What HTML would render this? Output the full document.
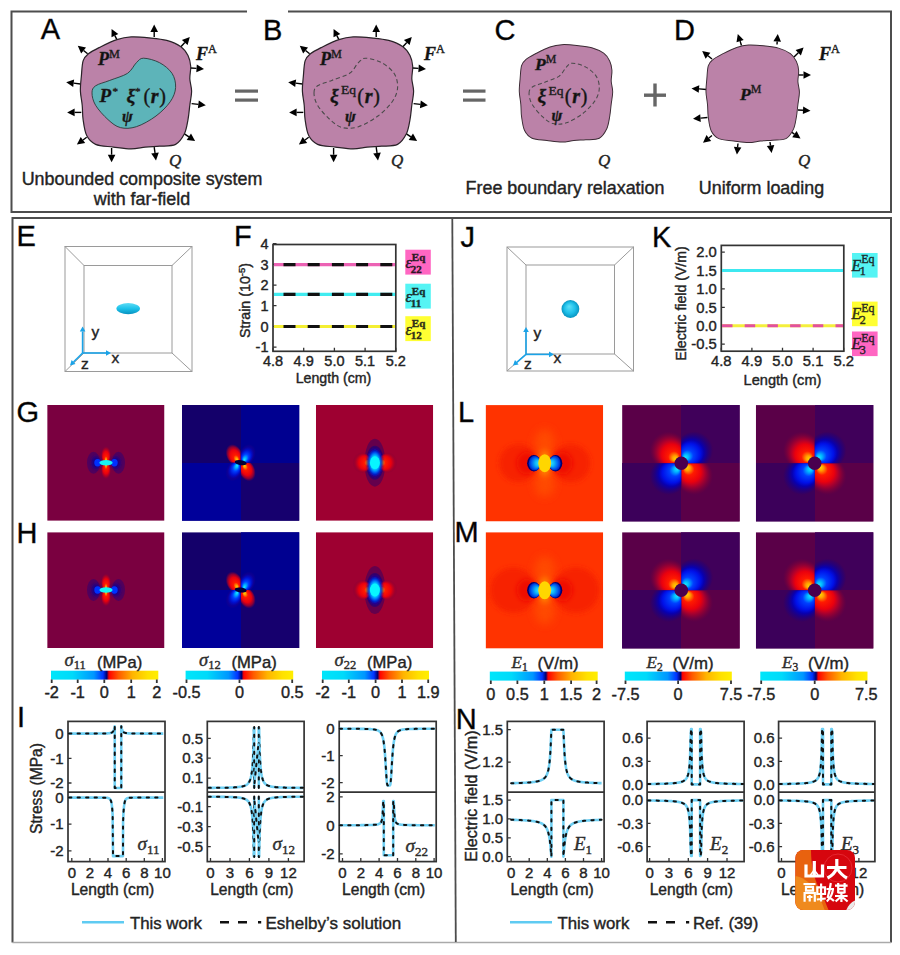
<!DOCTYPE html><html><head><meta charset="utf-8"><style>html,body{margin:0;padding:0;background:#fff;width:900px;height:955px;overflow:hidden}svg{display:block}text{stroke:#262626;stroke-width:0.4px}</style></head><body>
<svg width="900" height="955" viewBox="0 0 900 955">
<defs>
<filter id="b0_5" x="-100%" y="-100%" width="300%" height="300%"><feGaussianBlur stdDeviation="0.5"/></filter>
<filter id="b0_8" x="-100%" y="-100%" width="300%" height="300%"><feGaussianBlur stdDeviation="0.8"/></filter>
<filter id="b1" x="-100%" y="-100%" width="300%" height="300%"><feGaussianBlur stdDeviation="1"/></filter>
<filter id="b1_3" x="-100%" y="-100%" width="300%" height="300%"><feGaussianBlur stdDeviation="1.3"/></filter>
<filter id="b1_6" x="-100%" y="-100%" width="300%" height="300%"><feGaussianBlur stdDeviation="1.6"/></filter>
<filter id="b2" x="-100%" y="-100%" width="300%" height="300%"><feGaussianBlur stdDeviation="2"/></filter>
<filter id="b2_5" x="-100%" y="-100%" width="300%" height="300%"><feGaussianBlur stdDeviation="2.5"/></filter>
<filter id="b3" x="-100%" y="-100%" width="300%" height="300%"><feGaussianBlur stdDeviation="3"/></filter>
<filter id="b4" x="-100%" y="-100%" width="300%" height="300%"><feGaussianBlur stdDeviation="4"/></filter>
<filter id="b5" x="-100%" y="-100%" width="300%" height="300%"><feGaussianBlur stdDeviation="5"/></filter>
<filter id="b6" x="-100%" y="-100%" width="300%" height="300%"><feGaussianBlur stdDeviation="6"/></filter>
</defs>
<g fill="none">
<path d="M247,11.5 H11.5 V212 H891 V11.5 H288" stroke="#4d4d4d" stroke-width="2"/>
<path d="M12.5,942.5 V218 H891 V942.5" stroke="#4d4d4d" stroke-width="2"/>
<path d="M12.5,942.5 H891" stroke="#aaa" stroke-width="1.3"/>
<path d="M452.3,218 L455.8,942" stroke="#4d4d4d" stroke-width="1.8"/>
</g>
<text x="40.8" y="39.2" font-family='"Liberation Sans", sans-serif' font-size="29" fill="#000" >A</text>
<text x="263.0" y="40.0" font-family='"Liberation Sans", sans-serif' font-size="29" fill="#000" >B</text>
<text x="494.5" y="39.5" font-family='"Liberation Sans", sans-serif' font-size="29" fill="#000" >C</text>
<text x="674.0" y="39.5" font-family='"Liberation Sans", sans-serif' font-size="29" fill="#000" >D</text>
<line x1="87.6" y1="53.8" x2="83.6" y2="50.5" stroke="#000" stroke-width="1.4"/>
<path d="M77.8,45.8 L86.0,47.6 L81.2,53.5 Z" fill="#000"/>
<line x1="116.9" y1="39.6" x2="114.9" y2="35.6" stroke="#000" stroke-width="1.4"/>
<path d="M111.6,28.9 L118.3,33.9 L111.5,37.3 Z" fill="#000"/>
<line x1="154.2" y1="36.9" x2="154.2" y2="31.9" stroke="#000" stroke-width="1.4"/>
<path d="M154.2,24.4 L158.0,31.9 L150.4,31.9 Z" fill="#000"/>
<line x1="180.9" y1="46.7" x2="184.8" y2="42.5" stroke="#000" stroke-width="1.4"/>
<path d="M189.8,36.9 L187.6,45.0 L181.9,39.9 Z" fill="#000"/>
<line x1="190.7" y1="68.0" x2="196.5" y2="68.4" stroke="#000" stroke-width="1.4"/>
<path d="M204.0,68.9 L196.3,72.2 L196.8,64.6 Z" fill="#000"/>
<line x1="191.6" y1="103.6" x2="198.4" y2="104.4" stroke="#000" stroke-width="1.4"/>
<path d="M205.8,105.3 L197.9,108.2 L198.8,100.6 Z" fill="#000"/>
<line x1="184.4" y1="133.8" x2="188.9" y2="136.8" stroke="#000" stroke-width="1.4"/>
<path d="M195.1,140.9 L186.7,139.9 L191.0,133.6 Z" fill="#000"/>
<line x1="154.2" y1="147.1" x2="155.0" y2="153.0" stroke="#000" stroke-width="1.4"/>
<path d="M156.0,160.4 L151.2,153.5 L158.8,152.5 Z" fill="#000"/>
<line x1="111.6" y1="148.0" x2="111.6" y2="154.7" stroke="#000" stroke-width="1.4"/>
<path d="M111.6,162.2 L107.8,154.7 L115.4,154.7 Z" fill="#000"/>
<line x1="86.7" y1="137.3" x2="83.0" y2="140.0" stroke="#000" stroke-width="1.4"/>
<path d="M76.9,144.4 L80.7,136.9 L85.2,143.1 Z" fill="#000"/>
<line x1="81.3" y1="112.4" x2="74.6" y2="112.4" stroke="#000" stroke-width="1.4"/>
<path d="M67.1,112.4 L74.6,108.6 L74.6,116.2 Z" fill="#000"/>
<line x1="80.4" y1="84.0" x2="73.6" y2="83.1" stroke="#000" stroke-width="1.4"/>
<path d="M66.2,82.2 L74.1,79.4 L73.2,86.9 Z" fill="#000"/>
<path d="M83.1,60.9 C84.3,57.0 85.4,56.2 88.4,53.8 C91.4,51.4 96.2,49.1 100.9,46.7 C105.7,44.3 111.9,41.2 116.9,39.6 C121.9,38.0 125.8,37.2 131.1,36.9 C136.4,36.6 143.0,37.2 148.9,37.8 C154.8,38.4 161.4,38.9 166.7,40.4 C172.0,41.9 177.3,44.2 180.9,46.7 C184.5,49.2 186.4,52.4 188.0,55.6 C189.6,58.9 190.4,62.4 190.7,66.2 C191.0,70.0 189.7,74.6 189.8,78.7 C190.0,82.8 191.6,86.7 191.6,91.1 C191.6,95.5 190.4,100.5 189.8,105.3 C189.2,110.0 188.9,114.8 188.0,119.6 C187.1,124.3 186.5,129.7 184.4,133.8 C182.3,137.9 179.7,142.3 175.6,144.4 C171.5,146.5 164.6,145.8 159.6,146.2 C154.6,146.6 150.1,146.6 145.3,147.1 C140.6,147.6 136.4,148.9 131.1,148.9 C125.8,148.9 119.2,147.8 113.3,147.1 C107.4,146.3 100.0,146.3 95.6,144.4 C91.2,142.5 88.8,139.7 86.7,135.6 C84.6,131.5 83.8,124.6 83.1,119.6 C82.3,114.5 82.7,110.0 82.2,105.3 C81.8,100.5 80.6,95.8 80.4,91.1 C80.2,86.4 80.8,81.9 81.3,76.9 C81.8,71.9 81.9,64.8 83.1,60.9 Z" fill="#bb82a8" stroke="#2a2228" stroke-width="1.2"/>
<path d="M92.0,92.9 C92.0,89.7 92.6,87.9 95.6,85.8 C98.6,83.7 104.5,82.5 109.8,80.4 C115.1,78.3 123.2,76.2 127.6,73.3 C132.0,70.3 133.7,65.2 136.4,62.7 C139.1,60.2 139.7,58.2 143.6,58.2 C147.5,58.2 154.9,60.2 159.6,62.7 C164.3,65.2 169.3,69.2 172.0,73.3 C174.7,77.4 175.9,82.8 175.6,87.6 C175.3,92.3 173.5,97.1 170.2,101.8 C166.9,106.5 161.6,111.8 156.0,116.0 C150.4,120.2 142.3,124.8 136.4,126.7 C130.5,128.6 125.1,128.8 120.4,127.6 C115.7,126.4 112.1,123.3 108.0,119.6 C103.9,115.9 98.3,109.8 95.6,105.3 C92.9,100.8 92.0,96.2 92.0,92.9 Z" fill="#5db4b9" stroke="#2a3a3a" stroke-width="0.9"/>
<g transform="translate(222,0)">
<line x1="87.6" y1="53.8" x2="83.6" y2="50.5" stroke="#000" stroke-width="1.4"/>
<path d="M77.8,45.8 L86.0,47.6 L81.2,53.5 Z" fill="#000"/>
<line x1="116.9" y1="39.6" x2="114.9" y2="35.6" stroke="#000" stroke-width="1.4"/>
<path d="M111.6,28.9 L118.3,33.9 L111.5,37.3 Z" fill="#000"/>
<line x1="154.2" y1="36.9" x2="154.2" y2="31.9" stroke="#000" stroke-width="1.4"/>
<path d="M154.2,24.4 L158.0,31.9 L150.4,31.9 Z" fill="#000"/>
<line x1="180.9" y1="46.7" x2="184.8" y2="42.5" stroke="#000" stroke-width="1.4"/>
<path d="M189.8,36.9 L187.6,45.0 L181.9,39.9 Z" fill="#000"/>
<line x1="190.7" y1="68.0" x2="196.5" y2="68.4" stroke="#000" stroke-width="1.4"/>
<path d="M204.0,68.9 L196.3,72.2 L196.8,64.6 Z" fill="#000"/>
<line x1="191.6" y1="103.6" x2="198.4" y2="104.4" stroke="#000" stroke-width="1.4"/>
<path d="M205.8,105.3 L197.9,108.2 L198.8,100.6 Z" fill="#000"/>
<line x1="184.4" y1="133.8" x2="188.9" y2="136.8" stroke="#000" stroke-width="1.4"/>
<path d="M195.1,140.9 L186.7,139.9 L191.0,133.6 Z" fill="#000"/>
<line x1="154.2" y1="147.1" x2="155.0" y2="153.0" stroke="#000" stroke-width="1.4"/>
<path d="M156.0,160.4 L151.2,153.5 L158.8,152.5 Z" fill="#000"/>
<line x1="111.6" y1="148.0" x2="111.6" y2="154.7" stroke="#000" stroke-width="1.4"/>
<path d="M111.6,162.2 L107.8,154.7 L115.4,154.7 Z" fill="#000"/>
<line x1="86.7" y1="137.3" x2="83.0" y2="140.0" stroke="#000" stroke-width="1.4"/>
<path d="M76.9,144.4 L80.7,136.9 L85.2,143.1 Z" fill="#000"/>
<line x1="81.3" y1="112.4" x2="74.6" y2="112.4" stroke="#000" stroke-width="1.4"/>
<path d="M67.1,112.4 L74.6,108.6 L74.6,116.2 Z" fill="#000"/>
<line x1="80.4" y1="84.0" x2="73.6" y2="83.1" stroke="#000" stroke-width="1.4"/>
<path d="M66.2,82.2 L74.1,79.4 L73.2,86.9 Z" fill="#000"/>
<path d="M83.1,60.9 C84.3,57.0 85.4,56.2 88.4,53.8 C91.4,51.4 96.2,49.1 100.9,46.7 C105.7,44.3 111.9,41.2 116.9,39.6 C121.9,38.0 125.8,37.2 131.1,36.9 C136.4,36.6 143.0,37.2 148.9,37.8 C154.8,38.4 161.4,38.9 166.7,40.4 C172.0,41.9 177.3,44.2 180.9,46.7 C184.5,49.2 186.4,52.4 188.0,55.6 C189.6,58.9 190.4,62.4 190.7,66.2 C191.0,70.0 189.7,74.6 189.8,78.7 C190.0,82.8 191.6,86.7 191.6,91.1 C191.6,95.5 190.4,100.5 189.8,105.3 C189.2,110.0 188.9,114.8 188.0,119.6 C187.1,124.3 186.5,129.7 184.4,133.8 C182.3,137.9 179.7,142.3 175.6,144.4 C171.5,146.5 164.6,145.8 159.6,146.2 C154.6,146.6 150.1,146.6 145.3,147.1 C140.6,147.6 136.4,148.9 131.1,148.9 C125.8,148.9 119.2,147.8 113.3,147.1 C107.4,146.3 100.0,146.3 95.6,144.4 C91.2,142.5 88.8,139.7 86.7,135.6 C84.6,131.5 83.8,124.6 83.1,119.6 C82.3,114.5 82.7,110.0 82.2,105.3 C81.8,100.5 80.6,95.8 80.4,91.1 C80.2,86.4 80.8,81.9 81.3,76.9 C81.8,71.9 81.9,64.8 83.1,60.9 Z" fill="#bb82a8" stroke="#2a2228" stroke-width="1.2"/>
<path d="M92.0,92.9 C92.0,89.7 92.6,87.9 95.6,85.8 C98.6,83.7 104.5,82.5 109.8,80.4 C115.1,78.3 123.2,76.2 127.6,73.3 C132.0,70.3 133.7,65.2 136.4,62.7 C139.1,60.2 139.7,58.2 143.6,58.2 C147.5,58.2 154.9,60.2 159.6,62.7 C164.3,65.2 169.3,69.2 172.0,73.3 C174.7,77.4 175.9,82.8 175.6,87.6 C175.3,92.3 173.5,97.1 170.2,101.8 C166.9,106.5 161.6,111.8 156.0,116.0 C150.4,120.2 142.3,124.8 136.4,126.7 C130.5,128.6 125.1,128.8 120.4,127.6 C115.7,126.4 112.1,123.3 108.0,119.6 C103.9,115.9 98.3,109.8 95.6,105.3 C92.9,100.8 92.0,96.2 92.0,92.9 Z" fill="none" stroke="#4a4a4a" stroke-width="1.1" stroke-dasharray="4.2,2.8"/>
</g>
<g transform="translate(566,93.4) scale(0.84,0.87) translate(-136,-92.9)">
<path d="M83.1,60.9 C84.3,57.0 85.4,56.2 88.4,53.8 C91.4,51.4 96.2,49.1 100.9,46.7 C105.7,44.3 111.9,41.2 116.9,39.6 C121.9,38.0 125.8,37.2 131.1,36.9 C136.4,36.6 143.0,37.2 148.9,37.8 C154.8,38.4 161.4,38.9 166.7,40.4 C172.0,41.9 177.3,44.2 180.9,46.7 C184.5,49.2 186.4,52.4 188.0,55.6 C189.6,58.9 190.4,62.4 190.7,66.2 C191.0,70.0 189.7,74.6 189.8,78.7 C190.0,82.8 191.6,86.7 191.6,91.1 C191.6,95.5 190.4,100.5 189.8,105.3 C189.2,110.0 188.9,114.8 188.0,119.6 C187.1,124.3 186.5,129.7 184.4,133.8 C182.3,137.9 179.7,142.3 175.6,144.4 C171.5,146.5 164.6,145.8 159.6,146.2 C154.6,146.6 150.1,146.6 145.3,147.1 C140.6,147.6 136.4,148.9 131.1,148.9 C125.8,148.9 119.2,147.8 113.3,147.1 C107.4,146.3 100.0,146.3 95.6,144.4 C91.2,142.5 88.8,139.7 86.7,135.6 C84.6,131.5 83.8,124.6 83.1,119.6 C82.3,114.5 82.7,110.0 82.2,105.3 C81.8,100.5 80.6,95.8 80.4,91.1 C80.2,86.4 80.8,81.9 81.3,76.9 C81.8,71.9 81.9,64.8 83.1,60.9 Z" fill="#bb82a8" stroke="#3a2a33" stroke-width="1.15"/>
<path d="M92.0,92.9 C92.0,89.7 92.6,87.9 95.6,85.8 C98.6,83.7 104.5,82.5 109.8,80.4 C115.1,78.3 123.2,76.2 127.6,73.3 C132.0,70.3 133.7,65.2 136.4,62.7 C139.1,60.2 139.7,58.2 143.6,58.2 C147.5,58.2 154.9,60.2 159.6,62.7 C164.3,65.2 169.3,69.2 172.0,73.3 C174.7,77.4 175.9,82.8 175.6,87.6 C175.3,92.3 173.5,97.1 170.2,101.8 C166.9,106.5 161.6,111.8 156.0,116.0 C150.4,120.2 142.3,124.8 136.4,126.7 C130.5,128.6 125.1,128.8 120.4,127.6 C115.7,126.4 112.1,123.3 108.0,119.6 C103.9,115.9 98.3,109.8 95.6,105.3 C92.9,100.8 92.0,96.2 92.0,92.9 Z" fill="none" stroke="#4a4a4a" stroke-width="1.25" stroke-dasharray="4.8,3.2"/>
</g>
<line x1="712.0" y1="59.0" x2="708.0" y2="55.7" stroke="#000" stroke-width="1.4"/>
<path d="M702.2,51.0 L710.4,52.8 L705.6,58.7 Z" fill="#000"/>
<line x1="741.5" y1="45.5" x2="740.1" y2="41.1" stroke="#000" stroke-width="1.4"/>
<path d="M737.8,34.0 L743.7,40.0 L736.5,42.3 Z" fill="#000"/>
<line x1="777.0" y1="44.5" x2="777.2" y2="41.5" stroke="#000" stroke-width="1.4"/>
<path d="M777.8,34.0 L781.0,41.8 L773.4,41.2 Z" fill="#000"/>
<line x1="794.0" y1="57.0" x2="798.3" y2="52.8" stroke="#000" stroke-width="1.4"/>
<path d="M803.6,47.5 L800.9,55.5 L795.6,50.1 Z" fill="#000"/>
<line x1="798.5" y1="75.0" x2="803.5" y2="75.0" stroke="#000" stroke-width="1.4"/>
<path d="M811.0,75.1 L803.5,78.8 L803.5,71.2 Z" fill="#000"/>
<line x1="798.0" y1="110.0" x2="803.0" y2="110.3" stroke="#000" stroke-width="1.4"/>
<path d="M810.5,110.7 L802.8,114.1 L803.2,106.5 Z" fill="#000"/>
<line x1="790.0" y1="131.0" x2="794.4" y2="134.1" stroke="#000" stroke-width="1.4"/>
<path d="M800.5,138.5 L792.2,137.2 L796.6,131.0 Z" fill="#000"/>
<line x1="770.0" y1="142.0" x2="770.5" y2="145.6" stroke="#000" stroke-width="1.4"/>
<path d="M771.6,153.0 L766.8,146.1 L774.3,145.0 Z" fill="#000"/>
<line x1="738.0" y1="143.5" x2="737.6" y2="147.0" stroke="#000" stroke-width="1.4"/>
<path d="M736.9,154.5 L733.9,146.7 L741.4,147.4 Z" fill="#000"/>
<line x1="712.0" y1="135.5" x2="708.9" y2="138.0" stroke="#000" stroke-width="1.4"/>
<path d="M703.0,142.7 L706.5,135.0 L711.2,141.0 Z" fill="#000"/>
<line x1="707.5" y1="117.5" x2="700.5" y2="118.1" stroke="#000" stroke-width="1.4"/>
<path d="M693.0,118.7 L700.2,114.3 L700.8,121.9 Z" fill="#000"/>
<line x1="706.5" y1="89.5" x2="699.0" y2="88.9" stroke="#000" stroke-width="1.4"/>
<path d="M691.5,88.4 L699.3,85.2 L698.7,92.7 Z" fill="#000"/>
<g transform="translate(752.7,93.8) scale(0.84,0.87) translate(-136,-92.9)">
<path d="M83.1,60.9 C84.3,57.0 85.4,56.2 88.4,53.8 C91.4,51.4 96.2,49.1 100.9,46.7 C105.7,44.3 111.9,41.2 116.9,39.6 C121.9,38.0 125.8,37.2 131.1,36.9 C136.4,36.6 143.0,37.2 148.9,37.8 C154.8,38.4 161.4,38.9 166.7,40.4 C172.0,41.9 177.3,44.2 180.9,46.7 C184.5,49.2 186.4,52.4 188.0,55.6 C189.6,58.9 190.4,62.4 190.7,66.2 C191.0,70.0 189.7,74.6 189.8,78.7 C190.0,82.8 191.6,86.7 191.6,91.1 C191.6,95.5 190.4,100.5 189.8,105.3 C189.2,110.0 188.9,114.8 188.0,119.6 C187.1,124.3 186.5,129.7 184.4,133.8 C182.3,137.9 179.7,142.3 175.6,144.4 C171.5,146.5 164.6,145.8 159.6,146.2 C154.6,146.6 150.1,146.6 145.3,147.1 C140.6,147.6 136.4,148.9 131.1,148.9 C125.8,148.9 119.2,147.8 113.3,147.1 C107.4,146.3 100.0,146.3 95.6,144.4 C91.2,142.5 88.8,139.7 86.7,135.6 C84.6,131.5 83.8,124.6 83.1,119.6 C82.3,114.5 82.7,110.0 82.2,105.3 C81.8,100.5 80.6,95.8 80.4,91.1 C80.2,86.4 80.8,81.9 81.3,76.9 C81.8,71.9 81.9,64.8 83.1,60.9 Z" fill="#bb82a8" stroke="#3a2a33" stroke-width="1.15"/>
</g>
<text x="98" y="64.5" font-family='"Liberation Serif", serif' font-size="18" fill="#111"><tspan font-weight="bold" font-style="italic">P</tspan><tspan font-size="12.2" dy="-7">M</tspan></text>
<text x="196" y="60" font-family='"Liberation Serif", serif' font-size="18" fill="#111"><tspan font-weight="bold" font-style="italic">F</tspan><tspan font-size="12.2" dy="-7">A</tspan></text>
<text x="169" y="166" font-family='"Liberation Serif", serif' font-size="17" font-style="italic" fill="#222">Q</text>
<text x="99.5" y="102" font-family='"Liberation Serif", serif' font-size="19" font-weight="bold" font-style="italic" fill="#111">P</text>
<text x="112.5" y="95" font-family='"Liberation Serif", serif' font-size="11" fill="#111">*</text>
<text x="126.5" y="101.5" font-family='"Liberation Serif", serif' font-size="19.5" font-weight="bold" font-style="italic" fill="#111">ξ</text>
<text x="135.0" y="94.5" font-family='"Liberation Serif", serif' font-size="11" fill="#111">*</text>
<text x="143.5" y="102.5" font-family='"Liberation Serif", serif' font-size="20" fill="#111" textLength="22.5" lengthAdjust="spacing">(<tspan font-weight="bold" font-style="italic">r</tspan>)</text>
<text x="122" y="122" font-family='"Liberation Serif", serif' font-size="16" font-style="italic" font-weight="bold" fill="#111">ψ</text>
<text x="320" y="64.5" font-family='"Liberation Serif", serif' font-size="18" fill="#111"><tspan font-weight="bold" font-style="italic">P</tspan><tspan font-size="12.2" dy="-7">M</tspan></text>
<text x="424" y="60" font-family='"Liberation Serif", serif' font-size="18" fill="#111"><tspan font-weight="bold" font-style="italic">F</tspan><tspan font-size="12.2" dy="-7">A</tspan></text>
<text x="391" y="166" font-family='"Liberation Serif", serif' font-size="17" font-style="italic" fill="#222">Q</text>
<text x="330" y="101.5" font-family='"Liberation Serif", serif' font-size="19.5" font-weight="bold" font-style="italic" fill="#111">ξ</text>
<text x="341" y="94.0" font-family='"Liberation Serif", serif' font-size="12.5" fill="#111" textLength="15" lengthAdjust="spacingAndGlyphs">Eq</text>
<text x="357.3" y="102.5" font-family='"Liberation Serif", serif' font-size="20" fill="#111" textLength="22.5" lengthAdjust="spacing">(<tspan font-weight="bold" font-style="italic">r</tspan>)</text>
<text x="345" y="122" font-family='"Liberation Serif", serif' font-size="16" font-style="italic" font-weight="bold" fill="#111">ψ</text>
<text x="535" y="70" font-family='"Liberation Serif", serif' font-size="17.5" fill="#111"><tspan font-weight="bold" font-style="italic">P</tspan><tspan font-size="11.9" dy="-7">M</tspan></text>
<text x="598" y="166" font-family='"Liberation Serif", serif' font-size="17" font-style="italic" fill="#222">Q</text>
<text x="537.5" y="102" font-family='"Liberation Serif", serif' font-size="19.5" font-weight="bold" font-style="italic" fill="#111">ξ</text>
<text x="548.5" y="94.5" font-family='"Liberation Serif", serif' font-size="12.5" fill="#111" textLength="15" lengthAdjust="spacingAndGlyphs">Eq</text>
<text x="564.8" y="103" font-family='"Liberation Serif", serif' font-size="20" fill="#111" textLength="22.5" lengthAdjust="spacing">(<tspan font-weight="bold" font-style="italic">r</tspan>)</text>
<text x="551.5" y="121" font-family='"Liberation Serif", serif' font-size="16" font-style="italic" font-weight="bold" fill="#111">ψ</text>
<text x="740" y="99.5" font-family='"Liberation Serif", serif' font-size="17.5" fill="#111"><tspan font-weight="bold" font-style="italic">P</tspan><tspan font-size="11.9" dy="-7">M</tspan></text>
<text x="819" y="60" font-family='"Liberation Serif", serif' font-size="18" fill="#111"><tspan font-weight="bold" font-style="italic">F</tspan><tspan font-size="12.2" dy="-7">A</tspan></text>
<text x="798" y="166" font-family='"Liberation Serif", serif' font-size="17" font-style="italic" fill="#222">Q</text>
<g fill="#666">
<rect x="235" y="89.5" width="23" height="3.2"/><rect x="235" y="98.5" width="23" height="3.2"/>
<rect x="463" y="89.5" width="22.5" height="3.2"/><rect x="463" y="98.5" width="22.5" height="3.2"/>
<rect x="644" y="93.5" width="22" height="3.4"/><rect x="653.3" y="83.5" width="3.4" height="23"/>
</g>
<text x="142.0" y="185.0" font-family='"Liberation Sans", sans-serif' font-size="17.9" text-anchor="middle" fill="#222" >Unbounded composite system</text>
<text x="142.0" y="204.5" font-family='"Liberation Sans", sans-serif' font-size="17.9" text-anchor="middle" fill="#222" >with far-field</text>
<text x="565.0" y="193.5" font-family='"Liberation Sans", sans-serif' font-size="17.9" text-anchor="middle" fill="#222" >Free boundary relaxation</text>
<text x="761.5" y="193.5" font-family='"Liberation Sans", sans-serif' font-size="17.9" text-anchor="middle" fill="#222" >Uniform loading</text>
<text x="16.5" y="246.0" font-family='"Liberation Sans", sans-serif' font-size="29" fill="#000" >E</text>
<text x="234.0" y="246.0" font-family='"Liberation Sans", sans-serif' font-size="29" fill="#000" >F</text>
<text x="16.5" y="422.0" font-family='"Liberation Sans", sans-serif' font-size="29" fill="#000" >G</text>
<text x="16.5" y="542.5" font-family='"Liberation Sans", sans-serif' font-size="29" fill="#000" >H</text>
<text x="17.0" y="727.0" font-family='"Liberation Sans", sans-serif' font-size="29" fill="#000" >I</text>
<g fill="none" stroke="#9a9a9a" stroke-width="1">
<rect x="65" y="246.5" width="127" height="125.0"/>
<rect x="84" y="265.5" width="88" height="87.5"/>
<path d="M65,246.5 L84,265.5 M192,246.5 L172,265.5 M192,371.5 L172,353 M65,371.5 L84,353"/>
</g>
<line x1="82.6" y1="353" x2="82.6" y2="331.5" stroke="#1aa3e8" stroke-width="1.6"/>
<path d="M82.6,326.5 L85.4,331.5 L79.8,331.5 Z" fill="#1aa3e8"/>
<line x1="82.6" y1="353" x2="106.0" y2="353.0" stroke="#1aa3e8" stroke-width="1.6"/>
<path d="M111.0,353.0 L106.0,355.8 L106.0,350.2 Z" fill="#1aa3e8"/>
<line x1="82.6" y1="353" x2="73.5" y2="362.0" stroke="#1aa3e8" stroke-width="1.6"/>
<path d="M70.0,365.5 L71.6,360.0 L75.5,364.0 Z" fill="#1aa3e8"/>
<text x="91.5" y="337.0" font-family='"Liberation Sans", sans-serif' font-size="15.5" fill="#222" >y</text>
<text x="111.5" y="362.5" font-family='"Liberation Sans", sans-serif' font-size="15.5" fill="#222" >x</text>
<text x="81.0" y="369.0" font-family='"Liberation Sans", sans-serif' font-size="15.5" fill="#222" >z</text>
<linearGradient id="ellg" x1="0" y1="0" x2="0" y2="1"><stop offset="0" stop-color="#5fdcf5"/><stop offset="0.5" stop-color="#1cc2ea"/><stop offset="1" stop-color="#0891c0"/></linearGradient>
<ellipse cx="128.2" cy="308.6" rx="11.8" ry="5.6" fill="url(#ellg)"/>
<rect x="273" y="244.5" width="122.8" height="106.8" fill="none" stroke="#333" stroke-width="1.7"/>
<path d="M273,347.1 h3.5 M273,326.4 h3.5 M273,305.7 h3.5 M273,285.1 h3.5 M273,264.4 h3.5 M273,243.7 h3.5 " stroke="#333" stroke-width="1.3" fill="none"/>
<path d="M273.0,351.3 v-3.5 M303.7,351.3 v-3.5 M334.4,351.3 v-3.5 M365.1,351.3 v-3.5 M395.8,351.3 v-3.5 " stroke="#333" stroke-width="1.3" fill="none"/>
<text x="268.5" y="248.9" font-family='"Liberation Sans", sans-serif' font-size="14.5" text-anchor="end" fill="#222" >4</text>
<text x="268.5" y="269.6" font-family='"Liberation Sans", sans-serif' font-size="14.5" text-anchor="end" fill="#222" >3</text>
<text x="268.5" y="290.3" font-family='"Liberation Sans", sans-serif' font-size="14.5" text-anchor="end" fill="#222" >2</text>
<text x="268.5" y="310.9" font-family='"Liberation Sans", sans-serif' font-size="14.5" text-anchor="end" fill="#222" >1</text>
<text x="268.5" y="331.6" font-family='"Liberation Sans", sans-serif' font-size="14.5" text-anchor="end" fill="#222" >0</text>
<text x="268.5" y="352.3" font-family='"Liberation Sans", sans-serif' font-size="14.5" text-anchor="end" fill="#222" >-1</text>
<text x="273.0" y="366.0" font-family='"Liberation Sans", sans-serif' font-size="14.5" text-anchor="middle" fill="#222" >4.8</text>
<text x="303.7" y="366.0" font-family='"Liberation Sans", sans-serif' font-size="14.5" text-anchor="middle" fill="#222" >4.9</text>
<text x="334.4" y="366.0" font-family='"Liberation Sans", sans-serif' font-size="14.5" text-anchor="middle" fill="#222" >5.0</text>
<text x="365.1" y="366.0" font-family='"Liberation Sans", sans-serif' font-size="14.5" text-anchor="middle" fill="#222" >5.1</text>
<text x="395.8" y="366.0" font-family='"Liberation Sans", sans-serif' font-size="14.5" text-anchor="middle" fill="#222" >5.2</text>
<text x="333.5" y="382.5" font-family='"Liberation Sans", sans-serif' font-size="14.2" text-anchor="middle" fill="#222" >Length (cm)</text>
<text transform="translate(250,300.5) rotate(-90)" font-family='"Liberation Sans", sans-serif' font-size="14.3" text-anchor="middle" fill="#222">Strain (10<tspan font-size="9.5" dy="-5">-5</tspan><tspan dy="5">)</tspan></text>
<line x1="274" y1="264.6" x2="395" y2="264.6" stroke="#ec62b4" stroke-width="3.2"/>
<line x1="274" y1="264.6" x2="395" y2="264.6" stroke="#111" stroke-width="3.2" stroke-dasharray="12,12.2" stroke-dashoffset="-9.5"/>
<line x1="274" y1="294.3" x2="395" y2="294.3" stroke="#40ecf0" stroke-width="3.2"/>
<line x1="274" y1="294.3" x2="395" y2="294.3" stroke="#111" stroke-width="3.2" stroke-dasharray="12,12.2" stroke-dashoffset="-9.5"/>
<line x1="274" y1="326.5" x2="395" y2="326.5" stroke="#f4ef32" stroke-width="3.2"/>
<line x1="274" y1="326.5" x2="395" y2="326.5" stroke="#111" stroke-width="3.2" stroke-dasharray="12,12.2" stroke-dashoffset="-9.5"/>
<rect x="405.3" y="249.7" width="25.5" height="24.9" fill="#ff66c2"/>
<text x="405.5" y="268.2" font-family='"Liberation Serif", serif' font-size="16" fill="#3a0a28"><tspan font-style="italic">ε</tspan><tspan font-size="11" font-weight="bold" dy="-7.5">Eq</tspan><tspan font-size="11" font-weight="bold" dx="-14.5" dy="12">22</tspan></text>
<rect x="405.3" y="283.7" width="25.5" height="24.9" fill="#55f4f4"/>
<text x="405.5" y="302.2" font-family='"Liberation Serif", serif' font-size="16" fill="#083838"><tspan font-style="italic">ε</tspan><tspan font-size="11" font-weight="bold" dy="-7.5">Eq</tspan><tspan font-size="11" font-weight="bold" dx="-14.5" dy="12">11</tspan></text>
<rect x="405.3" y="316.2" width="25.5" height="24.9" fill="#ffff33"/>
<text x="405.5" y="334.7" font-family='"Liberation Serif", serif' font-size="16" fill="#38380a"><tspan font-style="italic">ε</tspan><tspan font-size="11" font-weight="bold" dy="-7.5">Eq</tspan><tspan font-size="11" font-weight="bold" dx="-14.5" dy="12">12</tspan></text>
<clipPath id="cg01"><rect x="47.2" y="405" width="117.3" height="115.8"/></clipPath>
<g clip-path="url(#cg01)"><rect x="47.2" y="405" width="117.3" height="115.8" fill="#7a0040"/>
<ellipse cx="93.5" cy="462.7" rx="6.5" ry="11" fill="#50005c" filter="url(#b2_2)"/>
<ellipse cx="96.0" cy="462.7" rx="4.5" ry="6.5" fill="#16008a" filter="url(#b1_6)"/>
<radialGradient id="hg1" cx="0.5" cy="0.5" r="0.5" fx="0.500" fy="0.890"><stop offset="0" stop-color="#ffe000"/><stop offset="0.15" stop-color="#ff9a00"/><stop offset="0.32" stop-color="#ff1a00"/><stop offset="0.64" stop-color="#e8000f"/><stop offset="0.83" stop-color="#a80028" stop-opacity="0.8"/><stop offset="1" stop-color="#800038" stop-opacity="0"/></radialGradient>
<ellipse cx="106.0" cy="454.5" rx="5.0" ry="8.6" fill="url(#hg1)" filter="url(#b0_9)"/>
<ellipse cx="97.6" cy="462.7" rx="3.3" ry="3.7" fill="#0030ff" filter="url(#b0_9)"/>
<ellipse cx="118.5" cy="462.7" rx="6.5" ry="11" fill="#50005c" filter="url(#b2_2)"/>
<ellipse cx="116.0" cy="462.7" rx="4.5" ry="6.5" fill="#16008a" filter="url(#b1_6)"/>
<radialGradient id="hg2" cx="0.5" cy="0.5" r="0.5" fx="0.500" fy="0.110"><stop offset="0" stop-color="#ffe000"/><stop offset="0.15" stop-color="#ff9a00"/><stop offset="0.32" stop-color="#ff1a00"/><stop offset="0.64" stop-color="#e8000f"/><stop offset="0.83" stop-color="#a80028" stop-opacity="0.8"/><stop offset="1" stop-color="#800038" stop-opacity="0"/></radialGradient>
<ellipse cx="106.0" cy="470.9" rx="5.0" ry="8.6" fill="url(#hg2)" filter="url(#b0_9)"/>
<ellipse cx="114.4" cy="462.7" rx="3.3" ry="3.7" fill="#0030ff" filter="url(#b0_9)"/>
<ellipse cx="106.0" cy="462.7" rx="6.6" ry="2.75" fill="#12f4f4" filter="url(#b0_5)"/>
</g>
<clipPath id="cg02"><rect x="182" y="405" width="117.3" height="115.8"/></clipPath>
<clipPath id="cg02q0"><rect x="182" y="405" width="58.70" height="57.70"/></clipPath>
<clipPath id="cg02q1"><rect x="240.70" y="405" width="58.60" height="57.70"/></clipPath>
<clipPath id="cg02q2"><rect x="182" y="462.70" width="58.70" height="58.10"/></clipPath>
<clipPath id="cg02q3"><rect x="240.70" y="462.70" width="58.60" height="58.10"/></clipPath>
<g clip-path="url(#cg02)">
<rect x="182" y="405" width="117.3" height="115.8" fill="#14006a"/>
<rect x="240.7" y="405" width="59.6" height="57.7" fill="#000090" shape-rendering="crispEdges"/>
<rect x="182" y="462.7" width="58.7" height="59.1" fill="#00009a" shape-rendering="crispEdges"/>
<rect x="240.7" y="462.7" width="59.6" height="59.1" fill="#16006e" shape-rendering="crispEdges"/>
<g clip-path="url(#cg02q0)">
<radialGradient id="hg3" cx="0.5" cy="0.5" r="0.5" fx="0.535" fy="0.790"><stop offset="0" stop-color="#ffe000"/><stop offset="0.15" stop-color="#ff9a00"/><stop offset="0.32" stop-color="#ff1a00"/><stop offset="0.64" stop-color="#e8000f"/><stop offset="0.83" stop-color="#a80028" stop-opacity="0.8"/><stop offset="1" stop-color="#800038" stop-opacity="0"/></radialGradient>
<ellipse cx="234.2" cy="454.7" rx="8.0" ry="11" fill="url(#hg3)" filter="url(#b0_9)" transform="rotate(-24 234.2 454.7)"/>
</g>
<g clip-path="url(#cg02q3)">
<radialGradient id="hg4" cx="0.5" cy="0.5" r="0.5" fx="0.465" fy="0.210"><stop offset="0" stop-color="#ffe000"/><stop offset="0.15" stop-color="#ff9a00"/><stop offset="0.32" stop-color="#ff1a00"/><stop offset="0.64" stop-color="#e8000f"/><stop offset="0.83" stop-color="#a80028" stop-opacity="0.8"/><stop offset="1" stop-color="#800038" stop-opacity="0"/></radialGradient>
<ellipse cx="247.2" cy="470.7" rx="8.0" ry="11" fill="url(#hg4)" filter="url(#b0_9)" transform="rotate(-24 247.2 470.7)"/>
</g>
<g clip-path="url(#cg02q1)">
<radialGradient id="hg5" cx="0.5" cy="0.5" r="0.5" fx="0.465" fy="0.790"><stop offset="0" stop-color="#20f4ff"/><stop offset="0.18" stop-color="#00b0ff"/><stop offset="0.38" stop-color="#0040ff"/><stop offset="0.62" stop-color="#0010d0"/><stop offset="0.82" stop-color="#10009a" stop-opacity="0.75"/><stop offset="1" stop-color="#200080" stop-opacity="0"/></radialGradient>
<ellipse cx="247.2" cy="454.7" rx="8.0" ry="11" fill="url(#hg5)" filter="url(#b0_9)" transform="rotate(24 247.2 454.7)"/>
</g>
<g clip-path="url(#cg02q2)">
<radialGradient id="hg6" cx="0.5" cy="0.5" r="0.5" fx="0.535" fy="0.210"><stop offset="0" stop-color="#20f4ff"/><stop offset="0.18" stop-color="#00b0ff"/><stop offset="0.38" stop-color="#0040ff"/><stop offset="0.62" stop-color="#0010d0"/><stop offset="0.82" stop-color="#10009a" stop-opacity="0.75"/><stop offset="1" stop-color="#200080" stop-opacity="0"/></radialGradient>
<ellipse cx="234.2" cy="470.7" rx="8.0" ry="11" fill="url(#hg6)" filter="url(#b0_9)" transform="rotate(24 234.2 470.7)"/>
</g>
<ellipse cx="240.7" cy="462.7" rx="6.0" ry="2.5" fill="#000038" filter="url(#b0_4)" transform="rotate(8 240.7 462.7)"/>
</g>
<clipPath id="cg03"><rect x="315.9" y="405" width="117.3" height="115.8"/></clipPath>
<g clip-path="url(#cg03)"><rect x="315.9" y="405" width="117.3" height="115.8" fill="#9e0031"/>
<ellipse cx="374.9" cy="462.7" rx="10.5" ry="24" fill="#64004c" filter="url(#b2_6)"/>
<ellipse cx="374.9" cy="462.7" rx="9" ry="17" fill="#3a0068" filter="url(#b2_2)"/>
<radialGradient id="hg7" cx="0.5" cy="0.5" r="0.5" fx="0.921" fy="0.500"><stop offset="0" stop-color="#ffe000"/><stop offset="0.15" stop-color="#ff9a00"/><stop offset="0.32" stop-color="#ff1a00"/><stop offset="0.64" stop-color="#e8000f"/><stop offset="0.83" stop-color="#a80028" stop-opacity="0.8"/><stop offset="1" stop-color="#800038" stop-opacity="0"/></radialGradient>
<ellipse cx="361.9" cy="462.7" rx="9.5" ry="10.5" fill="url(#hg7)" filter="url(#b1_1)"/>
<radialGradient id="hg8" cx="0.5" cy="0.5" r="0.5" fx="0.079" fy="0.500"><stop offset="0" stop-color="#ffe000"/><stop offset="0.15" stop-color="#ff9a00"/><stop offset="0.32" stop-color="#ff1a00"/><stop offset="0.64" stop-color="#e8000f"/><stop offset="0.83" stop-color="#a80028" stop-opacity="0.8"/><stop offset="1" stop-color="#800038" stop-opacity="0"/></radialGradient>
<ellipse cx="387.9" cy="462.7" rx="9.5" ry="10.5" fill="url(#hg8)" filter="url(#b1_1)"/>
<radialGradient id="hg9" cx="0.5" cy="0.5" r="0.5" fx="0.500" fy="0.500"><stop offset="0" stop-color="#10f8ff"/><stop offset="0.38" stop-color="#00eeff"/><stop offset="0.55" stop-color="#0098ff"/><stop offset="0.7" stop-color="#0030f0"/><stop offset="0.86" stop-color="#0808a8"/><stop offset="1" stop-color="#200080" stop-opacity="0.4"/></radialGradient>
<ellipse cx="374.9" cy="462.7" rx="8.2" ry="15" fill="url(#hg9)" filter="url(#b0_8)"/>
<ellipse cx="374.9" cy="462.7" rx="5.0" ry="6.4" fill="#08f6ff" filter="url(#b1_0)"/>
</g>
<clipPath id="cg11"><rect x="47.2" y="532.2" width="117.3" height="115.8"/></clipPath>
<g clip-path="url(#cg11)"><rect x="47.2" y="532.2" width="117.3" height="115.8" fill="#7a0040"/>
<ellipse cx="93.5" cy="590.0" rx="6.5" ry="11" fill="#50005c" filter="url(#b2_2)"/>
<ellipse cx="96.0" cy="590.0" rx="4.5" ry="6.5" fill="#16008a" filter="url(#b1_6)"/>
<radialGradient id="hg10" cx="0.5" cy="0.5" r="0.5" fx="0.500" fy="0.890"><stop offset="0" stop-color="#ffe000"/><stop offset="0.15" stop-color="#ff9a00"/><stop offset="0.32" stop-color="#ff1a00"/><stop offset="0.64" stop-color="#e8000f"/><stop offset="0.83" stop-color="#a80028" stop-opacity="0.8"/><stop offset="1" stop-color="#800038" stop-opacity="0"/></radialGradient>
<ellipse cx="106.0" cy="581.8" rx="5.0" ry="8.6" fill="url(#hg10)" filter="url(#b0_9)"/>
<ellipse cx="97.6" cy="590.0" rx="3.3" ry="3.7" fill="#0030ff" filter="url(#b0_9)"/>
<ellipse cx="118.5" cy="590.0" rx="6.5" ry="11" fill="#50005c" filter="url(#b2_2)"/>
<ellipse cx="116.0" cy="590.0" rx="4.5" ry="6.5" fill="#16008a" filter="url(#b1_6)"/>
<radialGradient id="hg11" cx="0.5" cy="0.5" r="0.5" fx="0.500" fy="0.110"><stop offset="0" stop-color="#ffe000"/><stop offset="0.15" stop-color="#ff9a00"/><stop offset="0.32" stop-color="#ff1a00"/><stop offset="0.64" stop-color="#e8000f"/><stop offset="0.83" stop-color="#a80028" stop-opacity="0.8"/><stop offset="1" stop-color="#800038" stop-opacity="0"/></radialGradient>
<ellipse cx="106.0" cy="598.2" rx="5.0" ry="8.6" fill="url(#hg11)" filter="url(#b0_9)"/>
<ellipse cx="114.4" cy="590.0" rx="3.3" ry="3.7" fill="#0030ff" filter="url(#b0_9)"/>
<ellipse cx="106.0" cy="590.0" rx="6.6" ry="2.75" fill="#12f4f4" filter="url(#b0_5)"/>
</g>
<clipPath id="cg12"><rect x="182" y="532.2" width="117.3" height="115.8"/></clipPath>
<clipPath id="cg12q0"><rect x="182" y="532.2" width="58.70" height="57.80"/></clipPath>
<clipPath id="cg12q1"><rect x="240.70" y="532.2" width="58.60" height="57.80"/></clipPath>
<clipPath id="cg12q2"><rect x="182" y="590.00" width="58.70" height="58.00"/></clipPath>
<clipPath id="cg12q3"><rect x="240.70" y="590.00" width="58.60" height="58.00"/></clipPath>
<g clip-path="url(#cg12)">
<rect x="182" y="532.2" width="117.3" height="115.8" fill="#14006a"/>
<rect x="240.7" y="532.2" width="59.6" height="57.8" fill="#000090" shape-rendering="crispEdges"/>
<rect x="182" y="590.0" width="58.7" height="59.0" fill="#00009a" shape-rendering="crispEdges"/>
<rect x="240.7" y="590.0" width="59.6" height="59.0" fill="#16006e" shape-rendering="crispEdges"/>
<g clip-path="url(#cg12q0)">
<radialGradient id="hg12" cx="0.5" cy="0.5" r="0.5" fx="0.535" fy="0.790"><stop offset="0" stop-color="#ffe000"/><stop offset="0.15" stop-color="#ff9a00"/><stop offset="0.32" stop-color="#ff1a00"/><stop offset="0.64" stop-color="#e8000f"/><stop offset="0.83" stop-color="#a80028" stop-opacity="0.8"/><stop offset="1" stop-color="#800038" stop-opacity="0"/></radialGradient>
<ellipse cx="234.2" cy="582.0" rx="8.0" ry="11" fill="url(#hg12)" filter="url(#b0_9)" transform="rotate(-24 234.2 582.0)"/>
</g>
<g clip-path="url(#cg12q3)">
<radialGradient id="hg13" cx="0.5" cy="0.5" r="0.5" fx="0.465" fy="0.210"><stop offset="0" stop-color="#ffe000"/><stop offset="0.15" stop-color="#ff9a00"/><stop offset="0.32" stop-color="#ff1a00"/><stop offset="0.64" stop-color="#e8000f"/><stop offset="0.83" stop-color="#a80028" stop-opacity="0.8"/><stop offset="1" stop-color="#800038" stop-opacity="0"/></radialGradient>
<ellipse cx="247.2" cy="598.0" rx="8.0" ry="11" fill="url(#hg13)" filter="url(#b0_9)" transform="rotate(-24 247.2 598.0)"/>
</g>
<g clip-path="url(#cg12q1)">
<radialGradient id="hg14" cx="0.5" cy="0.5" r="0.5" fx="0.465" fy="0.790"><stop offset="0" stop-color="#20f4ff"/><stop offset="0.18" stop-color="#00b0ff"/><stop offset="0.38" stop-color="#0040ff"/><stop offset="0.62" stop-color="#0010d0"/><stop offset="0.82" stop-color="#10009a" stop-opacity="0.75"/><stop offset="1" stop-color="#200080" stop-opacity="0"/></radialGradient>
<ellipse cx="247.2" cy="582.0" rx="8.0" ry="11" fill="url(#hg14)" filter="url(#b0_9)" transform="rotate(24 247.2 582.0)"/>
</g>
<g clip-path="url(#cg12q2)">
<radialGradient id="hg15" cx="0.5" cy="0.5" r="0.5" fx="0.535" fy="0.210"><stop offset="0" stop-color="#20f4ff"/><stop offset="0.18" stop-color="#00b0ff"/><stop offset="0.38" stop-color="#0040ff"/><stop offset="0.62" stop-color="#0010d0"/><stop offset="0.82" stop-color="#10009a" stop-opacity="0.75"/><stop offset="1" stop-color="#200080" stop-opacity="0"/></radialGradient>
<ellipse cx="234.2" cy="598.0" rx="8.0" ry="11" fill="url(#hg15)" filter="url(#b0_9)" transform="rotate(24 234.2 598.0)"/>
</g>
<ellipse cx="240.7" cy="590.0" rx="6.0" ry="2.5" fill="#000038" filter="url(#b0_4)" transform="rotate(8 240.7 590.0)"/>
</g>
<clipPath id="cg13"><rect x="315.9" y="532.2" width="117.3" height="115.8"/></clipPath>
<g clip-path="url(#cg13)"><rect x="315.9" y="532.2" width="117.3" height="115.8" fill="#9e0031"/>
<ellipse cx="374.9" cy="590.0" rx="10.5" ry="24" fill="#64004c" filter="url(#b2_6)"/>
<ellipse cx="374.9" cy="590.0" rx="9" ry="17" fill="#3a0068" filter="url(#b2_2)"/>
<radialGradient id="hg16" cx="0.5" cy="0.5" r="0.5" fx="0.921" fy="0.500"><stop offset="0" stop-color="#ffe000"/><stop offset="0.15" stop-color="#ff9a00"/><stop offset="0.32" stop-color="#ff1a00"/><stop offset="0.64" stop-color="#e8000f"/><stop offset="0.83" stop-color="#a80028" stop-opacity="0.8"/><stop offset="1" stop-color="#800038" stop-opacity="0"/></radialGradient>
<ellipse cx="361.9" cy="590.0" rx="9.5" ry="10.5" fill="url(#hg16)" filter="url(#b1_1)"/>
<radialGradient id="hg17" cx="0.5" cy="0.5" r="0.5" fx="0.079" fy="0.500"><stop offset="0" stop-color="#ffe000"/><stop offset="0.15" stop-color="#ff9a00"/><stop offset="0.32" stop-color="#ff1a00"/><stop offset="0.64" stop-color="#e8000f"/><stop offset="0.83" stop-color="#a80028" stop-opacity="0.8"/><stop offset="1" stop-color="#800038" stop-opacity="0"/></radialGradient>
<ellipse cx="387.9" cy="590.0" rx="9.5" ry="10.5" fill="url(#hg17)" filter="url(#b1_1)"/>
<radialGradient id="hg18" cx="0.5" cy="0.5" r="0.5" fx="0.500" fy="0.500"><stop offset="0" stop-color="#10f8ff"/><stop offset="0.38" stop-color="#00eeff"/><stop offset="0.55" stop-color="#0098ff"/><stop offset="0.7" stop-color="#0030f0"/><stop offset="0.86" stop-color="#0808a8"/><stop offset="1" stop-color="#200080" stop-opacity="0.4"/></radialGradient>
<ellipse cx="374.9" cy="590.0" rx="8.2" ry="15" fill="url(#hg18)" filter="url(#b0_8)"/>
<ellipse cx="374.9" cy="590.0" rx="5.0" ry="6.4" fill="#08f6ff" filter="url(#b1_0)"/>
</g>
<linearGradient id="cbg" x1="0" y1="0" x2="1" y2="0"><stop offset="0.0" stop-color="rgb(0, 230, 250)"/><stop offset="0.2" stop-color="rgb(0, 218, 250)"/><stop offset="0.4" stop-color="rgb(0, 150, 255)"/><stop offset="0.485" stop-color="rgb(0, 50, 255)"/><stop offset="0.52" stop-color="rgb(0, 0, 110)"/><stop offset="0.54" stop-color="rgb(255, 0, 0)"/><stop offset="0.63" stop-color="rgb(255, 90, 0)"/><stop offset="0.76" stop-color="rgb(255, 180, 0)"/><stop offset="0.9" stop-color="rgb(255, 225, 0)"/><stop offset="1.0" stop-color="rgb(255, 238, 0)"/></linearGradient>
<rect x="51" y="670.7" width="107.3" height="8.9" fill="url(#cbg)"/>
<path d="M51.7,679.6 v3.4 M77.7,679.6 v3.4 M104.3,679.6 v3.4 M131.2,679.6 v3.4 M156.8,679.6 v3.4 " stroke="#333" stroke-width="1.8"/>
<text x="51.7" y="698.0" font-family='"Liberation Sans", sans-serif' font-size="16.3" text-anchor="middle" fill="#222" >-2</text>
<text x="77.7" y="698.0" font-family='"Liberation Sans", sans-serif' font-size="16.3" text-anchor="middle" fill="#222" >-1</text>
<text x="104.3" y="698.0" font-family='"Liberation Sans", sans-serif' font-size="16.3" text-anchor="middle" fill="#222" >0</text>
<text x="131.2" y="698.0" font-family='"Liberation Sans", sans-serif' font-size="16.3" text-anchor="middle" fill="#222" >1</text>
<text x="156.8" y="698.0" font-family='"Liberation Sans", sans-serif' font-size="16.3" text-anchor="middle" fill="#222" >2</text>
<text x="64.5" y="665.5" font-family='"Liberation Serif", serif' font-size="18.5" fill="#333"><tspan font-style="italic">σ</tspan><tspan font-size="12.5" dy="3">11</tspan></text>
<text x="97.0" y="667.5" font-family='"Liberation Sans", sans-serif' font-size="16.6" fill="#222" >(MPa)</text>
<rect x="185.6" y="670.7" width="107.6" height="8.9" fill="url(#cbg)"/>
<path d="M186.5,679.6 v3.4 M239.5,679.6 v3.4 M292.2,679.6 v3.4 " stroke="#333" stroke-width="1.8"/>
<text x="186.5" y="698.0" font-family='"Liberation Sans", sans-serif' font-size="16.3" text-anchor="middle" fill="#222" >-0.5</text>
<text x="239.5" y="698.0" font-family='"Liberation Sans", sans-serif' font-size="16.3" text-anchor="middle" fill="#222" >0</text>
<text x="292.2" y="698.0" font-family='"Liberation Sans", sans-serif' font-size="16.3" text-anchor="middle" fill="#222" >0.5</text>
<text x="199" y="665.5" font-family='"Liberation Serif", serif' font-size="18.5" fill="#333"><tspan font-style="italic">σ</tspan><tspan font-size="12.5" dy="3">12</tspan></text>
<text x="231.5" y="667.5" font-family='"Liberation Sans", sans-serif' font-size="16.6" fill="#222" >(MPa)</text>
<rect x="322" y="670.7" width="107.0" height="8.9" fill="url(#cbg)"/>
<path d="M322.7,679.6 v3.4 M348.8,679.6 v3.4 M375.6,679.6 v3.4 M402,679.6 v3.4 M428.2,679.6 v3.4 " stroke="#333" stroke-width="1.8"/>
<text x="322.7" y="698.0" font-family='"Liberation Sans", sans-serif' font-size="16.3" text-anchor="middle" fill="#222" >-2</text>
<text x="348.8" y="698.0" font-family='"Liberation Sans", sans-serif' font-size="16.3" text-anchor="middle" fill="#222" >-1</text>
<text x="375.6" y="698.0" font-family='"Liberation Sans", sans-serif' font-size="16.3" text-anchor="middle" fill="#222" >0</text>
<text x="402.0" y="698.0" font-family='"Liberation Sans", sans-serif' font-size="16.3" text-anchor="middle" fill="#222" >1</text>
<text x="428.2" y="698.0" font-family='"Liberation Sans", sans-serif' font-size="16.3" text-anchor="middle" fill="#222" >1.9</text>
<text x="334.5" y="665.5" font-family='"Liberation Serif", serif' font-size="18.5" fill="#333"><tspan font-style="italic">σ</tspan><tspan font-size="12.5" dy="3">22</tspan></text>
<text x="367.0" y="667.5" font-family='"Liberation Sans", sans-serif' font-size="16.6" fill="#222" >(MPa)</text>
<text transform="translate(41.5,788.5) rotate(-90)" font-family='"Liberation Sans", sans-serif' font-size="15.6" text-anchor="middle" fill="#222">Stress (MPa)</text>
<rect x="68" y="721.4" width="97.0" height="140.2" fill="none" stroke="#333" stroke-width="1.7"/>
<line x1="68" y1="792.1" x2="165" y2="792.1" stroke="#333" stroke-width="1.7"/>
<path d="M68,733.6 h3.5 M68,758.3 h3.5 M68,783.0 h3.5 M68,797.6 h3.5 M68,824.2 h3.5 M68,850.8 h3.5 " stroke="#333" stroke-width="1.3" fill="none"/>
<path d="M71.8,861.6 v-3.5 M89.9,861.6 v-3.5 M108.0,861.6 v-3.5 M126.2,861.6 v-3.5 M144.3,861.6 v-3.5 M162.4,861.6 v-3.5 " stroke="#333" stroke-width="1.3" fill="none"/>
<text x="63.5" y="738.8" font-family='"Liberation Sans", sans-serif' font-size="15" text-anchor="end" fill="#222" >0</text>
<text x="63.5" y="763.5" font-family='"Liberation Sans", sans-serif' font-size="15" text-anchor="end" fill="#222" >-1</text>
<text x="63.5" y="788.2" font-family='"Liberation Sans", sans-serif' font-size="15" text-anchor="end" fill="#222" >-2</text>
<text x="63.5" y="802.8" font-family='"Liberation Sans", sans-serif' font-size="15" text-anchor="end" fill="#222" >0</text>
<text x="63.5" y="829.4" font-family='"Liberation Sans", sans-serif' font-size="15" text-anchor="end" fill="#222" >-1</text>
<text x="63.5" y="856.0" font-family='"Liberation Sans", sans-serif' font-size="15" text-anchor="end" fill="#222" >-2</text>
<text x="71.8" y="877.8" font-family='"Liberation Sans", sans-serif' font-size="15" text-anchor="middle" fill="#222" >0</text>
<text x="89.9" y="877.8" font-family='"Liberation Sans", sans-serif' font-size="15" text-anchor="middle" fill="#222" >2</text>
<text x="108.0" y="877.8" font-family='"Liberation Sans", sans-serif' font-size="15" text-anchor="middle" fill="#222" >4</text>
<text x="126.2" y="877.8" font-family='"Liberation Sans", sans-serif' font-size="15" text-anchor="middle" fill="#222" >6</text>
<text x="144.3" y="877.8" font-family='"Liberation Sans", sans-serif' font-size="15" text-anchor="middle" fill="#222" >8</text>
<text x="162.4" y="877.8" font-family='"Liberation Sans", sans-serif' font-size="15" text-anchor="middle" fill="#222" >10</text>
<text x="112.5" y="894.6" font-family='"Liberation Sans", sans-serif' font-size="15.6" text-anchor="middle" fill="#222" >Length (cm)</text>
<path d="M69.08,733.60 L69.56,733.60 L70.03,733.60 L70.50,733.60 L70.98,733.60 L71.45,733.60 L71.92,733.60 L72.40,733.60 L72.87,733.60 L73.34,733.60 L73.82,733.60 L74.29,733.60 L74.76,733.60 L75.24,733.60 L75.71,733.60 L76.18,733.60 L76.66,733.60 L77.13,733.60 L77.60,733.60 L78.08,733.60 L78.55,733.60 L79.03,733.60 L79.50,733.60 L79.97,733.60 L80.45,733.60 L80.92,733.59 L81.39,733.59 L81.87,733.59 L82.34,733.59 L82.81,733.59 L83.29,733.59 L83.76,733.59 L84.23,733.59 L84.71,733.59 L85.18,733.59 L85.65,733.59 L86.13,733.59 L86.60,733.59 L87.07,733.59 L87.55,733.59 L88.02,733.59 L88.49,733.59 L88.97,733.59 L89.44,733.59 L89.92,733.59 L90.39,733.59 L90.86,733.59 L91.34,733.59 L91.81,733.59 L92.28,733.58 L92.76,733.58 L93.23,733.58 L93.70,733.58 L94.18,733.58 L94.65,733.58 L95.12,733.58 L95.60,733.58 L96.07,733.58 L96.54,733.57 L97.02,733.57 L97.49,733.57 L97.96,733.57 L98.44,733.57 L98.91,733.56 L99.39,733.56 L99.86,733.56 L100.33,733.55 L100.81,733.55 L101.28,733.55 L101.75,733.54 L102.23,733.53 L102.70,733.53 L103.17,733.52 L103.65,733.51 L104.12,733.50 L104.59,733.49 L105.07,733.48 L105.54,733.47 L106.01,733.45 L106.49,733.43 L106.96,733.41 L107.43,733.38 L107.91,733.35 L108.38,733.31 L108.85,733.26 L109.33,733.21 L109.80,733.13 L110.28,733.04 L110.75,732.93 L111.22,732.78 L111.70,732.58 L112.17,732.31 L112.64,731.93 L113.12,731.40 L113.59,730.61 L114.06,729.41 L114.54,727.44 L114.74,726.19 L114.74,787.94 L121.27,787.94 L121.27,726.19 L121.64,728.24 L122.11,729.89 L122.59,730.92 L123.06,731.61 L123.53,732.08 L124.01,732.41 L124.48,732.65 L124.95,732.83 L125.43,732.97 L125.90,733.08 L126.37,733.16 L126.85,733.23 L127.32,733.28 L127.79,733.33 L128.27,733.36 L128.74,733.39 L129.21,733.42 L129.69,733.44 L130.16,733.46 L130.64,733.47 L131.11,733.49 L131.58,733.50 L132.06,733.51 L132.53,733.52 L133.00,733.52 L133.48,733.53 L133.95,733.54 L134.42,733.54 L134.90,733.55 L135.37,733.55 L135.84,733.55 L136.32,733.56 L136.79,733.56 L137.26,733.56 L137.74,733.57 L138.21,733.57 L138.68,733.57 L139.16,733.57 L139.63,733.57 L140.11,733.58 L140.58,733.58 L141.05,733.58 L141.53,733.58 L142.00,733.58 L142.47,733.58 L142.95,733.58 L143.42,733.58 L143.89,733.59 L144.37,733.59 L144.84,733.59 L145.31,733.59 L145.79,733.59 L146.26,733.59 L146.73,733.59 L147.21,733.59 L147.68,733.59 L148.15,733.59 L148.63,733.59 L149.10,733.59 L149.57,733.59 L150.05,733.59 L150.52,733.59 L151.00,733.59 L151.47,733.59 L151.94,733.59 L152.42,733.59 L152.89,733.59 L153.36,733.59 L153.84,733.59 L154.31,733.59 L154.78,733.59 L155.26,733.60 L155.73,733.60 L156.20,733.60 L156.68,733.60 L157.15,733.60 L157.62,733.60 L158.10,733.60 L158.57,733.60 L159.04,733.60 L159.52,733.60 L159.99,733.60 L160.47,733.60 L160.94,733.60 L161.41,733.60 L161.89,733.60 L162.36,733.60 L162.83,733.60 L163.31,733.60" fill="none" stroke="#6fd0f4" stroke-width="2.6" stroke-linejoin="round"/>
<path d="M69.08,733.60 L69.56,733.60 L70.03,733.60 L70.50,733.60 L70.98,733.60 L71.45,733.60 L71.92,733.60 L72.40,733.60 L72.87,733.60 L73.34,733.60 L73.82,733.60 L74.29,733.60 L74.76,733.60 L75.24,733.60 L75.71,733.60 L76.18,733.60 L76.66,733.60 L77.13,733.60 L77.60,733.60 L78.08,733.60 L78.55,733.60 L79.03,733.60 L79.50,733.60 L79.97,733.60 L80.45,733.60 L80.92,733.59 L81.39,733.59 L81.87,733.59 L82.34,733.59 L82.81,733.59 L83.29,733.59 L83.76,733.59 L84.23,733.59 L84.71,733.59 L85.18,733.59 L85.65,733.59 L86.13,733.59 L86.60,733.59 L87.07,733.59 L87.55,733.59 L88.02,733.59 L88.49,733.59 L88.97,733.59 L89.44,733.59 L89.92,733.59 L90.39,733.59 L90.86,733.59 L91.34,733.59 L91.81,733.59 L92.28,733.58 L92.76,733.58 L93.23,733.58 L93.70,733.58 L94.18,733.58 L94.65,733.58 L95.12,733.58 L95.60,733.58 L96.07,733.58 L96.54,733.57 L97.02,733.57 L97.49,733.57 L97.96,733.57 L98.44,733.57 L98.91,733.56 L99.39,733.56 L99.86,733.56 L100.33,733.55 L100.81,733.55 L101.28,733.55 L101.75,733.54 L102.23,733.53 L102.70,733.53 L103.17,733.52 L103.65,733.51 L104.12,733.50 L104.59,733.49 L105.07,733.48 L105.54,733.47 L106.01,733.45 L106.49,733.43 L106.96,733.41 L107.43,733.38 L107.91,733.35 L108.38,733.31 L108.85,733.26 L109.33,733.21 L109.80,733.13 L110.28,733.04 L110.75,732.93 L111.22,732.78 L111.70,732.58 L112.17,732.31 L112.64,731.93 L113.12,731.40 L113.59,730.61 L114.06,729.41 L114.54,727.44 L114.74,726.19 L114.74,787.94 L121.27,787.94 L121.27,726.19 L121.64,728.24 L122.11,729.89 L122.59,730.92 L123.06,731.61 L123.53,732.08 L124.01,732.41 L124.48,732.65 L124.95,732.83 L125.43,732.97 L125.90,733.08 L126.37,733.16 L126.85,733.23 L127.32,733.28 L127.79,733.33 L128.27,733.36 L128.74,733.39 L129.21,733.42 L129.69,733.44 L130.16,733.46 L130.64,733.47 L131.11,733.49 L131.58,733.50 L132.06,733.51 L132.53,733.52 L133.00,733.52 L133.48,733.53 L133.95,733.54 L134.42,733.54 L134.90,733.55 L135.37,733.55 L135.84,733.55 L136.32,733.56 L136.79,733.56 L137.26,733.56 L137.74,733.57 L138.21,733.57 L138.68,733.57 L139.16,733.57 L139.63,733.57 L140.11,733.58 L140.58,733.58 L141.05,733.58 L141.53,733.58 L142.00,733.58 L142.47,733.58 L142.95,733.58 L143.42,733.58 L143.89,733.59 L144.37,733.59 L144.84,733.59 L145.31,733.59 L145.79,733.59 L146.26,733.59 L146.73,733.59 L147.21,733.59 L147.68,733.59 L148.15,733.59 L148.63,733.59 L149.10,733.59 L149.57,733.59 L150.05,733.59 L150.52,733.59 L151.00,733.59 L151.47,733.59 L151.94,733.59 L152.42,733.59 L152.89,733.59 L153.36,733.59 L153.84,733.59 L154.31,733.59 L154.78,733.59 L155.26,733.60 L155.73,733.60 L156.20,733.60 L156.68,733.60 L157.15,733.60 L157.62,733.60 L158.10,733.60 L158.57,733.60 L159.04,733.60 L159.52,733.60 L159.99,733.60 L160.47,733.60 L160.94,733.60 L161.41,733.60 L161.89,733.60 L162.36,733.60 L162.83,733.60 L163.31,733.60" fill="none" stroke="#111" stroke-width="2" stroke-dasharray="2.3,6.2" stroke-linecap="round" stroke-linejoin="round"/>
<path d="M69.08,797.60 L69.56,797.60 L70.03,797.60 L70.50,797.60 L70.98,797.60 L71.45,797.60 L71.92,797.60 L72.40,797.60 L72.87,797.60 L73.34,797.60 L73.82,797.60 L74.29,797.60 L74.76,797.60 L75.24,797.60 L75.71,797.60 L76.18,797.60 L76.66,797.60 L77.13,797.60 L77.60,797.60 L78.08,797.60 L78.55,797.60 L79.03,797.60 L79.50,797.60 L79.97,797.60 L80.45,797.60 L80.92,797.60 L81.39,797.60 L81.87,797.60 L82.34,797.60 L82.81,797.60 L83.29,797.60 L83.76,797.60 L84.23,797.60 L84.71,797.60 L85.18,797.60 L85.65,797.60 L86.13,797.60 L86.60,797.60 L87.07,797.60 L87.55,797.60 L88.02,797.60 L88.49,797.60 L88.97,797.60 L89.44,797.60 L89.92,797.60 L90.39,797.60 L90.86,797.60 L91.34,797.60 L91.81,797.60 L92.28,797.60 L92.76,797.60 L93.23,797.60 L93.70,797.60 L94.18,797.60 L94.65,797.60 L95.12,797.60 L95.60,797.60 L96.07,797.60 L96.54,797.60 L97.02,797.60 L97.49,797.61 L97.96,797.61 L98.44,797.61 L98.91,797.61 L99.39,797.61 L99.86,797.61 L100.33,797.61 L100.81,797.62 L101.28,797.62 L101.75,797.62 L102.23,797.63 L102.70,797.63 L103.17,797.64 L103.65,797.65 L104.12,797.66 L104.59,797.67 L105.07,797.69 L105.54,797.71 L106.01,797.74 L106.49,797.77 L106.96,797.82 L107.43,797.89 L107.91,797.98 L108.38,798.11 L108.85,798.29 L109.33,798.55 L109.80,798.94 L110.28,799.51 L110.75,800.39 L111.22,801.78 L111.70,804.05 L112.17,807.90 L112.64,814.71 L113.02,856.12 L122.99,856.12 L123.06,822.05 L123.53,811.88 L124.01,806.32 L124.48,803.13 L124.95,801.22 L125.43,800.04 L125.90,799.28 L126.37,798.79 L126.85,798.45 L127.32,798.22 L127.79,798.06 L128.27,797.95 L128.74,797.87 L129.21,797.81 L129.69,797.76 L130.16,797.73 L130.64,797.70 L131.11,797.68 L131.58,797.67 L132.06,797.65 L132.53,797.64 L133.00,797.64 L133.48,797.63 L133.95,797.62 L134.42,797.62 L134.90,797.62 L135.37,797.61 L135.84,797.61 L136.32,797.61 L136.79,797.61 L137.26,797.61 L137.74,797.61 L138.21,797.61 L138.68,797.61 L139.16,797.60 L139.63,797.60 L140.11,797.60 L140.58,797.60 L141.05,797.60 L141.53,797.60 L142.00,797.60 L142.47,797.60 L142.95,797.60 L143.42,797.60 L143.89,797.60 L144.37,797.60 L144.84,797.60 L145.31,797.60 L145.79,797.60 L146.26,797.60 L146.73,797.60 L147.21,797.60 L147.68,797.60 L148.15,797.60 L148.63,797.60 L149.10,797.60 L149.57,797.60 L150.05,797.60 L150.52,797.60 L151.00,797.60 L151.47,797.60 L151.94,797.60 L152.42,797.60 L152.89,797.60 L153.36,797.60 L153.84,797.60 L154.31,797.60 L154.78,797.60 L155.26,797.60 L155.73,797.60 L156.20,797.60 L156.68,797.60 L157.15,797.60 L157.62,797.60 L158.10,797.60 L158.57,797.60 L159.04,797.60 L159.52,797.60 L159.99,797.60 L160.47,797.60 L160.94,797.60 L161.41,797.60 L161.89,797.60 L162.36,797.60 L162.83,797.60 L163.31,797.60" fill="none" stroke="#6fd0f4" stroke-width="2.6" stroke-linejoin="round"/>
<path d="M69.08,797.60 L69.56,797.60 L70.03,797.60 L70.50,797.60 L70.98,797.60 L71.45,797.60 L71.92,797.60 L72.40,797.60 L72.87,797.60 L73.34,797.60 L73.82,797.60 L74.29,797.60 L74.76,797.60 L75.24,797.60 L75.71,797.60 L76.18,797.60 L76.66,797.60 L77.13,797.60 L77.60,797.60 L78.08,797.60 L78.55,797.60 L79.03,797.60 L79.50,797.60 L79.97,797.60 L80.45,797.60 L80.92,797.60 L81.39,797.60 L81.87,797.60 L82.34,797.60 L82.81,797.60 L83.29,797.60 L83.76,797.60 L84.23,797.60 L84.71,797.60 L85.18,797.60 L85.65,797.60 L86.13,797.60 L86.60,797.60 L87.07,797.60 L87.55,797.60 L88.02,797.60 L88.49,797.60 L88.97,797.60 L89.44,797.60 L89.92,797.60 L90.39,797.60 L90.86,797.60 L91.34,797.60 L91.81,797.60 L92.28,797.60 L92.76,797.60 L93.23,797.60 L93.70,797.60 L94.18,797.60 L94.65,797.60 L95.12,797.60 L95.60,797.60 L96.07,797.60 L96.54,797.60 L97.02,797.60 L97.49,797.61 L97.96,797.61 L98.44,797.61 L98.91,797.61 L99.39,797.61 L99.86,797.61 L100.33,797.61 L100.81,797.62 L101.28,797.62 L101.75,797.62 L102.23,797.63 L102.70,797.63 L103.17,797.64 L103.65,797.65 L104.12,797.66 L104.59,797.67 L105.07,797.69 L105.54,797.71 L106.01,797.74 L106.49,797.77 L106.96,797.82 L107.43,797.89 L107.91,797.98 L108.38,798.11 L108.85,798.29 L109.33,798.55 L109.80,798.94 L110.28,799.51 L110.75,800.39 L111.22,801.78 L111.70,804.05 L112.17,807.90 L112.64,814.71 L113.02,856.12 L122.99,856.12 L123.06,822.05 L123.53,811.88 L124.01,806.32 L124.48,803.13 L124.95,801.22 L125.43,800.04 L125.90,799.28 L126.37,798.79 L126.85,798.45 L127.32,798.22 L127.79,798.06 L128.27,797.95 L128.74,797.87 L129.21,797.81 L129.69,797.76 L130.16,797.73 L130.64,797.70 L131.11,797.68 L131.58,797.67 L132.06,797.65 L132.53,797.64 L133.00,797.64 L133.48,797.63 L133.95,797.62 L134.42,797.62 L134.90,797.62 L135.37,797.61 L135.84,797.61 L136.32,797.61 L136.79,797.61 L137.26,797.61 L137.74,797.61 L138.21,797.61 L138.68,797.61 L139.16,797.60 L139.63,797.60 L140.11,797.60 L140.58,797.60 L141.05,797.60 L141.53,797.60 L142.00,797.60 L142.47,797.60 L142.95,797.60 L143.42,797.60 L143.89,797.60 L144.37,797.60 L144.84,797.60 L145.31,797.60 L145.79,797.60 L146.26,797.60 L146.73,797.60 L147.21,797.60 L147.68,797.60 L148.15,797.60 L148.63,797.60 L149.10,797.60 L149.57,797.60 L150.05,797.60 L150.52,797.60 L151.00,797.60 L151.47,797.60 L151.94,797.60 L152.42,797.60 L152.89,797.60 L153.36,797.60 L153.84,797.60 L154.31,797.60 L154.78,797.60 L155.26,797.60 L155.73,797.60 L156.20,797.60 L156.68,797.60 L157.15,797.60 L157.62,797.60 L158.10,797.60 L158.57,797.60 L159.04,797.60 L159.52,797.60 L159.99,797.60 L160.47,797.60 L160.94,797.60 L161.41,797.60 L161.89,797.60 L162.36,797.60 L162.83,797.60 L163.31,797.60" fill="none" stroke="#111" stroke-width="2" stroke-dasharray="2.3,6.2" stroke-linecap="round" stroke-linejoin="round"/>
<text x="137.5" y="849.5" font-family='"Liberation Serif", serif' font-size="19" fill="#333"><tspan font-style="italic">σ</tspan><tspan font-size="13" dy="4">11</tspan></text>
<rect x="207.3" y="721.4" width="96.8" height="140.2" fill="none" stroke="#333" stroke-width="1.7"/>
<line x1="207.3" y1="792.1" x2="304.1" y2="792.1" stroke="#333" stroke-width="1.7"/>
<path d="M207.3,738.4 h3.5 M207.3,758.2 h3.5 M207.3,778.1 h3.5 M207.3,806.6 h3.5 M207.3,826.6 h3.5 M207.3,846.6 h3.5 " stroke="#333" stroke-width="1.3" fill="none"/>
<path d="M210.5,861.6 v-3.5 M230.0,861.6 v-3.5 M249.4,861.6 v-3.5 M268.9,861.6 v-3.5 M288.4,861.6 v-3.5 " stroke="#333" stroke-width="1.3" fill="none"/>
<text x="203.0" y="743.6" font-family='"Liberation Sans", sans-serif' font-size="15" text-anchor="end" fill="#222" >0.5</text>
<text x="203.0" y="763.4" font-family='"Liberation Sans", sans-serif' font-size="15" text-anchor="end" fill="#222" >0.3</text>
<text x="203.0" y="783.3" font-family='"Liberation Sans", sans-serif' font-size="15" text-anchor="end" fill="#222" >0.1</text>
<text x="203.0" y="811.8" font-family='"Liberation Sans", sans-serif' font-size="15" text-anchor="end" fill="#222" >-0.1</text>
<text x="203.0" y="831.8" font-family='"Liberation Sans", sans-serif' font-size="15" text-anchor="end" fill="#222" >-0.3</text>
<text x="203.0" y="851.8" font-family='"Liberation Sans", sans-serif' font-size="15" text-anchor="end" fill="#222" >-0.5</text>
<text x="210.5" y="877.8" font-family='"Liberation Sans", sans-serif' font-size="15" text-anchor="middle" fill="#222" >0</text>
<text x="230.0" y="877.8" font-family='"Liberation Sans", sans-serif' font-size="15" text-anchor="middle" fill="#222" >3</text>
<text x="249.4" y="877.8" font-family='"Liberation Sans", sans-serif' font-size="15" text-anchor="middle" fill="#222" >6</text>
<text x="268.9" y="877.8" font-family='"Liberation Sans", sans-serif' font-size="15" text-anchor="middle" fill="#222" >9</text>
<text x="288.4" y="877.8" font-family='"Liberation Sans", sans-serif' font-size="15" text-anchor="middle" fill="#222" >12</text>
<text x="251.8" y="894.6" font-family='"Liberation Sans", sans-serif' font-size="15.6" text-anchor="middle" fill="#222" >Length (cm)</text>
<path d="M208.50,787.87 L208.85,787.87 L209.20,787.86 L209.55,787.86 L209.90,787.86 L210.25,787.86 L210.60,787.86 L210.95,787.85 L211.30,787.85 L211.65,787.85 L212.00,787.85 L212.35,787.84 L212.70,787.84 L213.05,787.84 L213.40,787.84 L213.75,787.83 L214.10,787.83 L214.45,787.83 L214.80,787.82 L215.15,787.82 L215.50,787.82 L215.85,787.82 L216.20,787.81 L216.55,787.81 L216.90,787.81 L217.25,787.80 L217.60,787.80 L217.95,787.79 L218.30,787.79 L218.65,787.79 L219.00,787.78 L219.35,787.78 L219.70,787.77 L220.05,787.77 L220.40,787.77 L220.75,787.76 L221.10,787.76 L221.45,787.75 L221.80,787.75 L222.15,787.74 L222.50,787.74 L222.85,787.73 L223.20,787.72 L223.55,787.72 L223.90,787.71 L224.25,787.71 L224.60,787.70 L224.95,787.69 L225.30,787.68 L225.65,787.68 L226.00,787.67 L226.35,787.66 L226.70,787.65 L227.05,787.65 L227.40,787.64 L227.75,787.63 L228.10,787.62 L228.45,787.61 L228.80,787.60 L229.15,787.59 L229.50,787.58 L229.85,787.57 L230.20,787.55 L230.55,787.54 L230.90,787.53 L231.25,787.52 L231.60,787.50 L231.95,787.49 L232.30,787.47 L232.65,787.46 L233.00,787.44 L233.35,787.42 L233.70,787.41 L234.05,787.39 L234.40,787.37 L234.75,787.35 L235.10,787.32 L235.45,787.30 L235.80,787.28 L236.15,787.25 L236.50,787.22 L236.85,787.20 L237.20,787.17 L237.55,787.14 L237.90,787.10 L238.25,787.07 L238.60,787.03 L238.95,786.99 L239.30,786.95 L239.65,786.90 L240.00,786.85 L240.35,786.80 L240.70,786.75 L241.05,786.69 L241.40,786.63 L241.75,786.56 L242.10,786.49 L242.45,786.41 L242.80,786.32 L243.15,786.23 L243.50,786.13 L243.85,786.03 L244.20,785.91 L244.55,785.78 L244.90,785.64 L245.25,785.49 L245.60,785.32 L245.95,785.14 L246.30,784.93 L246.65,784.70 L247.00,784.45 L247.35,784.16 L247.70,783.84 L248.05,783.47 L248.40,783.06 L248.75,782.58 L249.10,782.03 L249.45,781.40 L249.80,780.66 L250.15,779.78 L250.50,778.74 L250.85,777.49 L251.20,775.97 L251.55,774.09 L251.90,771.73 L252.25,768.72 L252.60,764.79 L252.95,759.52 L253.30,752.23 L253.65,741.73 L253.98,726.99" fill="none" stroke="#6fd0f4" stroke-width="2.6" stroke-linejoin="round"/>
<path d="M208.50,787.87 L208.85,787.87 L209.20,787.86 L209.55,787.86 L209.90,787.86 L210.25,787.86 L210.60,787.86 L210.95,787.85 L211.30,787.85 L211.65,787.85 L212.00,787.85 L212.35,787.84 L212.70,787.84 L213.05,787.84 L213.40,787.84 L213.75,787.83 L214.10,787.83 L214.45,787.83 L214.80,787.82 L215.15,787.82 L215.50,787.82 L215.85,787.82 L216.20,787.81 L216.55,787.81 L216.90,787.81 L217.25,787.80 L217.60,787.80 L217.95,787.79 L218.30,787.79 L218.65,787.79 L219.00,787.78 L219.35,787.78 L219.70,787.77 L220.05,787.77 L220.40,787.77 L220.75,787.76 L221.10,787.76 L221.45,787.75 L221.80,787.75 L222.15,787.74 L222.50,787.74 L222.85,787.73 L223.20,787.72 L223.55,787.72 L223.90,787.71 L224.25,787.71 L224.60,787.70 L224.95,787.69 L225.30,787.68 L225.65,787.68 L226.00,787.67 L226.35,787.66 L226.70,787.65 L227.05,787.65 L227.40,787.64 L227.75,787.63 L228.10,787.62 L228.45,787.61 L228.80,787.60 L229.15,787.59 L229.50,787.58 L229.85,787.57 L230.20,787.55 L230.55,787.54 L230.90,787.53 L231.25,787.52 L231.60,787.50 L231.95,787.49 L232.30,787.47 L232.65,787.46 L233.00,787.44 L233.35,787.42 L233.70,787.41 L234.05,787.39 L234.40,787.37 L234.75,787.35 L235.10,787.32 L235.45,787.30 L235.80,787.28 L236.15,787.25 L236.50,787.22 L236.85,787.20 L237.20,787.17 L237.55,787.14 L237.90,787.10 L238.25,787.07 L238.60,787.03 L238.95,786.99 L239.30,786.95 L239.65,786.90 L240.00,786.85 L240.35,786.80 L240.70,786.75 L241.05,786.69 L241.40,786.63 L241.75,786.56 L242.10,786.49 L242.45,786.41 L242.80,786.32 L243.15,786.23 L243.50,786.13 L243.85,786.03 L244.20,785.91 L244.55,785.78 L244.90,785.64 L245.25,785.49 L245.60,785.32 L245.95,785.14 L246.30,784.93 L246.65,784.70 L247.00,784.45 L247.35,784.16 L247.70,783.84 L248.05,783.47 L248.40,783.06 L248.75,782.58 L249.10,782.03 L249.45,781.40 L249.80,780.66 L250.15,779.78 L250.50,778.74 L250.85,777.49 L251.20,775.97 L251.55,774.09 L251.90,771.73 L252.25,768.72 L252.60,764.79 L252.95,759.52 L253.30,752.23 L253.65,741.73 L253.98,726.99" fill="none" stroke="#111" stroke-width="2" stroke-dasharray="2.3,6.2" stroke-linecap="round" stroke-linejoin="round"/>
<path d="M303.00,787.86 L302.65,787.86 L302.30,787.85 L301.95,787.85 L301.60,787.85 L301.25,787.85 L300.90,787.85 L300.55,787.84 L300.20,787.84 L299.85,787.84 L299.50,787.84 L299.15,787.83 L298.80,787.83 L298.45,787.83 L298.10,787.82 L297.75,787.82 L297.40,787.82 L297.05,787.81 L296.70,787.81 L296.35,787.81 L296.00,787.80 L295.65,787.80 L295.30,787.80 L294.95,787.79 L294.60,787.79 L294.25,787.79 L293.90,787.78 L293.55,787.78 L293.20,787.77 L292.85,787.77 L292.50,787.76 L292.15,787.76 L291.80,787.75 L291.45,787.75 L291.10,787.74 L290.75,787.74 L290.40,787.73 L290.05,787.73 L289.70,787.72 L289.35,787.72 L289.00,787.71 L288.65,787.70 L288.30,787.70 L287.95,787.69 L287.60,787.68 L287.25,787.68 L286.90,787.67 L286.55,787.66 L286.20,787.65 L285.85,787.64 L285.50,787.63 L285.15,787.63 L284.80,787.62 L284.45,787.61 L284.10,787.60 L283.75,787.59 L283.40,787.57 L283.05,787.56 L282.70,787.55 L282.35,787.54 L282.00,787.53 L281.65,787.51 L281.30,787.50 L280.95,787.48 L280.60,787.47 L280.25,787.45 L279.90,787.44 L279.55,787.42 L279.20,787.40 L278.85,787.38 L278.50,787.36 L278.15,787.34 L277.80,787.32 L277.45,787.29 L277.10,787.27 L276.75,787.24 L276.40,787.22 L276.05,787.19 L275.70,787.16 L275.35,787.13 L275.00,787.09 L274.65,787.06 L274.30,787.02 L273.95,786.98 L273.60,786.93 L273.25,786.89 L272.90,786.84 L272.55,786.79 L272.20,786.73 L271.85,786.67 L271.50,786.61 L271.15,786.54 L270.80,786.47 L270.45,786.39 L270.10,786.30 L269.75,786.21 L269.40,786.11 L269.05,786.00 L268.70,785.88 L268.35,785.74 L268.00,785.60 L267.65,785.44 L267.30,785.27 L266.95,785.08 L266.60,784.87 L266.25,784.63 L265.90,784.37 L265.55,784.07 L265.20,783.74 L264.85,783.36 L264.50,782.93 L264.15,782.43 L263.80,781.86 L263.45,781.20 L263.10,780.42 L262.75,779.50 L262.40,778.41 L262.05,777.09 L261.70,775.47 L261.35,773.47 L261.00,770.95 L260.65,767.70 L260.30,763.44 L259.95,757.68 L259.60,749.63 L259.25,737.88 L259.02,726.99" fill="none" stroke="#6fd0f4" stroke-width="2.6" stroke-linejoin="round"/>
<path d="M303.00,787.86 L302.65,787.86 L302.30,787.85 L301.95,787.85 L301.60,787.85 L301.25,787.85 L300.90,787.85 L300.55,787.84 L300.20,787.84 L299.85,787.84 L299.50,787.84 L299.15,787.83 L298.80,787.83 L298.45,787.83 L298.10,787.82 L297.75,787.82 L297.40,787.82 L297.05,787.81 L296.70,787.81 L296.35,787.81 L296.00,787.80 L295.65,787.80 L295.30,787.80 L294.95,787.79 L294.60,787.79 L294.25,787.79 L293.90,787.78 L293.55,787.78 L293.20,787.77 L292.85,787.77 L292.50,787.76 L292.15,787.76 L291.80,787.75 L291.45,787.75 L291.10,787.74 L290.75,787.74 L290.40,787.73 L290.05,787.73 L289.70,787.72 L289.35,787.72 L289.00,787.71 L288.65,787.70 L288.30,787.70 L287.95,787.69 L287.60,787.68 L287.25,787.68 L286.90,787.67 L286.55,787.66 L286.20,787.65 L285.85,787.64 L285.50,787.63 L285.15,787.63 L284.80,787.62 L284.45,787.61 L284.10,787.60 L283.75,787.59 L283.40,787.57 L283.05,787.56 L282.70,787.55 L282.35,787.54 L282.00,787.53 L281.65,787.51 L281.30,787.50 L280.95,787.48 L280.60,787.47 L280.25,787.45 L279.90,787.44 L279.55,787.42 L279.20,787.40 L278.85,787.38 L278.50,787.36 L278.15,787.34 L277.80,787.32 L277.45,787.29 L277.10,787.27 L276.75,787.24 L276.40,787.22 L276.05,787.19 L275.70,787.16 L275.35,787.13 L275.00,787.09 L274.65,787.06 L274.30,787.02 L273.95,786.98 L273.60,786.93 L273.25,786.89 L272.90,786.84 L272.55,786.79 L272.20,786.73 L271.85,786.67 L271.50,786.61 L271.15,786.54 L270.80,786.47 L270.45,786.39 L270.10,786.30 L269.75,786.21 L269.40,786.11 L269.05,786.00 L268.70,785.88 L268.35,785.74 L268.00,785.60 L267.65,785.44 L267.30,785.27 L266.95,785.08 L266.60,784.87 L266.25,784.63 L265.90,784.37 L265.55,784.07 L265.20,783.74 L264.85,783.36 L264.50,782.93 L264.15,782.43 L263.80,781.86 L263.45,781.20 L263.10,780.42 L262.75,779.50 L262.40,778.41 L262.05,777.09 L261.70,775.47 L261.35,773.47 L261.00,770.95 L260.65,767.70 L260.30,763.44 L259.95,757.68 L259.60,749.63 L259.25,737.88 L259.02,726.99" fill="none" stroke="#111" stroke-width="2" stroke-dasharray="2.3,6.2" stroke-linecap="round" stroke-linejoin="round"/>
<path d="M254.20,788.00 L254.20,726.99" fill="none" stroke="#6fd0f4" stroke-width="2.6" stroke-linejoin="round"/>
<path d="M254.20,788.00 L254.20,726.99" fill="none" stroke="#111" stroke-width="2" stroke-dasharray="2.3,6.2" stroke-linecap="round" stroke-linejoin="round"/>
<path d="M258.80,788.00 L258.80,726.99" fill="none" stroke="#6fd0f4" stroke-width="2.6" stroke-linejoin="round"/>
<path d="M258.80,788.00 L258.80,726.99" fill="none" stroke="#111" stroke-width="2" stroke-dasharray="2.3,6.2" stroke-linecap="round" stroke-linejoin="round"/>
<path d="M254.50,783.04 L258.50,743.36" fill="none" stroke="#6fd0f4" stroke-width="2.6" stroke-linejoin="round"/>
<path d="M254.50,783.04 L258.50,743.36" fill="none" stroke="#111" stroke-width="2" stroke-dasharray="2.3,6.2" stroke-linecap="round" stroke-linejoin="round"/>
<path d="M208.50,796.73 L208.85,796.74 L209.20,796.74 L209.55,796.74 L209.90,796.74 L210.25,796.74 L210.60,796.75 L210.95,796.75 L211.30,796.75 L211.65,796.75 L212.00,796.76 L212.35,796.76 L212.70,796.76 L213.05,796.76 L213.40,796.77 L213.75,796.77 L214.10,796.77 L214.45,796.77 L214.80,796.78 L215.15,796.78 L215.50,796.78 L215.85,796.79 L216.20,796.79 L216.55,796.79 L216.90,796.80 L217.25,796.80 L217.60,796.80 L217.95,796.81 L218.30,796.81 L218.65,796.82 L219.00,796.82 L219.35,796.82 L219.70,796.83 L220.05,796.83 L220.40,796.84 L220.75,796.84 L221.10,796.85 L221.45,796.85 L221.80,796.86 L222.15,796.86 L222.50,796.87 L222.85,796.87 L223.20,796.88 L223.55,796.88 L223.90,796.89 L224.25,796.90 L224.60,796.90 L224.95,796.91 L225.30,796.92 L225.65,796.92 L226.00,796.93 L226.35,796.94 L226.70,796.95 L227.05,796.96 L227.40,796.97 L227.75,796.97 L228.10,796.98 L228.45,796.99 L228.80,797.00 L229.15,797.01 L229.50,797.03 L229.85,797.04 L230.20,797.05 L230.55,797.06 L230.90,797.07 L231.25,797.09 L231.60,797.10 L231.95,797.12 L232.30,797.13 L232.65,797.15 L233.00,797.16 L233.35,797.18 L233.70,797.20 L234.05,797.22 L234.40,797.24 L234.75,797.26 L235.10,797.28 L235.45,797.30 L235.80,797.33 L236.15,797.35 L236.50,797.38 L236.85,797.41 L237.20,797.44 L237.55,797.47 L237.90,797.51 L238.25,797.54 L238.60,797.58 L238.95,797.62 L239.30,797.66 L239.65,797.71 L240.00,797.76 L240.35,797.81 L240.70,797.86 L241.05,797.92 L241.40,797.98 L241.75,798.05 L242.10,798.13 L242.45,798.20 L242.80,798.29 L243.15,798.38 L243.50,798.48 L243.85,798.59 L244.20,798.71 L244.55,798.83 L244.90,798.98 L245.25,799.13 L245.60,799.30 L245.95,799.49 L246.30,799.69 L246.65,799.93 L247.00,800.18 L247.35,800.47 L247.70,800.80 L248.05,801.17 L248.40,801.58 L248.75,802.06 L249.10,802.62 L249.45,803.26 L249.80,804.00 L250.15,804.89 L250.50,805.93 L250.85,807.20 L251.20,808.73 L251.55,810.63 L251.90,813.00 L252.25,816.04 L252.60,820.00 L252.95,825.31 L253.30,832.66 L253.65,843.24 L253.96,857.10" fill="none" stroke="#6fd0f4" stroke-width="2.6" stroke-linejoin="round"/>
<path d="M208.50,796.73 L208.85,796.74 L209.20,796.74 L209.55,796.74 L209.90,796.74 L210.25,796.74 L210.60,796.75 L210.95,796.75 L211.30,796.75 L211.65,796.75 L212.00,796.76 L212.35,796.76 L212.70,796.76 L213.05,796.76 L213.40,796.77 L213.75,796.77 L214.10,796.77 L214.45,796.77 L214.80,796.78 L215.15,796.78 L215.50,796.78 L215.85,796.79 L216.20,796.79 L216.55,796.79 L216.90,796.80 L217.25,796.80 L217.60,796.80 L217.95,796.81 L218.30,796.81 L218.65,796.82 L219.00,796.82 L219.35,796.82 L219.70,796.83 L220.05,796.83 L220.40,796.84 L220.75,796.84 L221.10,796.85 L221.45,796.85 L221.80,796.86 L222.15,796.86 L222.50,796.87 L222.85,796.87 L223.20,796.88 L223.55,796.88 L223.90,796.89 L224.25,796.90 L224.60,796.90 L224.95,796.91 L225.30,796.92 L225.65,796.92 L226.00,796.93 L226.35,796.94 L226.70,796.95 L227.05,796.96 L227.40,796.97 L227.75,796.97 L228.10,796.98 L228.45,796.99 L228.80,797.00 L229.15,797.01 L229.50,797.03 L229.85,797.04 L230.20,797.05 L230.55,797.06 L230.90,797.07 L231.25,797.09 L231.60,797.10 L231.95,797.12 L232.30,797.13 L232.65,797.15 L233.00,797.16 L233.35,797.18 L233.70,797.20 L234.05,797.22 L234.40,797.24 L234.75,797.26 L235.10,797.28 L235.45,797.30 L235.80,797.33 L236.15,797.35 L236.50,797.38 L236.85,797.41 L237.20,797.44 L237.55,797.47 L237.90,797.51 L238.25,797.54 L238.60,797.58 L238.95,797.62 L239.30,797.66 L239.65,797.71 L240.00,797.76 L240.35,797.81 L240.70,797.86 L241.05,797.92 L241.40,797.98 L241.75,798.05 L242.10,798.13 L242.45,798.20 L242.80,798.29 L243.15,798.38 L243.50,798.48 L243.85,798.59 L244.20,798.71 L244.55,798.83 L244.90,798.98 L245.25,799.13 L245.60,799.30 L245.95,799.49 L246.30,799.69 L246.65,799.93 L247.00,800.18 L247.35,800.47 L247.70,800.80 L248.05,801.17 L248.40,801.58 L248.75,802.06 L249.10,802.62 L249.45,803.26 L249.80,804.00 L250.15,804.89 L250.50,805.93 L250.85,807.20 L251.20,808.73 L251.55,810.63 L251.90,813.00 L252.25,816.04 L252.60,820.00 L252.95,825.31 L253.30,832.66 L253.65,843.24 L253.96,857.10" fill="none" stroke="#111" stroke-width="2" stroke-dasharray="2.3,6.2" stroke-linecap="round" stroke-linejoin="round"/>
<path d="M303.00,796.74 L302.65,796.74 L302.30,796.75 L301.95,796.75 L301.60,796.75 L301.25,796.75 L300.90,796.76 L300.55,796.76 L300.20,796.76 L299.85,796.76 L299.50,796.77 L299.15,796.77 L298.80,796.77 L298.45,796.77 L298.10,796.78 L297.75,796.78 L297.40,796.78 L297.05,796.79 L296.70,796.79 L296.35,796.79 L296.00,796.80 L295.65,796.80 L295.30,796.80 L294.95,796.81 L294.60,796.81 L294.25,796.82 L293.90,796.82 L293.55,796.82 L293.20,796.83 L292.85,796.83 L292.50,796.84 L292.15,796.84 L291.80,796.85 L291.45,796.85 L291.10,796.86 L290.75,796.86 L290.40,796.87 L290.05,796.87 L289.70,796.88 L289.35,796.89 L289.00,796.89 L288.65,796.90 L288.30,796.91 L287.95,796.91 L287.60,796.92 L287.25,796.93 L286.90,796.93 L286.55,796.94 L286.20,796.95 L285.85,796.96 L285.50,796.97 L285.15,796.98 L284.80,796.99 L284.45,797.00 L284.10,797.01 L283.75,797.02 L283.40,797.03 L283.05,797.04 L282.70,797.05 L282.35,797.06 L282.00,797.08 L281.65,797.09 L281.30,797.11 L280.95,797.12 L280.60,797.14 L280.25,797.15 L279.90,797.17 L279.55,797.19 L279.20,797.20 L278.85,797.22 L278.50,797.24 L278.15,797.27 L277.80,797.29 L277.45,797.31 L277.10,797.34 L276.75,797.36 L276.40,797.39 L276.05,797.42 L275.70,797.45 L275.35,797.48 L275.00,797.52 L274.65,797.55 L274.30,797.59 L273.95,797.63 L273.60,797.67 L273.25,797.72 L272.90,797.77 L272.55,797.82 L272.20,797.88 L271.85,797.94 L271.50,798.00 L271.15,798.07 L270.80,798.15 L270.45,798.23 L270.10,798.31 L269.75,798.41 L269.40,798.51 L269.05,798.62 L268.70,798.74 L268.35,798.87 L268.00,799.02 L267.65,799.18 L267.30,799.35 L266.95,799.54 L266.60,799.76 L266.25,800.00 L265.90,800.26 L265.55,800.56 L265.20,800.90 L264.85,801.28 L264.50,801.71 L264.15,802.21 L263.80,802.79 L263.45,803.46 L263.10,804.24 L262.75,805.17 L262.40,806.27 L262.05,807.60 L261.70,809.23 L261.35,811.25 L261.00,813.79 L260.65,817.06 L260.30,821.36 L259.95,827.16 L259.60,835.28 L259.25,847.12 L259.04,857.10" fill="none" stroke="#6fd0f4" stroke-width="2.6" stroke-linejoin="round"/>
<path d="M303.00,796.74 L302.65,796.74 L302.30,796.75 L301.95,796.75 L301.60,796.75 L301.25,796.75 L300.90,796.76 L300.55,796.76 L300.20,796.76 L299.85,796.76 L299.50,796.77 L299.15,796.77 L298.80,796.77 L298.45,796.77 L298.10,796.78 L297.75,796.78 L297.40,796.78 L297.05,796.79 L296.70,796.79 L296.35,796.79 L296.00,796.80 L295.65,796.80 L295.30,796.80 L294.95,796.81 L294.60,796.81 L294.25,796.82 L293.90,796.82 L293.55,796.82 L293.20,796.83 L292.85,796.83 L292.50,796.84 L292.15,796.84 L291.80,796.85 L291.45,796.85 L291.10,796.86 L290.75,796.86 L290.40,796.87 L290.05,796.87 L289.70,796.88 L289.35,796.89 L289.00,796.89 L288.65,796.90 L288.30,796.91 L287.95,796.91 L287.60,796.92 L287.25,796.93 L286.90,796.93 L286.55,796.94 L286.20,796.95 L285.85,796.96 L285.50,796.97 L285.15,796.98 L284.80,796.99 L284.45,797.00 L284.10,797.01 L283.75,797.02 L283.40,797.03 L283.05,797.04 L282.70,797.05 L282.35,797.06 L282.00,797.08 L281.65,797.09 L281.30,797.11 L280.95,797.12 L280.60,797.14 L280.25,797.15 L279.90,797.17 L279.55,797.19 L279.20,797.20 L278.85,797.22 L278.50,797.24 L278.15,797.27 L277.80,797.29 L277.45,797.31 L277.10,797.34 L276.75,797.36 L276.40,797.39 L276.05,797.42 L275.70,797.45 L275.35,797.48 L275.00,797.52 L274.65,797.55 L274.30,797.59 L273.95,797.63 L273.60,797.67 L273.25,797.72 L272.90,797.77 L272.55,797.82 L272.20,797.88 L271.85,797.94 L271.50,798.00 L271.15,798.07 L270.80,798.15 L270.45,798.23 L270.10,798.31 L269.75,798.41 L269.40,798.51 L269.05,798.62 L268.70,798.74 L268.35,798.87 L268.00,799.02 L267.65,799.18 L267.30,799.35 L266.95,799.54 L266.60,799.76 L266.25,800.00 L265.90,800.26 L265.55,800.56 L265.20,800.90 L264.85,801.28 L264.50,801.71 L264.15,802.21 L263.80,802.79 L263.45,803.46 L263.10,804.24 L262.75,805.17 L262.40,806.27 L262.05,807.60 L261.70,809.23 L261.35,811.25 L261.00,813.79 L260.65,817.06 L260.30,821.36 L259.95,827.16 L259.60,835.28 L259.25,847.12 L259.04,857.10" fill="none" stroke="#111" stroke-width="2" stroke-dasharray="2.3,6.2" stroke-linecap="round" stroke-linejoin="round"/>
<path d="M254.20,796.60 L254.20,857.10" fill="none" stroke="#6fd0f4" stroke-width="2.6" stroke-linejoin="round"/>
<path d="M254.20,796.60 L254.20,857.10" fill="none" stroke="#111" stroke-width="2" stroke-dasharray="2.3,6.2" stroke-linecap="round" stroke-linejoin="round"/>
<path d="M258.80,796.60 L258.80,857.10" fill="none" stroke="#6fd0f4" stroke-width="2.6" stroke-linejoin="round"/>
<path d="M258.80,796.60 L258.80,857.10" fill="none" stroke="#111" stroke-width="2" stroke-dasharray="2.3,6.2" stroke-linecap="round" stroke-linejoin="round"/>
<path d="M254.50,801.60 L258.50,841.60" fill="none" stroke="#6fd0f4" stroke-width="2.6" stroke-linejoin="round"/>
<path d="M254.50,801.60 L258.50,841.60" fill="none" stroke="#111" stroke-width="2" stroke-dasharray="2.3,6.2" stroke-linecap="round" stroke-linejoin="round"/>
<text x="272.5" y="849.5" font-family='"Liberation Serif", serif' font-size="19" fill="#333"><tspan font-style="italic">σ</tspan><tspan font-size="13" dy="4">12</tspan></text>
<rect x="339.2" y="721.4" width="97.0" height="140.2" fill="none" stroke="#333" stroke-width="1.7"/>
<line x1="339.2" y1="792.1" x2="436.2" y2="792.1" stroke="#333" stroke-width="1.7"/>
<path d="M339.2,728.7 h3.5 M339.2,755.7 h3.5 M339.2,782.7 h3.5 M339.2,796.8 h3.5 M339.2,825.3 h3.5 M339.2,853.8 h3.5 " stroke="#333" stroke-width="1.3" fill="none"/>
<path d="M342.5,861.6 v-3.5 M360.8,861.6 v-3.5 M379.1,861.6 v-3.5 M397.5,861.6 v-3.5 M415.8,861.6 v-3.5 M434.1,861.6 v-3.5 " stroke="#333" stroke-width="1.3" fill="none"/>
<text x="334.5" y="733.9" font-family='"Liberation Sans", sans-serif' font-size="15" text-anchor="end" fill="#222" >0</text>
<text x="334.5" y="760.9" font-family='"Liberation Sans", sans-serif' font-size="15" text-anchor="end" fill="#222" >-1</text>
<text x="334.5" y="787.9" font-family='"Liberation Sans", sans-serif' font-size="15" text-anchor="end" fill="#222" >-2</text>
<text x="334.5" y="802.0" font-family='"Liberation Sans", sans-serif' font-size="15" text-anchor="end" fill="#222" >2</text>
<text x="334.5" y="830.5" font-family='"Liberation Sans", sans-serif' font-size="15" text-anchor="end" fill="#222" >0</text>
<text x="334.5" y="859.0" font-family='"Liberation Sans", sans-serif' font-size="15" text-anchor="end" fill="#222" >-2</text>
<text x="342.5" y="877.8" font-family='"Liberation Sans", sans-serif' font-size="15" text-anchor="middle" fill="#222" >0</text>
<text x="360.8" y="877.8" font-family='"Liberation Sans", sans-serif' font-size="15" text-anchor="middle" fill="#222" >2</text>
<text x="379.1" y="877.8" font-family='"Liberation Sans", sans-serif' font-size="15" text-anchor="middle" fill="#222" >4</text>
<text x="397.5" y="877.8" font-family='"Liberation Sans", sans-serif' font-size="15" text-anchor="middle" fill="#222" >6</text>
<text x="415.8" y="877.8" font-family='"Liberation Sans", sans-serif' font-size="15" text-anchor="middle" fill="#222" >8</text>
<text x="434.1" y="877.8" font-family='"Liberation Sans", sans-serif' font-size="15" text-anchor="middle" fill="#222" >10</text>
<text x="383.7" y="894.6" font-family='"Liberation Sans", sans-serif' font-size="15.6" text-anchor="middle" fill="#222" >Length (cm)</text>
<path d="M339.75,728.73 L340.07,728.73 L340.39,728.74 L340.71,728.74 L341.03,728.74 L341.35,728.74 L341.66,728.74 L341.98,728.74 L342.30,728.74 L342.62,728.74 L342.94,728.74 L343.26,728.74 L343.58,728.74 L343.89,728.74 L344.21,728.74 L344.53,728.74 L344.85,728.75 L345.17,728.75 L345.49,728.75 L345.81,728.75 L346.12,728.75 L346.44,728.75 L346.76,728.75 L347.08,728.75 L347.40,728.75 L347.72,728.75 L348.04,728.76 L348.35,728.76 L348.67,728.76 L348.99,728.76 L349.31,728.76 L349.63,728.76 L349.95,728.76 L350.27,728.76 L350.58,728.77 L350.90,728.77 L351.22,728.77 L351.54,728.77 L351.86,728.77 L352.18,728.77 L352.50,728.77 L352.81,728.78 L353.13,728.78 L353.45,728.78 L353.77,728.78 L354.09,728.78 L354.41,728.79 L354.73,728.79 L355.05,728.79 L355.36,728.79 L355.68,728.79 L356.00,728.80 L356.32,728.80 L356.64,728.80 L356.96,728.80 L357.28,728.81 L357.59,728.81 L357.91,728.81 L358.23,728.82 L358.55,728.82 L358.87,728.82 L359.19,728.83 L359.51,728.83 L359.82,728.83 L360.14,728.84 L360.46,728.84 L360.78,728.85 L361.10,728.85 L361.42,728.85 L361.74,728.86 L362.05,728.86 L362.37,728.87 L362.69,728.87 L363.01,728.88 L363.33,728.89 L363.65,728.89 L363.97,728.90 L364.28,728.91 L364.60,728.91 L364.92,728.92 L365.24,728.93 L365.56,728.94 L365.88,728.95 L366.20,728.95 L366.52,728.96 L366.83,728.97 L367.15,728.98 L367.47,729.00 L367.79,729.01 L368.11,729.02 L368.43,729.03 L368.75,729.05 L369.06,729.06 L369.38,729.08 L369.70,729.10 L370.02,729.11 L370.34,729.13 L370.66,729.15 L370.98,729.18 L371.29,729.20 L371.61,729.22 L371.93,729.25 L372.25,729.28 L372.57,729.31 L372.89,729.34 L373.21,729.38 L373.52,729.42 L373.84,729.46 L374.16,729.50 L374.48,729.55 L374.80,729.61 L375.12,729.66 L375.44,729.73 L375.75,729.79 L376.07,729.87 L376.39,729.95 L376.71,730.04 L377.03,730.14 L377.35,730.25 L377.67,730.38 L377.99,730.51 L378.30,730.67 L378.62,730.84 L378.94,731.03 L379.26,731.25 L379.58,731.49 L379.90,731.77 L380.22,732.09 L380.53,732.46 L380.85,732.88 L381.17,733.37 L381.49,733.94 L381.81,734.60 L382.13,735.38 L382.45,736.31 L382.76,737.41 L383.08,738.72 L383.40,740.30 L383.72,742.20 L384.04,744.48 L384.36,747.24 L384.68,750.53 L384.99,754.42 L385.31,758.92 L385.63,763.96 L385.95,769.30 L386.27,774.55 L386.59,779.17 L386.91,782.64 L387.22,784.68 L387.54,785.37 L387.86,785.40 L388.18,785.40 L388.50,785.40 L388.82,785.40 L389.14,785.40 L389.45,785.40 L389.77,785.40 L390.09,785.24 L390.41,784.09 L390.73,781.50 L391.05,777.54 L391.37,772.62 L391.69,767.28 L392.00,762.02 L392.32,757.16 L392.64,752.89 L392.96,749.23 L393.28,746.14 L393.60,743.58 L393.92,741.44 L394.23,739.67 L394.55,738.20 L394.87,736.97 L395.19,735.94 L395.51,735.08 L395.83,734.34 L396.15,733.71 L396.46,733.18 L396.78,732.71 L397.10,732.32 L397.42,731.97 L397.74,731.66 L398.06,731.40 L398.38,731.16 L398.69,730.96 L399.01,730.77 L399.33,730.61 L399.65,730.46 L399.97,730.33 L400.29,730.21 L400.61,730.10 L400.92,730.01 L401.24,729.92 L401.56,729.84 L401.88,729.77 L402.20,729.70 L402.52,729.64 L402.84,729.58 L403.16,729.53 L403.47,729.49 L403.79,729.44 L404.11,729.40 L404.43,729.36 L404.75,729.33 L405.07,729.30 L405.39,729.27 L405.70,729.24 L406.02,729.21 L406.34,729.19 L406.66,729.17 L406.98,729.15 L407.30,729.13 L407.62,729.11 L407.93,729.09 L408.25,729.07 L408.57,729.06 L408.89,729.04 L409.21,729.03 L409.53,729.02 L409.85,729.00 L410.16,728.99 L410.48,728.98 L410.80,728.97 L411.12,728.96 L411.44,728.95 L411.76,728.94 L412.08,728.93 L412.39,728.93 L412.71,728.92 L413.03,728.91 L413.35,728.90 L413.67,728.90 L413.99,728.89 L414.31,728.88 L414.63,728.88 L414.94,728.87 L415.26,728.87 L415.58,728.86 L415.90,728.86 L416.22,728.85 L416.54,728.85 L416.86,728.84 L417.17,728.84 L417.49,728.84 L417.81,728.83 L418.13,728.83 L418.45,728.82 L418.77,728.82 L419.09,728.82 L419.40,728.81 L419.72,728.81 L420.04,728.81 L420.36,728.81 L420.68,728.80 L421.00,728.80 L421.32,728.80 L421.63,728.80 L421.95,728.79 L422.27,728.79 L422.59,728.79 L422.91,728.79 L423.23,728.78 L423.55,728.78 L423.86,728.78 L424.18,728.78 L424.50,728.78 L424.82,728.78 L425.14,728.77 L425.46,728.77 L425.78,728.77 L426.09,728.77 L426.41,728.77 L426.73,728.77 L427.05,728.76 L427.37,728.76 L427.69,728.76 L428.01,728.76 L428.33,728.76 L428.64,728.76 L428.96,728.76 L429.28,728.76 L429.60,728.75 L429.92,728.75 L430.24,728.75 L430.56,728.75 L430.87,728.75 L431.19,728.75 L431.51,728.75 L431.83,728.75 L432.15,728.75 L432.47,728.75 L432.79,728.75 L433.10,728.74 L433.42,728.74 L433.74,728.74 L434.06,728.74 L434.38,728.74 L434.70,728.74 L435.02,728.74" fill="none" stroke="#6fd0f4" stroke-width="2.6" stroke-linejoin="round"/>
<path d="M339.75,728.73 L340.07,728.73 L340.39,728.74 L340.71,728.74 L341.03,728.74 L341.35,728.74 L341.66,728.74 L341.98,728.74 L342.30,728.74 L342.62,728.74 L342.94,728.74 L343.26,728.74 L343.58,728.74 L343.89,728.74 L344.21,728.74 L344.53,728.74 L344.85,728.75 L345.17,728.75 L345.49,728.75 L345.81,728.75 L346.12,728.75 L346.44,728.75 L346.76,728.75 L347.08,728.75 L347.40,728.75 L347.72,728.75 L348.04,728.76 L348.35,728.76 L348.67,728.76 L348.99,728.76 L349.31,728.76 L349.63,728.76 L349.95,728.76 L350.27,728.76 L350.58,728.77 L350.90,728.77 L351.22,728.77 L351.54,728.77 L351.86,728.77 L352.18,728.77 L352.50,728.77 L352.81,728.78 L353.13,728.78 L353.45,728.78 L353.77,728.78 L354.09,728.78 L354.41,728.79 L354.73,728.79 L355.05,728.79 L355.36,728.79 L355.68,728.79 L356.00,728.80 L356.32,728.80 L356.64,728.80 L356.96,728.80 L357.28,728.81 L357.59,728.81 L357.91,728.81 L358.23,728.82 L358.55,728.82 L358.87,728.82 L359.19,728.83 L359.51,728.83 L359.82,728.83 L360.14,728.84 L360.46,728.84 L360.78,728.85 L361.10,728.85 L361.42,728.85 L361.74,728.86 L362.05,728.86 L362.37,728.87 L362.69,728.87 L363.01,728.88 L363.33,728.89 L363.65,728.89 L363.97,728.90 L364.28,728.91 L364.60,728.91 L364.92,728.92 L365.24,728.93 L365.56,728.94 L365.88,728.95 L366.20,728.95 L366.52,728.96 L366.83,728.97 L367.15,728.98 L367.47,729.00 L367.79,729.01 L368.11,729.02 L368.43,729.03 L368.75,729.05 L369.06,729.06 L369.38,729.08 L369.70,729.10 L370.02,729.11 L370.34,729.13 L370.66,729.15 L370.98,729.18 L371.29,729.20 L371.61,729.22 L371.93,729.25 L372.25,729.28 L372.57,729.31 L372.89,729.34 L373.21,729.38 L373.52,729.42 L373.84,729.46 L374.16,729.50 L374.48,729.55 L374.80,729.61 L375.12,729.66 L375.44,729.73 L375.75,729.79 L376.07,729.87 L376.39,729.95 L376.71,730.04 L377.03,730.14 L377.35,730.25 L377.67,730.38 L377.99,730.51 L378.30,730.67 L378.62,730.84 L378.94,731.03 L379.26,731.25 L379.58,731.49 L379.90,731.77 L380.22,732.09 L380.53,732.46 L380.85,732.88 L381.17,733.37 L381.49,733.94 L381.81,734.60 L382.13,735.38 L382.45,736.31 L382.76,737.41 L383.08,738.72 L383.40,740.30 L383.72,742.20 L384.04,744.48 L384.36,747.24 L384.68,750.53 L384.99,754.42 L385.31,758.92 L385.63,763.96 L385.95,769.30 L386.27,774.55 L386.59,779.17 L386.91,782.64 L387.22,784.68 L387.54,785.37 L387.86,785.40 L388.18,785.40 L388.50,785.40 L388.82,785.40 L389.14,785.40 L389.45,785.40 L389.77,785.40 L390.09,785.24 L390.41,784.09 L390.73,781.50 L391.05,777.54 L391.37,772.62 L391.69,767.28 L392.00,762.02 L392.32,757.16 L392.64,752.89 L392.96,749.23 L393.28,746.14 L393.60,743.58 L393.92,741.44 L394.23,739.67 L394.55,738.20 L394.87,736.97 L395.19,735.94 L395.51,735.08 L395.83,734.34 L396.15,733.71 L396.46,733.18 L396.78,732.71 L397.10,732.32 L397.42,731.97 L397.74,731.66 L398.06,731.40 L398.38,731.16 L398.69,730.96 L399.01,730.77 L399.33,730.61 L399.65,730.46 L399.97,730.33 L400.29,730.21 L400.61,730.10 L400.92,730.01 L401.24,729.92 L401.56,729.84 L401.88,729.77 L402.20,729.70 L402.52,729.64 L402.84,729.58 L403.16,729.53 L403.47,729.49 L403.79,729.44 L404.11,729.40 L404.43,729.36 L404.75,729.33 L405.07,729.30 L405.39,729.27 L405.70,729.24 L406.02,729.21 L406.34,729.19 L406.66,729.17 L406.98,729.15 L407.30,729.13 L407.62,729.11 L407.93,729.09 L408.25,729.07 L408.57,729.06 L408.89,729.04 L409.21,729.03 L409.53,729.02 L409.85,729.00 L410.16,728.99 L410.48,728.98 L410.80,728.97 L411.12,728.96 L411.44,728.95 L411.76,728.94 L412.08,728.93 L412.39,728.93 L412.71,728.92 L413.03,728.91 L413.35,728.90 L413.67,728.90 L413.99,728.89 L414.31,728.88 L414.63,728.88 L414.94,728.87 L415.26,728.87 L415.58,728.86 L415.90,728.86 L416.22,728.85 L416.54,728.85 L416.86,728.84 L417.17,728.84 L417.49,728.84 L417.81,728.83 L418.13,728.83 L418.45,728.82 L418.77,728.82 L419.09,728.82 L419.40,728.81 L419.72,728.81 L420.04,728.81 L420.36,728.81 L420.68,728.80 L421.00,728.80 L421.32,728.80 L421.63,728.80 L421.95,728.79 L422.27,728.79 L422.59,728.79 L422.91,728.79 L423.23,728.78 L423.55,728.78 L423.86,728.78 L424.18,728.78 L424.50,728.78 L424.82,728.78 L425.14,728.77 L425.46,728.77 L425.78,728.77 L426.09,728.77 L426.41,728.77 L426.73,728.77 L427.05,728.76 L427.37,728.76 L427.69,728.76 L428.01,728.76 L428.33,728.76 L428.64,728.76 L428.96,728.76 L429.28,728.76 L429.60,728.75 L429.92,728.75 L430.24,728.75 L430.56,728.75 L430.87,728.75 L431.19,728.75 L431.51,728.75 L431.83,728.75 L432.15,728.75 L432.47,728.75 L432.79,728.75 L433.10,728.74 L433.42,728.74 L433.74,728.74 L434.06,728.74 L434.38,728.74 L434.70,728.74 L435.02,728.74" fill="none" stroke="#111" stroke-width="2" stroke-dasharray="2.3,6.2" stroke-linecap="round" stroke-linejoin="round"/>
<path d="M339.75,825.25 L340.39,825.25 L341.03,825.25 L341.67,825.25 L342.31,825.25 L342.95,825.25 L343.59,825.25 L344.23,825.24 L344.87,825.24 L345.51,825.24 L346.15,825.24 L346.78,825.24 L347.42,825.24 L348.06,825.24 L348.70,825.23 L349.34,825.23 L349.98,825.23 L350.62,825.23 L351.26,825.23 L351.90,825.22 L352.54,825.22 L353.18,825.22 L353.82,825.22 L354.46,825.21 L355.10,825.21 L355.74,825.21 L356.38,825.20 L357.01,825.20 L357.65,825.20 L358.29,825.19 L358.93,825.19 L359.57,825.18 L360.21,825.18 L360.85,825.17 L361.49,825.17 L362.13,825.16 L362.77,825.16 L363.41,825.15 L364.05,825.14 L364.69,825.13 L365.33,825.13 L365.97,825.12 L366.60,825.11 L367.24,825.09 L367.88,825.08 L368.52,825.07 L369.16,825.05 L369.80,825.04 L370.44,825.02 L371.08,825.00 L371.72,824.97 L372.36,824.94 L373.00,824.91 L373.64,824.87 L374.28,824.83 L374.92,824.78 L375.56,824.72 L376.20,824.64 L376.83,824.55 L377.47,824.43 L378.11,824.28 L378.75,824.08 L379.39,823.81 L380.03,823.41 L380.67,822.80 L381.31,821.78 L381.95,819.81 L382.59,814.93 L383.23,801.07 L383.80,801.07 L383.80,855.22 L393.20,855.22 L393.20,801.07 L393.70,801.07 L394.00,805.98 L394.30,813.32 L394.60,816.95 L394.90,819.06 L395.20,820.41 L395.50,821.34 L395.80,822.00 L396.10,822.50 L396.40,822.88 L396.70,823.19 L397.00,823.43 L397.30,823.63 L397.60,823.80 L397.90,823.94 L398.20,824.06 L398.50,824.17 L398.80,824.26 L399.10,824.34 L399.40,824.40 L399.70,824.47 L400.00,824.52 L400.30,824.57 L400.60,824.61 L400.90,824.65 L401.20,824.69 L401.50,824.72 L401.80,824.75 L402.10,824.78 L402.40,824.80 L402.70,824.83 L403.00,824.85 L403.30,824.87 L403.60,824.89 L403.90,824.90 L404.20,824.92 L404.50,824.94 L404.80,824.95 L405.10,824.96 L405.40,824.98 L405.70,824.99 L406.00,825.00 L406.30,825.01 L406.60,825.02 L406.90,825.03 L407.20,825.04 L407.50,825.04 L407.80,825.05 L408.10,825.06 L408.40,825.07 L408.70,825.07 L409.00,825.08 L409.30,825.09 L409.60,825.09 L409.90,825.10 L410.20,825.10 L410.50,825.11 L410.80,825.11 L411.10,825.12 L411.40,825.12 L411.70,825.13 L412.00,825.13 L412.30,825.13 L412.60,825.14 L412.90,825.14 L413.20,825.15 L413.50,825.15 L413.80,825.15 L414.10,825.16 L414.40,825.16 L414.70,825.16 L415.00,825.16 L415.30,825.17 L415.60,825.17 L415.90,825.17 L416.20,825.17 L416.50,825.18 L416.80,825.18 L417.10,825.18 L417.40,825.18 L417.70,825.19 L418.00,825.19 L418.30,825.19 L418.60,825.19 L418.90,825.19 L419.20,825.20 L419.50,825.20 L419.80,825.20 L420.10,825.20 L420.40,825.20 L420.70,825.20 L421.00,825.21 L421.30,825.21 L421.60,825.21 L421.90,825.21 L422.20,825.21 L422.50,825.21 L422.80,825.21 L423.10,825.22 L423.40,825.22 L423.70,825.22 L424.00,825.22 L424.30,825.22 L424.60,825.22 L424.90,825.22 L425.20,825.22 L425.50,825.22 L425.80,825.23 L426.10,825.23 L426.40,825.23 L426.70,825.23 L427.00,825.23 L427.30,825.23 L427.60,825.23 L427.90,825.23 L428.20,825.23 L428.50,825.23 L428.80,825.23 L429.10,825.24 L429.40,825.24 L429.70,825.24 L430.00,825.24 L430.30,825.24 L430.60,825.24 L430.90,825.24 L431.20,825.24 L431.50,825.24 L431.80,825.24 L432.10,825.24 L432.40,825.24 L432.70,825.24 L433.00,825.24 L433.30,825.25 L433.60,825.25 L433.90,825.25 L434.20,825.25 L434.50,825.25 L434.80,825.25" fill="none" stroke="#6fd0f4" stroke-width="2.6" stroke-linejoin="round"/>
<path d="M339.75,825.25 L340.39,825.25 L341.03,825.25 L341.67,825.25 L342.31,825.25 L342.95,825.25 L343.59,825.25 L344.23,825.24 L344.87,825.24 L345.51,825.24 L346.15,825.24 L346.78,825.24 L347.42,825.24 L348.06,825.24 L348.70,825.23 L349.34,825.23 L349.98,825.23 L350.62,825.23 L351.26,825.23 L351.90,825.22 L352.54,825.22 L353.18,825.22 L353.82,825.22 L354.46,825.21 L355.10,825.21 L355.74,825.21 L356.38,825.20 L357.01,825.20 L357.65,825.20 L358.29,825.19 L358.93,825.19 L359.57,825.18 L360.21,825.18 L360.85,825.17 L361.49,825.17 L362.13,825.16 L362.77,825.16 L363.41,825.15 L364.05,825.14 L364.69,825.13 L365.33,825.13 L365.97,825.12 L366.60,825.11 L367.24,825.09 L367.88,825.08 L368.52,825.07 L369.16,825.05 L369.80,825.04 L370.44,825.02 L371.08,825.00 L371.72,824.97 L372.36,824.94 L373.00,824.91 L373.64,824.87 L374.28,824.83 L374.92,824.78 L375.56,824.72 L376.20,824.64 L376.83,824.55 L377.47,824.43 L378.11,824.28 L378.75,824.08 L379.39,823.81 L380.03,823.41 L380.67,822.80 L381.31,821.78 L381.95,819.81 L382.59,814.93 L383.23,801.07 L383.80,801.07 L383.80,855.22 L393.20,855.22 L393.20,801.07 L393.70,801.07 L394.00,805.98 L394.30,813.32 L394.60,816.95 L394.90,819.06 L395.20,820.41 L395.50,821.34 L395.80,822.00 L396.10,822.50 L396.40,822.88 L396.70,823.19 L397.00,823.43 L397.30,823.63 L397.60,823.80 L397.90,823.94 L398.20,824.06 L398.50,824.17 L398.80,824.26 L399.10,824.34 L399.40,824.40 L399.70,824.47 L400.00,824.52 L400.30,824.57 L400.60,824.61 L400.90,824.65 L401.20,824.69 L401.50,824.72 L401.80,824.75 L402.10,824.78 L402.40,824.80 L402.70,824.83 L403.00,824.85 L403.30,824.87 L403.60,824.89 L403.90,824.90 L404.20,824.92 L404.50,824.94 L404.80,824.95 L405.10,824.96 L405.40,824.98 L405.70,824.99 L406.00,825.00 L406.30,825.01 L406.60,825.02 L406.90,825.03 L407.20,825.04 L407.50,825.04 L407.80,825.05 L408.10,825.06 L408.40,825.07 L408.70,825.07 L409.00,825.08 L409.30,825.09 L409.60,825.09 L409.90,825.10 L410.20,825.10 L410.50,825.11 L410.80,825.11 L411.10,825.12 L411.40,825.12 L411.70,825.13 L412.00,825.13 L412.30,825.13 L412.60,825.14 L412.90,825.14 L413.20,825.15 L413.50,825.15 L413.80,825.15 L414.10,825.16 L414.40,825.16 L414.70,825.16 L415.00,825.16 L415.30,825.17 L415.60,825.17 L415.90,825.17 L416.20,825.17 L416.50,825.18 L416.80,825.18 L417.10,825.18 L417.40,825.18 L417.70,825.19 L418.00,825.19 L418.30,825.19 L418.60,825.19 L418.90,825.19 L419.20,825.20 L419.50,825.20 L419.80,825.20 L420.10,825.20 L420.40,825.20 L420.70,825.20 L421.00,825.21 L421.30,825.21 L421.60,825.21 L421.90,825.21 L422.20,825.21 L422.50,825.21 L422.80,825.21 L423.10,825.22 L423.40,825.22 L423.70,825.22 L424.00,825.22 L424.30,825.22 L424.60,825.22 L424.90,825.22 L425.20,825.22 L425.50,825.22 L425.80,825.23 L426.10,825.23 L426.40,825.23 L426.70,825.23 L427.00,825.23 L427.30,825.23 L427.60,825.23 L427.90,825.23 L428.20,825.23 L428.50,825.23 L428.80,825.23 L429.10,825.24 L429.40,825.24 L429.70,825.24 L430.00,825.24 L430.30,825.24 L430.60,825.24 L430.90,825.24 L431.20,825.24 L431.50,825.24 L431.80,825.24 L432.10,825.24 L432.40,825.24 L432.70,825.24 L433.00,825.24 L433.30,825.25 L433.60,825.25 L433.90,825.25 L434.20,825.25 L434.50,825.25 L434.80,825.25" fill="none" stroke="#111" stroke-width="2" stroke-dasharray="2.3,6.2" stroke-linecap="round" stroke-linejoin="round"/>
<text x="405.5" y="851.5" font-family='"Liberation Serif", serif' font-size="19" fill="#333"><tspan font-style="italic">σ</tspan><tspan font-size="13" dy="4">22</tspan></text>
<line x1="82" y1="922.3" x2="124" y2="922.3" stroke="#5fcbf2" stroke-width="2.6"/>
<text x="130.0" y="928.5" font-family='"Liberation Sans", sans-serif' font-size="16.8" fill="#222" >This work</text>
<path d="M220,922.3 h9 M238,922.3 h9 M258,922.3 h3.2" stroke="#111" stroke-width="2.6"/>
<text x="265.5" y="928.5" font-family='"Liberation Sans", sans-serif' font-size="17" fill="#222" >Eshelby’s solution</text>
<text x="460.5" y="246.5" font-family='"Liberation Sans", sans-serif' font-size="29" fill="#000" >J</text>
<text x="652.0" y="246.5" font-family='"Liberation Sans", sans-serif' font-size="29" fill="#000" >K</text>
<text x="458.0" y="421.5" font-family='"Liberation Sans", sans-serif' font-size="29" fill="#000" >L</text>
<text x="454.5" y="541.5" font-family='"Liberation Sans", sans-serif' font-size="29" fill="#000" >M</text>
<text x="455.8" y="728.6" font-family='"Liberation Sans", sans-serif' font-size="29" fill="#000" >N</text>
<g fill="none" stroke="#9a9a9a" stroke-width="1">
<rect x="507" y="247" width="126.5" height="124"/>
<rect x="526" y="265" width="88.5" height="89"/>
<path d="M507,247 L526,265 M633.5,247 L614.5,265 M633.5,371 L614.5,354 M507,371 L526,354"/>
</g>
<line x1="526" y1="354.4" x2="526.0" y2="332.0" stroke="#1aa3e8" stroke-width="1.6"/>
<path d="M526.0,327.0 L528.8,332.0 L523.2,332.0 Z" fill="#1aa3e8"/>
<line x1="526" y1="354.4" x2="549.0" y2="354.4" stroke="#1aa3e8" stroke-width="1.6"/>
<path d="M554.0,354.4 L549.0,357.2 L549.0,351.6 Z" fill="#1aa3e8"/>
<line x1="526" y1="354.4" x2="516.8" y2="362.3" stroke="#1aa3e8" stroke-width="1.6"/>
<path d="M513.0,365.5 L515.0,360.1 L518.6,364.4 Z" fill="#1aa3e8"/>
<text x="533.5" y="337.5" font-family='"Liberation Sans", sans-serif' font-size="15.5" fill="#222" >y</text>
<text x="553.5" y="363.0" font-family='"Liberation Sans", sans-serif' font-size="15.5" fill="#222" >x</text>
<text x="524.0" y="369.0" font-family='"Liberation Sans", sans-serif' font-size="15.5" fill="#222" >z</text>
<radialGradient id="sphg" cx="0.5" cy="0.5" r="0.5" fx="0.42" fy="0.35"><stop offset="0" stop-color="#60e0f8"/><stop offset="0.6" stop-color="#1ec0ea"/><stop offset="1" stop-color="#0894c0"/></radialGradient>
<circle cx="570.4" cy="309" r="8.9" fill="url(#sphg)"/>
<rect x="721.3" y="245.4" width="122.5" height="105.8" fill="none" stroke="#333" stroke-width="1.7"/>
<path d="M721.3,252.1 h3.5 M721.3,270.5 h3.5 M721.3,288.9 h3.5 M721.3,307.3 h3.5 M721.3,325.7 h3.5 M721.3,344.1 h3.5 " stroke="#333" stroke-width="1.3" fill="none"/>
<path d="M721.3,351.2 v-3.5 M751.9,351.2 v-3.5 M782.5,351.2 v-3.5 M813.1,351.2 v-3.5 M843.7,351.2 v-3.5 " stroke="#333" stroke-width="1.3" fill="none"/>
<text x="716.8" y="257.3" font-family='"Liberation Sans", sans-serif' font-size="14.8" text-anchor="end" fill="#222" >2.0</text>
<text x="716.8" y="275.7" font-family='"Liberation Sans", sans-serif' font-size="14.8" text-anchor="end" fill="#222" >1.5</text>
<text x="716.8" y="294.1" font-family='"Liberation Sans", sans-serif' font-size="14.8" text-anchor="end" fill="#222" >1.0</text>
<text x="716.8" y="312.5" font-family='"Liberation Sans", sans-serif' font-size="14.8" text-anchor="end" fill="#222" >0.5</text>
<text x="716.8" y="330.9" font-family='"Liberation Sans", sans-serif' font-size="14.8" text-anchor="end" fill="#222" >0.0</text>
<text x="716.8" y="349.3" font-family='"Liberation Sans", sans-serif' font-size="14.8" text-anchor="end" fill="#222" >-0.5</text>
<text x="721.3" y="366.0" font-family='"Liberation Sans", sans-serif' font-size="14.8" text-anchor="middle" fill="#222" >4.8</text>
<text x="751.9" y="366.0" font-family='"Liberation Sans", sans-serif' font-size="14.8" text-anchor="middle" fill="#222" >4.9</text>
<text x="782.5" y="366.0" font-family='"Liberation Sans", sans-serif' font-size="14.8" text-anchor="middle" fill="#222" >5.0</text>
<text x="813.1" y="366.0" font-family='"Liberation Sans", sans-serif' font-size="14.8" text-anchor="middle" fill="#222" >5.1</text>
<text x="843.7" y="366.0" font-family='"Liberation Sans", sans-serif' font-size="14.8" text-anchor="middle" fill="#222" >5.2</text>
<text x="782.5" y="384.5" font-family='"Liberation Sans", sans-serif' font-size="14.6" text-anchor="middle" fill="#222" >Length (cm)</text>
<text transform="translate(686,303.5) rotate(-90)" font-family='"Liberation Sans", sans-serif' font-size="14.1" text-anchor="middle" fill="#222">Electric field (V/m)</text>
<line x1="722" y1="270.6" x2="843" y2="270.6" stroke="#3de8f0" stroke-width="3"/>
<line x1="722" y1="325.7" x2="843" y2="325.7" stroke="#f4ef3c" stroke-width="3"/>
<line x1="722" y1="325.7" x2="843" y2="325.7" stroke="#e2509e" stroke-width="3" stroke-dasharray="10.5,12.2"/>
<rect x="852" y="253" width="25.6" height="24.6" fill="#55f4f4"/>
<text x="851.5" y="270.5" font-family='"Liberation Serif", serif' font-size="16" fill="#083838"><tspan font-style="italic">E</tspan><tspan font-size="12" dy="-7.5">Eq</tspan><tspan font-size="12" dx="-15" dy="12">1</tspan></text>
<rect x="852" y="301.6" width="25.6" height="24.6" fill="#ffff33"/>
<text x="851.5" y="319.1" font-family='"Liberation Serif", serif' font-size="16" fill="#38380a"><tspan font-style="italic">E</tspan><tspan font-size="12" dy="-7.5">Eq</tspan><tspan font-size="12" dx="-15" dy="12">2</tspan></text>
<rect x="852" y="331.5" width="25.6" height="24.6" fill="#ff66c2"/>
<text x="851.5" y="349.0" font-family='"Liberation Serif", serif' font-size="16" fill="#3a0a28"><tspan font-style="italic">E</tspan><tspan font-size="12" dy="-7.5">Eq</tspan><tspan font-size="12" dx="-15" dy="12">3</tspan></text>
<clipPath id="cl01"><rect x="485.6" y="405.1" width="117.6" height="116.4"/></clipPath>
<g clip-path="url(#cl01)"><rect x="485.6" y="405.1" width="117.6" height="116.4" fill="#ff3300"/>
<ellipse cx="518.7" cy="463.2" rx="19.5" ry="19.0" fill="#f72200" filter="url(#b2_5)"/>
<ellipse cx="526.7" cy="463.2" rx="10" ry="11" fill="#ef1000" filter="url(#b2_5)"/>
<ellipse cx="544.7" cy="443.2" rx="10" ry="14" fill="#ff4a00" filter="url(#b4)"/>
<ellipse cx="570.7" cy="463.2" rx="19.5" ry="19.0" fill="#f72200" filter="url(#b2_5)"/>
<ellipse cx="562.7" cy="463.2" rx="10" ry="11" fill="#ef1000" filter="url(#b2_5)"/>
<ellipse cx="544.7" cy="483.2" rx="10" ry="14" fill="#ff4a00" filter="url(#b4)"/>
<ellipse cx="544.7" cy="463.2" rx="5.5" ry="13" fill="#ff9000" filter="url(#b3)"/>
<ellipse cx="533.9" cy="463.2" rx="6.8" ry="8.2" fill="#000070" filter="url(#b0_6)"/>
<radialGradient id="hg19" cx="0.5" cy="0.5" r="0.5" fx="0.917" fy="0.500"><stop offset="0" stop-color="#40ecff"/><stop offset="0.4" stop-color="#10b8f8"/><stop offset="0.75" stop-color="#0060f0"/><stop offset="1" stop-color="#0020c0"/></radialGradient>
<ellipse cx="534.7" cy="463.2" rx="6.0" ry="7.4" fill="url(#hg19)" filter="url(#b0_6)"/>
<ellipse cx="555.5" cy="463.2" rx="6.8" ry="8.2" fill="#000070" filter="url(#b0_6)"/>
<radialGradient id="hg20" cx="0.5" cy="0.5" r="0.5" fx="0.083" fy="0.500"><stop offset="0" stop-color="#40ecff"/><stop offset="0.4" stop-color="#10b8f8"/><stop offset="0.75" stop-color="#0060f0"/><stop offset="1" stop-color="#0020c0"/></radialGradient>
<ellipse cx="554.7" cy="463.2" rx="6.0" ry="7.4" fill="url(#hg20)" filter="url(#b0_6)"/>
<ellipse cx="544.7" cy="463.2" rx="6.4" ry="9.0" fill="#ffd600" filter="url(#b0_7)"/>
</g>
<clipPath id="cl02"><rect x="622.1" y="405.1" width="117.6" height="116.4"/></clipPath>
<clipPath id="cl02q0"><rect x="622.1" y="405.1" width="59.20" height="58.10"/></clipPath>
<clipPath id="cl02q1"><rect x="681.30" y="405.1" width="58.40" height="58.10"/></clipPath>
<clipPath id="cl02q2"><rect x="622.1" y="463.20" width="59.20" height="58.30"/></clipPath>
<clipPath id="cl02q3"><rect x="681.30" y="463.20" width="58.40" height="58.30"/></clipPath>
<g clip-path="url(#cl02)">
<rect x="622.1" y="405.1" width="117.6" height="116.4" fill="#5a0048"/>
<rect x="681.3" y="405.1" width="59.4" height="58.1" fill="#40005a" shape-rendering="crispEdges"/>
<rect x="622.1" y="463.2" width="59.2" height="59.3" fill="#3c005a" shape-rendering="crispEdges"/>
<rect x="681.3" y="463.2" width="59.4" height="59.3" fill="#5a0048" shape-rendering="crispEdges"/>
<g clip-path="url(#cl02q0)">
<radialGradient id="hg21" cx="0.5" cy="0.5" r="0.5" fx="0.711" fy="0.753"><stop offset="0" stop-color="#ffe400"/><stop offset="0.14" stop-color="#ffa000"/><stop offset="0.3" stop-color="#ff1a00"/><stop offset="0.54" stop-color="#ea000e"/><stop offset="0.67" stop-color="#b4002a"/><stop offset="0.8" stop-color="#8c0036" stop-opacity="0.85"/><stop offset="0.92" stop-color="#6c0040" stop-opacity="0.6"/><stop offset="1" stop-color="#600044" stop-opacity="0"/></radialGradient>
<ellipse cx="668.3" cy="450.2" rx="19" ry="19" fill="url(#hg21)" filter="url(#b0_9)"/>
</g>
<g clip-path="url(#cl02q3)">
<radialGradient id="hg22" cx="0.5" cy="0.5" r="0.5" fx="0.289" fy="0.247"><stop offset="0" stop-color="#ffe400"/><stop offset="0.14" stop-color="#ffa000"/><stop offset="0.3" stop-color="#ff1a00"/><stop offset="0.54" stop-color="#ea000e"/><stop offset="0.67" stop-color="#b4002a"/><stop offset="0.8" stop-color="#8c0036" stop-opacity="0.85"/><stop offset="0.92" stop-color="#6c0040" stop-opacity="0.6"/><stop offset="1" stop-color="#600044" stop-opacity="0"/></radialGradient>
<ellipse cx="694.3" cy="476.2" rx="19" ry="19" fill="url(#hg22)" filter="url(#b0_9)"/>
</g>
<g clip-path="url(#cl02q1)">
<radialGradient id="hg23" cx="0.5" cy="0.5" r="0.5" fx="0.247" fy="0.711"><stop offset="0" stop-color="#20f4ff"/><stop offset="0.14" stop-color="#00b8ff"/><stop offset="0.3" stop-color="#0040ff"/><stop offset="0.54" stop-color="#0010e8"/><stop offset="0.67" stop-color="#0800b0"/><stop offset="0.8" stop-color="#1a0088" stop-opacity="0.85"/><stop offset="0.92" stop-color="#2a0070" stop-opacity="0.6"/><stop offset="1" stop-color="#340060" stop-opacity="0"/></radialGradient>
<ellipse cx="694.3" cy="450.2" rx="19" ry="19" fill="url(#hg23)" filter="url(#b0_9)"/>
</g>
<g clip-path="url(#cl02q2)">
<radialGradient id="hg24" cx="0.5" cy="0.5" r="0.5" fx="0.753" fy="0.289"><stop offset="0" stop-color="#20f4ff"/><stop offset="0.14" stop-color="#00b8ff"/><stop offset="0.3" stop-color="#0040ff"/><stop offset="0.54" stop-color="#0010e8"/><stop offset="0.67" stop-color="#0800b0"/><stop offset="0.8" stop-color="#1a0088" stop-opacity="0.85"/><stop offset="0.92" stop-color="#2a0070" stop-opacity="0.6"/><stop offset="1" stop-color="#340060" stop-opacity="0"/></radialGradient>
<ellipse cx="668.3" cy="476.2" rx="19" ry="19" fill="url(#hg24)" filter="url(#b0_9)"/>
</g>
<circle cx="681.3" cy="463.2" r="6.8" fill="#4a0050" filter="url(#b0_5)"/>
</g>
<clipPath id="cl03"><rect x="755.8" y="405.1" width="117.6" height="116.4"/></clipPath>
<clipPath id="cl03q0"><rect x="755.8" y="405.1" width="58.90" height="58.10"/></clipPath>
<clipPath id="cl03q1"><rect x="814.70" y="405.1" width="58.70" height="58.10"/></clipPath>
<clipPath id="cl03q2"><rect x="755.8" y="463.20" width="58.90" height="58.30"/></clipPath>
<clipPath id="cl03q3"><rect x="814.70" y="463.20" width="58.70" height="58.30"/></clipPath>
<g clip-path="url(#cl03)">
<rect x="755.8" y="405.1" width="117.6" height="116.4" fill="#5a0048"/>
<rect x="814.7" y="405.1" width="59.7" height="58.1" fill="#40005a" shape-rendering="crispEdges"/>
<rect x="755.8" y="463.2" width="58.9" height="59.3" fill="#3c005a" shape-rendering="crispEdges"/>
<rect x="814.7" y="463.2" width="59.7" height="59.3" fill="#5a0048" shape-rendering="crispEdges"/>
<g clip-path="url(#cl03q0)">
<radialGradient id="hg25" cx="0.5" cy="0.5" r="0.5" fx="0.711" fy="0.753"><stop offset="0" stop-color="#ffe400"/><stop offset="0.14" stop-color="#ffa000"/><stop offset="0.3" stop-color="#ff1a00"/><stop offset="0.54" stop-color="#ea000e"/><stop offset="0.67" stop-color="#b4002a"/><stop offset="0.8" stop-color="#8c0036" stop-opacity="0.85"/><stop offset="0.92" stop-color="#6c0040" stop-opacity="0.6"/><stop offset="1" stop-color="#600044" stop-opacity="0"/></radialGradient>
<ellipse cx="801.7" cy="450.2" rx="19" ry="19" fill="url(#hg25)" filter="url(#b0_9)"/>
</g>
<g clip-path="url(#cl03q3)">
<radialGradient id="hg26" cx="0.5" cy="0.5" r="0.5" fx="0.289" fy="0.247"><stop offset="0" stop-color="#ffe400"/><stop offset="0.14" stop-color="#ffa000"/><stop offset="0.3" stop-color="#ff1a00"/><stop offset="0.54" stop-color="#ea000e"/><stop offset="0.67" stop-color="#b4002a"/><stop offset="0.8" stop-color="#8c0036" stop-opacity="0.85"/><stop offset="0.92" stop-color="#6c0040" stop-opacity="0.6"/><stop offset="1" stop-color="#600044" stop-opacity="0"/></radialGradient>
<ellipse cx="827.7" cy="476.2" rx="19" ry="19" fill="url(#hg26)" filter="url(#b0_9)"/>
</g>
<g clip-path="url(#cl03q1)">
<radialGradient id="hg27" cx="0.5" cy="0.5" r="0.5" fx="0.247" fy="0.711"><stop offset="0" stop-color="#20f4ff"/><stop offset="0.14" stop-color="#00b8ff"/><stop offset="0.3" stop-color="#0040ff"/><stop offset="0.54" stop-color="#0010e8"/><stop offset="0.67" stop-color="#0800b0"/><stop offset="0.8" stop-color="#1a0088" stop-opacity="0.85"/><stop offset="0.92" stop-color="#2a0070" stop-opacity="0.6"/><stop offset="1" stop-color="#340060" stop-opacity="0"/></radialGradient>
<ellipse cx="827.7" cy="450.2" rx="19" ry="19" fill="url(#hg27)" filter="url(#b0_9)"/>
</g>
<g clip-path="url(#cl03q2)">
<radialGradient id="hg28" cx="0.5" cy="0.5" r="0.5" fx="0.753" fy="0.289"><stop offset="0" stop-color="#20f4ff"/><stop offset="0.14" stop-color="#00b8ff"/><stop offset="0.3" stop-color="#0040ff"/><stop offset="0.54" stop-color="#0010e8"/><stop offset="0.67" stop-color="#0800b0"/><stop offset="0.8" stop-color="#1a0088" stop-opacity="0.85"/><stop offset="0.92" stop-color="#2a0070" stop-opacity="0.6"/><stop offset="1" stop-color="#340060" stop-opacity="0"/></radialGradient>
<ellipse cx="801.7" cy="476.2" rx="19" ry="19" fill="url(#hg28)" filter="url(#b0_9)"/>
</g>
<circle cx="814.7" cy="463.2" r="6.8" fill="#4a0050" filter="url(#b0_5)"/>
</g>
<clipPath id="cl11"><rect x="485.6" y="532.2" width="117.6" height="116.4"/></clipPath>
<g clip-path="url(#cl11)"><rect x="485.6" y="532.2" width="117.6" height="116.4" fill="#ff3300"/>
<ellipse cx="513.5" cy="590.3" rx="23.4" ry="22.8" fill="#f72200" filter="url(#b2_5)"/>
<ellipse cx="526.7" cy="590.3" rx="10" ry="11" fill="#ef1000" filter="url(#b2_5)"/>
<ellipse cx="544.7" cy="570.3" rx="10" ry="14" fill="#ff4a00" filter="url(#b4)"/>
<ellipse cx="575.9" cy="590.3" rx="23.4" ry="22.8" fill="#f72200" filter="url(#b2_5)"/>
<ellipse cx="562.7" cy="590.3" rx="10" ry="11" fill="#ef1000" filter="url(#b2_5)"/>
<ellipse cx="544.7" cy="610.3" rx="10" ry="14" fill="#ff4a00" filter="url(#b4)"/>
<ellipse cx="544.7" cy="590.3" rx="5.5" ry="13" fill="#ff9000" filter="url(#b3)"/>
<ellipse cx="533.9" cy="590.3" rx="6.8" ry="8.2" fill="#000070" filter="url(#b0_6)"/>
<radialGradient id="hg29" cx="0.5" cy="0.5" r="0.5" fx="0.917" fy="0.500"><stop offset="0" stop-color="#40ecff"/><stop offset="0.4" stop-color="#10b8f8"/><stop offset="0.75" stop-color="#0060f0"/><stop offset="1" stop-color="#0020c0"/></radialGradient>
<ellipse cx="534.7" cy="590.3" rx="6.0" ry="7.4" fill="url(#hg29)" filter="url(#b0_6)"/>
<ellipse cx="555.5" cy="590.3" rx="6.8" ry="8.2" fill="#000070" filter="url(#b0_6)"/>
<radialGradient id="hg30" cx="0.5" cy="0.5" r="0.5" fx="0.083" fy="0.500"><stop offset="0" stop-color="#40ecff"/><stop offset="0.4" stop-color="#10b8f8"/><stop offset="0.75" stop-color="#0060f0"/><stop offset="1" stop-color="#0020c0"/></radialGradient>
<ellipse cx="554.7" cy="590.3" rx="6.0" ry="7.4" fill="url(#hg30)" filter="url(#b0_6)"/>
<ellipse cx="544.7" cy="590.3" rx="6.4" ry="9.0" fill="#ffd600" filter="url(#b0_7)"/>
</g>
<clipPath id="cl12"><rect x="622.1" y="532.2" width="117.6" height="116.4"/></clipPath>
<clipPath id="cl12q0"><rect x="622.1" y="532.2" width="59.20" height="58.10"/></clipPath>
<clipPath id="cl12q1"><rect x="681.30" y="532.2" width="58.40" height="58.10"/></clipPath>
<clipPath id="cl12q2"><rect x="622.1" y="590.30" width="59.20" height="58.30"/></clipPath>
<clipPath id="cl12q3"><rect x="681.30" y="590.30" width="58.40" height="58.30"/></clipPath>
<g clip-path="url(#cl12)">
<rect x="622.1" y="532.2" width="117.6" height="116.4" fill="#5a0048"/>
<rect x="681.3" y="532.2" width="59.4" height="58.1" fill="#40005a" shape-rendering="crispEdges"/>
<rect x="622.1" y="590.3" width="59.2" height="59.3" fill="#3c005a" shape-rendering="crispEdges"/>
<rect x="681.3" y="590.3" width="59.4" height="59.3" fill="#5a0048" shape-rendering="crispEdges"/>
<g clip-path="url(#cl12q0)">
<radialGradient id="hg31" cx="0.5" cy="0.5" r="0.5" fx="0.711" fy="0.753"><stop offset="0" stop-color="#ffe400"/><stop offset="0.14" stop-color="#ffa000"/><stop offset="0.3" stop-color="#ff1a00"/><stop offset="0.54" stop-color="#ea000e"/><stop offset="0.67" stop-color="#b4002a"/><stop offset="0.8" stop-color="#8c0036" stop-opacity="0.85"/><stop offset="0.92" stop-color="#6c0040" stop-opacity="0.6"/><stop offset="1" stop-color="#600044" stop-opacity="0"/></radialGradient>
<ellipse cx="668.3" cy="577.3" rx="19" ry="19" fill="url(#hg31)" filter="url(#b0_9)"/>
</g>
<g clip-path="url(#cl12q3)">
<radialGradient id="hg32" cx="0.5" cy="0.5" r="0.5" fx="0.289" fy="0.247"><stop offset="0" stop-color="#ffe400"/><stop offset="0.14" stop-color="#ffa000"/><stop offset="0.3" stop-color="#ff1a00"/><stop offset="0.54" stop-color="#ea000e"/><stop offset="0.67" stop-color="#b4002a"/><stop offset="0.8" stop-color="#8c0036" stop-opacity="0.85"/><stop offset="0.92" stop-color="#6c0040" stop-opacity="0.6"/><stop offset="1" stop-color="#600044" stop-opacity="0"/></radialGradient>
<ellipse cx="694.3" cy="603.3" rx="19" ry="19" fill="url(#hg32)" filter="url(#b0_9)"/>
</g>
<g clip-path="url(#cl12q1)">
<radialGradient id="hg33" cx="0.5" cy="0.5" r="0.5" fx="0.247" fy="0.711"><stop offset="0" stop-color="#20f4ff"/><stop offset="0.14" stop-color="#00b8ff"/><stop offset="0.3" stop-color="#0040ff"/><stop offset="0.54" stop-color="#0010e8"/><stop offset="0.67" stop-color="#0800b0"/><stop offset="0.8" stop-color="#1a0088" stop-opacity="0.85"/><stop offset="0.92" stop-color="#2a0070" stop-opacity="0.6"/><stop offset="1" stop-color="#340060" stop-opacity="0"/></radialGradient>
<ellipse cx="694.3" cy="577.3" rx="19" ry="19" fill="url(#hg33)" filter="url(#b0_9)"/>
</g>
<g clip-path="url(#cl12q2)">
<radialGradient id="hg34" cx="0.5" cy="0.5" r="0.5" fx="0.753" fy="0.289"><stop offset="0" stop-color="#20f4ff"/><stop offset="0.14" stop-color="#00b8ff"/><stop offset="0.3" stop-color="#0040ff"/><stop offset="0.54" stop-color="#0010e8"/><stop offset="0.67" stop-color="#0800b0"/><stop offset="0.8" stop-color="#1a0088" stop-opacity="0.85"/><stop offset="0.92" stop-color="#2a0070" stop-opacity="0.6"/><stop offset="1" stop-color="#340060" stop-opacity="0"/></radialGradient>
<ellipse cx="668.3" cy="603.3" rx="19" ry="19" fill="url(#hg34)" filter="url(#b0_9)"/>
</g>
<circle cx="681.3" cy="590.3" r="6.8" fill="#4a0050" filter="url(#b0_5)"/>
</g>
<clipPath id="cl13"><rect x="755.8" y="532.2" width="117.6" height="116.4"/></clipPath>
<clipPath id="cl13q0"><rect x="755.8" y="532.2" width="58.90" height="58.10"/></clipPath>
<clipPath id="cl13q1"><rect x="814.70" y="532.2" width="58.70" height="58.10"/></clipPath>
<clipPath id="cl13q2"><rect x="755.8" y="590.30" width="58.90" height="58.30"/></clipPath>
<clipPath id="cl13q3"><rect x="814.70" y="590.30" width="58.70" height="58.30"/></clipPath>
<g clip-path="url(#cl13)">
<rect x="755.8" y="532.2" width="117.6" height="116.4" fill="#5a0048"/>
<rect x="814.7" y="532.2" width="59.7" height="58.1" fill="#40005a" shape-rendering="crispEdges"/>
<rect x="755.8" y="590.3" width="58.9" height="59.3" fill="#3c005a" shape-rendering="crispEdges"/>
<rect x="814.7" y="590.3" width="59.7" height="59.3" fill="#5a0048" shape-rendering="crispEdges"/>
<g clip-path="url(#cl13q0)">
<radialGradient id="hg35" cx="0.5" cy="0.5" r="0.5" fx="0.711" fy="0.753"><stop offset="0" stop-color="#ffe400"/><stop offset="0.14" stop-color="#ffa000"/><stop offset="0.3" stop-color="#ff1a00"/><stop offset="0.54" stop-color="#ea000e"/><stop offset="0.67" stop-color="#b4002a"/><stop offset="0.8" stop-color="#8c0036" stop-opacity="0.85"/><stop offset="0.92" stop-color="#6c0040" stop-opacity="0.6"/><stop offset="1" stop-color="#600044" stop-opacity="0"/></radialGradient>
<ellipse cx="801.7" cy="577.3" rx="19" ry="19" fill="url(#hg35)" filter="url(#b0_9)"/>
</g>
<g clip-path="url(#cl13q3)">
<radialGradient id="hg36" cx="0.5" cy="0.5" r="0.5" fx="0.289" fy="0.247"><stop offset="0" stop-color="#ffe400"/><stop offset="0.14" stop-color="#ffa000"/><stop offset="0.3" stop-color="#ff1a00"/><stop offset="0.54" stop-color="#ea000e"/><stop offset="0.67" stop-color="#b4002a"/><stop offset="0.8" stop-color="#8c0036" stop-opacity="0.85"/><stop offset="0.92" stop-color="#6c0040" stop-opacity="0.6"/><stop offset="1" stop-color="#600044" stop-opacity="0"/></radialGradient>
<ellipse cx="827.7" cy="603.3" rx="19" ry="19" fill="url(#hg36)" filter="url(#b0_9)"/>
</g>
<g clip-path="url(#cl13q1)">
<radialGradient id="hg37" cx="0.5" cy="0.5" r="0.5" fx="0.247" fy="0.711"><stop offset="0" stop-color="#20f4ff"/><stop offset="0.14" stop-color="#00b8ff"/><stop offset="0.3" stop-color="#0040ff"/><stop offset="0.54" stop-color="#0010e8"/><stop offset="0.67" stop-color="#0800b0"/><stop offset="0.8" stop-color="#1a0088" stop-opacity="0.85"/><stop offset="0.92" stop-color="#2a0070" stop-opacity="0.6"/><stop offset="1" stop-color="#340060" stop-opacity="0"/></radialGradient>
<ellipse cx="827.7" cy="577.3" rx="19" ry="19" fill="url(#hg37)" filter="url(#b0_9)"/>
</g>
<g clip-path="url(#cl13q2)">
<radialGradient id="hg38" cx="0.5" cy="0.5" r="0.5" fx="0.753" fy="0.289"><stop offset="0" stop-color="#20f4ff"/><stop offset="0.14" stop-color="#00b8ff"/><stop offset="0.3" stop-color="#0040ff"/><stop offset="0.54" stop-color="#0010e8"/><stop offset="0.67" stop-color="#0800b0"/><stop offset="0.8" stop-color="#1a0088" stop-opacity="0.85"/><stop offset="0.92" stop-color="#2a0070" stop-opacity="0.6"/><stop offset="1" stop-color="#340060" stop-opacity="0"/></radialGradient>
<ellipse cx="801.7" cy="603.3" rx="19" ry="19" fill="url(#hg38)" filter="url(#b0_9)"/>
</g>
<circle cx="814.7" cy="590.3" r="6.8" fill="#4a0050" filter="url(#b0_5)"/>
</g>
<rect x="489.8" y="671.6" width="107.9" height="9" fill="url(#cbg)"/>
<path d="M490.8,680.6 v3.4 M517.4,680.6 v3.4 M544.3,680.6 v3.4 M571.1,680.6 v3.4 M596.6,680.6 v3.4 " stroke="#333" stroke-width="1.8"/>
<text x="490.8" y="699.5" font-family='"Liberation Sans", sans-serif' font-size="16.3" text-anchor="middle" fill="#222" >0</text>
<text x="517.4" y="699.5" font-family='"Liberation Sans", sans-serif' font-size="16.3" text-anchor="middle" fill="#222" >0.5</text>
<text x="544.3" y="699.5" font-family='"Liberation Sans", sans-serif' font-size="16.3" text-anchor="middle" fill="#222" >1</text>
<text x="571.1" y="699.5" font-family='"Liberation Sans", sans-serif' font-size="16.3" text-anchor="middle" fill="#222" >1.5</text>
<text x="596.6" y="699.5" font-family='"Liberation Sans", sans-serif' font-size="16.3" text-anchor="middle" fill="#222" >2</text>
<text x="511.5" y="667.5" font-family='"Liberation Serif", serif' font-size="17" fill="#333"><tspan font-style="italic">E</tspan><tspan font-size="11.5" dy="3">1</tspan></text>
<text x="537.5" y="668.5" font-family='"Liberation Sans", sans-serif' font-size="16.8" fill="#222" >(V/m)</text>
<rect x="624.8" y="671.6" width="107.0" height="9" fill="url(#cbg)"/>
<path d="M625.5,680.6 v3.4 M678.1,680.6 v3.4 M731,680.6 v3.4 " stroke="#333" stroke-width="1.8"/>
<text x="625.5" y="699.5" font-family='"Liberation Sans", sans-serif' font-size="16.3" text-anchor="middle" fill="#222" >-7.5</text>
<text x="678.1" y="699.5" font-family='"Liberation Sans", sans-serif' font-size="16.3" text-anchor="middle" fill="#222" >0</text>
<text x="731.0" y="699.5" font-family='"Liberation Sans", sans-serif' font-size="16.3" text-anchor="middle" fill="#222" >7.5</text>
<text x="646.5" y="667.5" font-family='"Liberation Serif", serif' font-size="17" fill="#333"><tspan font-style="italic">E</tspan><tspan font-size="11.5" dy="3">2</tspan></text>
<text x="672.5" y="668.5" font-family='"Liberation Sans", sans-serif' font-size="16.8" fill="#222" >(V/m)</text>
<rect x="760.3" y="671.6" width="107.2" height="9" fill="url(#cbg)"/>
<path d="M761.2,680.6 v3.4 M814.7,680.6 v3.4 M866.3,680.6 v3.4 " stroke="#333" stroke-width="1.8"/>
<text x="761.2" y="699.5" font-family='"Liberation Sans", sans-serif' font-size="16.3" text-anchor="middle" fill="#222" >-7.5</text>
<text x="814.7" y="699.5" font-family='"Liberation Sans", sans-serif' font-size="16.3" text-anchor="middle" fill="#222" >0</text>
<text x="866.3" y="699.5" font-family='"Liberation Sans", sans-serif' font-size="16.3" text-anchor="middle" fill="#222" >7.5</text>
<text x="782" y="667.5" font-family='"Liberation Serif", serif' font-size="17" fill="#333"><tspan font-style="italic">E</tspan><tspan font-size="11.5" dy="3">3</tspan></text>
<text x="808.0" y="668.5" font-family='"Liberation Sans", sans-serif' font-size="16.8" fill="#222" >(V/m)</text>
<text transform="translate(476.5,796) rotate(-90)" font-family='"Liberation Sans", sans-serif' font-size="16.2" text-anchor="middle" fill="#222">Electric field (V/m)</text>
<rect x="507.3" y="721.4" width="96.8" height="140.2" fill="none" stroke="#333" stroke-width="1.7"/>
<line x1="507.3" y1="792.1" x2="604.1" y2="792.1" stroke="#333" stroke-width="1.7"/>
<path d="M507.3,729.7 h3.5 M507.3,762.2 h3.5 M507.3,800.1 h3.5 M507.3,818.9 h3.5 M507.3,837.8 h3.5 M507.3,856.6 h3.5 " stroke="#333" stroke-width="1.3" fill="none"/>
<path d="M511.1,861.6 v-3.5 M529.2,861.6 v-3.5 M547.3,861.6 v-3.5 M565.4,861.6 v-3.5 M583.5,861.6 v-3.5 M601.6,861.6 v-3.5 " stroke="#333" stroke-width="1.3" fill="none"/>
<text x="503.0" y="734.9" font-family='"Liberation Sans", sans-serif' font-size="15" text-anchor="end" fill="#222" >1.5</text>
<text x="503.0" y="767.4" font-family='"Liberation Sans", sans-serif' font-size="15" text-anchor="end" fill="#222" >1.2</text>
<text x="503.0" y="805.3" font-family='"Liberation Sans", sans-serif' font-size="15" text-anchor="end" fill="#222" >1.5</text>
<text x="503.0" y="824.1" font-family='"Liberation Sans", sans-serif' font-size="15" text-anchor="end" fill="#222" >1.0</text>
<text x="503.0" y="843.0" font-family='"Liberation Sans", sans-serif' font-size="15" text-anchor="end" fill="#222" >0.5</text>
<text x="503.0" y="861.8" font-family='"Liberation Sans", sans-serif' font-size="15" text-anchor="end" fill="#222" >0.0</text>
<text x="511.1" y="877.8" font-family='"Liberation Sans", sans-serif' font-size="15" text-anchor="middle" fill="#222" >0</text>
<text x="529.2" y="877.8" font-family='"Liberation Sans", sans-serif' font-size="15" text-anchor="middle" fill="#222" >2</text>
<text x="547.3" y="877.8" font-family='"Liberation Sans", sans-serif' font-size="15" text-anchor="middle" fill="#222" >4</text>
<text x="565.4" y="877.8" font-family='"Liberation Sans", sans-serif' font-size="15" text-anchor="middle" fill="#222" >6</text>
<text x="583.5" y="877.8" font-family='"Liberation Sans", sans-serif' font-size="15" text-anchor="middle" fill="#222" >8</text>
<text x="601.6" y="877.8" font-family='"Liberation Sans", sans-serif' font-size="15" text-anchor="middle" fill="#222" >10</text>
<text x="552.0" y="894.6" font-family='"Liberation Sans", sans-serif' font-size="15.6" text-anchor="middle" fill="#222" >Length (cm)</text>
<path d="M511.10,783.20 L511.33,783.19 L511.55,783.19 L511.78,783.18 L512.01,783.18 L512.23,783.17 L512.46,783.17 L512.69,783.16 L512.91,783.16 L513.14,783.15 L513.37,783.15 L513.59,783.14 L513.82,783.14 L514.05,783.13 L514.28,783.13 L514.50,783.12 L514.73,783.11 L514.96,783.11 L515.18,783.10 L515.41,783.10 L515.64,783.09 L515.86,783.08 L516.09,783.08 L516.32,783.07 L516.54,783.07 L516.77,783.06 L517.00,783.05 L517.22,783.04 L517.45,783.04 L517.68,783.03 L517.90,783.02 L518.13,783.02 L518.36,783.01 L518.58,783.00 L518.81,782.99 L519.04,782.99 L519.27,782.98 L519.49,782.97 L519.72,782.96 L519.95,782.95 L520.17,782.95 L520.40,782.94 L520.63,782.93 L520.85,782.92 L521.08,782.91 L521.31,782.90 L521.53,782.89 L521.76,782.88 L521.99,782.87 L522.21,782.86 L522.44,782.86 L522.67,782.85 L522.89,782.83 L523.12,782.82 L523.35,782.81 L523.57,782.80 L523.80,782.79 L524.03,782.78 L524.26,782.77 L524.48,782.76 L524.71,782.75 L524.94,782.73 L525.16,782.72 L525.39,782.71 L525.62,782.70 L525.84,782.68 L526.07,782.67 L526.30,782.66 L526.52,782.64 L526.75,782.63 L526.98,782.61 L527.20,782.60 L527.43,782.58 L527.66,782.57 L527.88,782.55 L528.11,782.54 L528.34,782.52 L528.56,782.50 L528.79,782.49 L529.02,782.47 L529.25,782.45 L529.47,782.43 L529.70,782.41 L529.93,782.40 L530.15,782.38 L530.38,782.36 L530.61,782.33 L530.83,782.31 L531.06,782.29 L531.29,782.27 L531.51,782.25 L531.74,782.22 L531.97,782.20 L532.19,782.17 L532.42,782.15 L532.65,782.12 L532.87,782.10 L533.10,782.07 L533.33,782.04 L533.55,782.01 L533.78,781.98 L534.01,781.95 L534.24,781.92 L534.46,781.89 L534.69,781.85 L534.92,781.82 L535.14,781.78 L535.37,781.75 L535.60,781.71 L535.82,781.67 L536.05,781.63 L536.28,781.59 L536.50,781.55 L536.73,781.50 L536.96,781.46 L537.18,781.41 L537.41,781.36 L537.64,781.31 L537.86,781.26 L538.09,781.20 L538.32,781.14 L538.54,781.09 L538.77,781.02 L539.00,780.96 L539.23,780.89 L539.45,780.82 L539.68,780.75 L539.91,780.68 L540.13,780.60 L540.36,780.52 L540.59,780.43 L540.81,780.34 L541.04,780.25 L541.27,780.15 L541.49,780.05 L541.72,779.94 L541.95,779.83 L542.17,779.71 L542.40,779.58 L542.63,779.45 L542.85,779.31 L543.08,779.16 L543.31,779.01 L543.53,778.84 L543.76,778.67 L543.99,778.48 L544.22,778.28 L544.44,778.07 L544.67,777.84 L544.90,777.60 L545.12,777.34 L545.35,777.06 L545.58,776.76 L545.80,776.44 L546.03,776.09 L546.26,775.71 L546.48,775.29 L546.71,774.84 L546.94,774.35 L547.16,773.80 L547.39,773.20 L547.62,772.54 L547.84,771.81 L548.07,770.98 L548.30,770.06 L548.52,769.02 L548.75,767.85 L548.98,766.50 L549.21,764.96 L549.43,763.18 L549.66,761.11 L549.89,758.69 L550.11,755.84 L550.34,752.46 L550.57,748.47 L550.79,743.77 L551.02,738.38 L551.25,732.70 L551.47,729.70 L551.70,729.70 L551.93,729.70 L552.15,729.70 L552.38,729.70 L552.61,729.70 L552.83,729.70 L553.06,729.70 L553.29,729.70 L553.51,729.70 L553.74,729.70 L553.97,729.70 L554.20,729.70 L554.42,729.70 L554.65,729.70 L554.88,729.70 L555.10,729.70 L555.33,729.70 L555.56,729.70 L555.78,729.70 L556.01,729.70 L556.24,729.70 L556.46,729.70 L556.69,729.70 L556.92,729.70 L557.14,729.70 L557.37,729.70 L557.60,729.70 L557.82,729.70 L558.05,729.70 L558.28,729.70 L558.50,729.70 L558.73,729.70 L558.96,729.70 L559.19,729.70 L559.41,729.70 L559.64,729.70 L559.87,729.70 L560.09,729.70 L560.32,729.70 L560.55,729.70 L560.77,729.70 L561.00,729.70 L561.23,729.70 L561.45,729.70 L561.68,729.70 L561.91,729.70 L562.13,729.70 L562.36,729.70 L562.59,729.70 L562.81,729.70 L563.04,729.70 L563.27,729.70 L563.49,731.35 L563.72,736.92 L563.95,742.44 L564.18,747.33 L564.40,751.50 L564.63,755.03 L564.86,758.00 L565.08,760.53 L565.31,762.68 L565.54,764.53 L565.76,766.13 L565.99,767.52 L566.22,768.74 L566.44,769.81 L566.67,770.76 L566.90,771.60 L567.12,772.36 L567.35,773.04 L567.58,773.66 L567.80,774.21 L568.03,774.72 L568.26,775.18 L568.48,775.60 L568.71,775.99 L568.94,776.35 L569.17,776.68 L569.39,776.99 L569.62,777.27 L569.85,777.54 L570.07,777.78 L570.30,778.01 L570.53,778.23 L570.75,778.43 L570.98,778.62 L571.21,778.80 L571.43,778.97 L571.66,779.12 L571.89,779.27 L572.11,779.42 L572.34,779.55 L572.57,779.68 L572.79,779.80 L573.02,779.91 L573.25,780.02 L573.47,780.13 L573.70,780.23 L573.93,780.32 L574.16,780.41 L574.38,780.50 L574.61,780.58 L574.84,780.66 L575.06,780.73 L575.29,780.81 L575.52,780.88 L575.74,780.94 L575.97,781.01 L576.20,781.07 L576.42,781.13 L576.65,781.19 L576.88,781.24 L577.10,781.30 L577.33,781.35 L577.56,781.40 L577.78,781.44 L578.01,781.49 L578.24,781.54 L578.46,781.58 L578.69,781.62 L578.92,781.66 L579.15,781.70 L579.37,781.74 L579.60,781.78 L579.83,781.81 L580.05,781.85 L580.28,781.88 L580.51,781.91 L580.73,781.94 L580.96,781.98 L581.19,782.01 L581.41,782.03 L581.64,782.06 L581.87,782.09 L582.09,782.12 L582.32,782.14 L582.55,782.17 L582.77,782.19 L583.00,782.22 L583.23,782.24 L583.45,782.26 L583.68,782.29 L583.91,782.31 L584.14,782.33 L584.36,782.35 L584.59,782.37 L584.82,782.39 L585.04,782.41 L585.27,782.43 L585.50,782.45 L585.72,782.46 L585.95,782.48 L586.18,782.50 L586.40,782.52 L586.63,782.53 L586.86,782.55 L587.08,782.56 L587.31,782.58 L587.54,782.60 L587.76,782.61 L587.99,782.62 L588.22,782.64 L588.44,782.65 L588.67,782.67 L588.90,782.68 L589.13,782.69 L589.35,782.71 L589.58,782.72 L589.81,782.73 L590.03,782.74 L590.26,782.75 L590.49,782.77 L590.71,782.78 L590.94,782.79 L591.17,782.80 L591.39,782.81 L591.62,782.82 L591.85,782.83 L592.07,782.84 L592.30,782.85 L592.53,782.86 L592.75,782.87 L592.98,782.88 L593.21,782.89 L593.43,782.90 L593.66,782.91 L593.89,782.92 L594.12,782.93 L594.34,782.94 L594.57,782.94 L594.80,782.95 L595.02,782.96 L595.25,782.97 L595.48,782.98 L595.70,782.98 L595.93,782.99 L596.16,783.00 L596.38,783.01 L596.61,783.01 L596.84,783.02 L597.06,783.03 L597.29,783.04 L597.52,783.04 L597.74,783.05 L597.97,783.06 L598.20,783.06 L598.42,783.07 L598.65,783.08 L598.88,783.08 L599.11,783.09 L599.33,783.10 L599.56,783.10 L599.79,783.11 L600.01,783.11 L600.24,783.12 L600.47,783.12 L600.69,783.13 L600.92,783.14 L601.15,783.14 L601.37,783.15 L601.60,783.15" fill="none" stroke="#6fd0f4" stroke-width="2.6" stroke-linejoin="round"/>
<path d="M511.10,783.20 L511.33,783.19 L511.55,783.19 L511.78,783.18 L512.01,783.18 L512.23,783.17 L512.46,783.17 L512.69,783.16 L512.91,783.16 L513.14,783.15 L513.37,783.15 L513.59,783.14 L513.82,783.14 L514.05,783.13 L514.28,783.13 L514.50,783.12 L514.73,783.11 L514.96,783.11 L515.18,783.10 L515.41,783.10 L515.64,783.09 L515.86,783.08 L516.09,783.08 L516.32,783.07 L516.54,783.07 L516.77,783.06 L517.00,783.05 L517.22,783.04 L517.45,783.04 L517.68,783.03 L517.90,783.02 L518.13,783.02 L518.36,783.01 L518.58,783.00 L518.81,782.99 L519.04,782.99 L519.27,782.98 L519.49,782.97 L519.72,782.96 L519.95,782.95 L520.17,782.95 L520.40,782.94 L520.63,782.93 L520.85,782.92 L521.08,782.91 L521.31,782.90 L521.53,782.89 L521.76,782.88 L521.99,782.87 L522.21,782.86 L522.44,782.86 L522.67,782.85 L522.89,782.83 L523.12,782.82 L523.35,782.81 L523.57,782.80 L523.80,782.79 L524.03,782.78 L524.26,782.77 L524.48,782.76 L524.71,782.75 L524.94,782.73 L525.16,782.72 L525.39,782.71 L525.62,782.70 L525.84,782.68 L526.07,782.67 L526.30,782.66 L526.52,782.64 L526.75,782.63 L526.98,782.61 L527.20,782.60 L527.43,782.58 L527.66,782.57 L527.88,782.55 L528.11,782.54 L528.34,782.52 L528.56,782.50 L528.79,782.49 L529.02,782.47 L529.25,782.45 L529.47,782.43 L529.70,782.41 L529.93,782.40 L530.15,782.38 L530.38,782.36 L530.61,782.33 L530.83,782.31 L531.06,782.29 L531.29,782.27 L531.51,782.25 L531.74,782.22 L531.97,782.20 L532.19,782.17 L532.42,782.15 L532.65,782.12 L532.87,782.10 L533.10,782.07 L533.33,782.04 L533.55,782.01 L533.78,781.98 L534.01,781.95 L534.24,781.92 L534.46,781.89 L534.69,781.85 L534.92,781.82 L535.14,781.78 L535.37,781.75 L535.60,781.71 L535.82,781.67 L536.05,781.63 L536.28,781.59 L536.50,781.55 L536.73,781.50 L536.96,781.46 L537.18,781.41 L537.41,781.36 L537.64,781.31 L537.86,781.26 L538.09,781.20 L538.32,781.14 L538.54,781.09 L538.77,781.02 L539.00,780.96 L539.23,780.89 L539.45,780.82 L539.68,780.75 L539.91,780.68 L540.13,780.60 L540.36,780.52 L540.59,780.43 L540.81,780.34 L541.04,780.25 L541.27,780.15 L541.49,780.05 L541.72,779.94 L541.95,779.83 L542.17,779.71 L542.40,779.58 L542.63,779.45 L542.85,779.31 L543.08,779.16 L543.31,779.01 L543.53,778.84 L543.76,778.67 L543.99,778.48 L544.22,778.28 L544.44,778.07 L544.67,777.84 L544.90,777.60 L545.12,777.34 L545.35,777.06 L545.58,776.76 L545.80,776.44 L546.03,776.09 L546.26,775.71 L546.48,775.29 L546.71,774.84 L546.94,774.35 L547.16,773.80 L547.39,773.20 L547.62,772.54 L547.84,771.81 L548.07,770.98 L548.30,770.06 L548.52,769.02 L548.75,767.85 L548.98,766.50 L549.21,764.96 L549.43,763.18 L549.66,761.11 L549.89,758.69 L550.11,755.84 L550.34,752.46 L550.57,748.47 L550.79,743.77 L551.02,738.38 L551.25,732.70 L551.47,729.70 L551.70,729.70 L551.93,729.70 L552.15,729.70 L552.38,729.70 L552.61,729.70 L552.83,729.70 L553.06,729.70 L553.29,729.70 L553.51,729.70 L553.74,729.70 L553.97,729.70 L554.20,729.70 L554.42,729.70 L554.65,729.70 L554.88,729.70 L555.10,729.70 L555.33,729.70 L555.56,729.70 L555.78,729.70 L556.01,729.70 L556.24,729.70 L556.46,729.70 L556.69,729.70 L556.92,729.70 L557.14,729.70 L557.37,729.70 L557.60,729.70 L557.82,729.70 L558.05,729.70 L558.28,729.70 L558.50,729.70 L558.73,729.70 L558.96,729.70 L559.19,729.70 L559.41,729.70 L559.64,729.70 L559.87,729.70 L560.09,729.70 L560.32,729.70 L560.55,729.70 L560.77,729.70 L561.00,729.70 L561.23,729.70 L561.45,729.70 L561.68,729.70 L561.91,729.70 L562.13,729.70 L562.36,729.70 L562.59,729.70 L562.81,729.70 L563.04,729.70 L563.27,729.70 L563.49,731.35 L563.72,736.92 L563.95,742.44 L564.18,747.33 L564.40,751.50 L564.63,755.03 L564.86,758.00 L565.08,760.53 L565.31,762.68 L565.54,764.53 L565.76,766.13 L565.99,767.52 L566.22,768.74 L566.44,769.81 L566.67,770.76 L566.90,771.60 L567.12,772.36 L567.35,773.04 L567.58,773.66 L567.80,774.21 L568.03,774.72 L568.26,775.18 L568.48,775.60 L568.71,775.99 L568.94,776.35 L569.17,776.68 L569.39,776.99 L569.62,777.27 L569.85,777.54 L570.07,777.78 L570.30,778.01 L570.53,778.23 L570.75,778.43 L570.98,778.62 L571.21,778.80 L571.43,778.97 L571.66,779.12 L571.89,779.27 L572.11,779.42 L572.34,779.55 L572.57,779.68 L572.79,779.80 L573.02,779.91 L573.25,780.02 L573.47,780.13 L573.70,780.23 L573.93,780.32 L574.16,780.41 L574.38,780.50 L574.61,780.58 L574.84,780.66 L575.06,780.73 L575.29,780.81 L575.52,780.88 L575.74,780.94 L575.97,781.01 L576.20,781.07 L576.42,781.13 L576.65,781.19 L576.88,781.24 L577.10,781.30 L577.33,781.35 L577.56,781.40 L577.78,781.44 L578.01,781.49 L578.24,781.54 L578.46,781.58 L578.69,781.62 L578.92,781.66 L579.15,781.70 L579.37,781.74 L579.60,781.78 L579.83,781.81 L580.05,781.85 L580.28,781.88 L580.51,781.91 L580.73,781.94 L580.96,781.98 L581.19,782.01 L581.41,782.03 L581.64,782.06 L581.87,782.09 L582.09,782.12 L582.32,782.14 L582.55,782.17 L582.77,782.19 L583.00,782.22 L583.23,782.24 L583.45,782.26 L583.68,782.29 L583.91,782.31 L584.14,782.33 L584.36,782.35 L584.59,782.37 L584.82,782.39 L585.04,782.41 L585.27,782.43 L585.50,782.45 L585.72,782.46 L585.95,782.48 L586.18,782.50 L586.40,782.52 L586.63,782.53 L586.86,782.55 L587.08,782.56 L587.31,782.58 L587.54,782.60 L587.76,782.61 L587.99,782.62 L588.22,782.64 L588.44,782.65 L588.67,782.67 L588.90,782.68 L589.13,782.69 L589.35,782.71 L589.58,782.72 L589.81,782.73 L590.03,782.74 L590.26,782.75 L590.49,782.77 L590.71,782.78 L590.94,782.79 L591.17,782.80 L591.39,782.81 L591.62,782.82 L591.85,782.83 L592.07,782.84 L592.30,782.85 L592.53,782.86 L592.75,782.87 L592.98,782.88 L593.21,782.89 L593.43,782.90 L593.66,782.91 L593.89,782.92 L594.12,782.93 L594.34,782.94 L594.57,782.94 L594.80,782.95 L595.02,782.96 L595.25,782.97 L595.48,782.98 L595.70,782.98 L595.93,782.99 L596.16,783.00 L596.38,783.01 L596.61,783.01 L596.84,783.02 L597.06,783.03 L597.29,783.04 L597.52,783.04 L597.74,783.05 L597.97,783.06 L598.20,783.06 L598.42,783.07 L598.65,783.08 L598.88,783.08 L599.11,783.09 L599.33,783.10 L599.56,783.10 L599.79,783.11 L600.01,783.11 L600.24,783.12 L600.47,783.12 L600.69,783.13 L600.92,783.14 L601.15,783.14 L601.37,783.15 L601.60,783.15" fill="none" stroke="#111" stroke-width="2" stroke-dasharray="2.3,6.2" stroke-linecap="round" stroke-linejoin="round"/>
<path d="M511.10,819.76 L511.33,819.76 L511.55,819.77 L511.78,819.78 L512.01,819.78 L512.23,819.79 L512.46,819.79 L512.69,819.80 L512.91,819.81 L513.14,819.81 L513.37,819.82 L513.59,819.83 L513.82,819.83 L514.05,819.84 L514.28,819.85 L514.50,819.86 L514.73,819.86 L514.96,819.87 L515.18,819.88 L515.41,819.89 L515.64,819.89 L515.86,819.90 L516.09,819.91 L516.32,819.92 L516.54,819.92 L516.77,819.93 L517.00,819.94 L517.22,819.95 L517.45,819.96 L517.68,819.97 L517.90,819.97 L518.13,819.98 L518.36,819.99 L518.58,820.00 L518.81,820.01 L519.04,820.02 L519.27,820.03 L519.49,820.04 L519.72,820.05 L519.95,820.06 L520.17,820.07 L520.40,820.08 L520.63,820.09 L520.85,820.10 L521.08,820.11 L521.31,820.12 L521.53,820.14 L521.76,820.15 L521.99,820.16 L522.21,820.17 L522.44,820.18 L522.67,820.19 L522.89,820.21 L523.12,820.22 L523.35,820.23 L523.57,820.25 L523.80,820.26 L524.03,820.27 L524.26,820.29 L524.48,820.30 L524.71,820.31 L524.94,820.33 L525.16,820.34 L525.39,820.36 L525.62,820.37 L525.84,820.39 L526.07,820.41 L526.30,820.42 L526.52,820.44 L526.75,820.46 L526.98,820.47 L527.20,820.49 L527.43,820.51 L527.66,820.53 L527.88,820.55 L528.11,820.57 L528.34,820.59 L528.56,820.61 L528.79,820.63 L529.02,820.65 L529.25,820.67 L529.47,820.69 L529.70,820.71 L529.93,820.73 L530.15,820.76 L530.38,820.78 L530.61,820.81 L530.83,820.83 L531.06,820.86 L531.29,820.88 L531.51,820.91 L531.74,820.94 L531.97,820.97 L532.19,820.99 L532.42,821.02 L532.65,821.05 L532.87,821.09 L533.10,821.12 L533.33,821.15 L533.55,821.18 L533.78,821.22 L534.01,821.25 L534.24,821.29 L534.46,821.33 L534.69,821.37 L534.92,821.41 L535.14,821.45 L535.37,821.49 L535.60,821.53 L535.82,821.58 L536.05,821.62 L536.28,821.67 L536.50,821.72 L536.73,821.77 L536.96,821.82 L537.18,821.88 L537.41,821.93 L537.64,821.99 L537.86,822.05 L538.09,822.11 L538.32,822.17 L538.54,822.24 L538.77,822.31 L539.00,822.38 L539.23,822.45 L539.45,822.53 L539.68,822.61 L539.91,822.69 L540.13,822.78 L540.36,822.86 L540.59,822.96 L540.81,823.05 L541.04,823.16 L541.27,823.26 L541.49,823.37 L541.72,823.49 L541.95,823.61 L542.17,823.73 L542.40,823.87 L542.63,824.01 L542.85,824.15 L543.08,824.31 L543.31,824.47 L543.53,824.64 L543.76,824.82 L543.99,825.01 L544.22,825.21 L544.44,825.42 L544.67,825.65 L544.90,825.89 L545.12,826.15 L545.35,826.42 L545.58,826.71 L545.80,827.03 L546.03,827.36 L546.26,827.72 L546.48,828.11 L546.71,828.52 L546.94,828.97 L547.16,829.46 L547.39,829.99 L547.62,830.57 L547.84,831.20 L548.07,831.90 L548.30,832.66 L548.52,833.50 L548.75,834.43 L548.98,835.46 L549.21,836.61 L549.43,837.89 L549.66,839.33 L549.89,840.95 L550.11,842.77 L550.34,844.81 L550.57,847.10 L550.79,849.64 L551.02,852.38 L551.25,855.13 L551.40,856.60 L551.40,800.05 L563.40,800.05 L563.40,856.60 L563.49,855.78 L563.72,853.10 L563.95,850.33 L564.18,847.73 L564.40,845.38 L564.63,843.27 L564.86,841.39 L565.08,839.73 L565.31,838.24 L565.54,836.92 L565.76,835.74 L565.99,834.68 L566.22,833.73 L566.44,832.86 L566.67,832.08 L566.90,831.38 L567.12,830.73 L567.35,830.14 L567.58,829.59 L567.80,829.10 L568.03,828.64 L568.26,828.21 L568.48,827.82 L568.71,827.45 L568.94,827.11 L569.17,826.79 L569.39,826.49 L569.62,826.22 L569.85,825.96 L570.07,825.71 L570.30,825.48 L570.53,825.27 L570.75,825.06 L570.98,824.87 L571.21,824.68 L571.43,824.51 L571.66,824.35 L571.89,824.19 L572.11,824.04 L572.34,823.90 L572.57,823.77 L572.79,823.64 L573.02,823.52 L573.25,823.40 L573.47,823.29 L573.70,823.18 L573.93,823.08 L574.16,822.98 L574.38,822.89 L574.61,822.80 L574.84,822.71 L575.06,822.63 L575.29,822.55 L575.52,822.47 L575.74,822.40 L575.97,822.32 L576.20,822.26 L576.42,822.19 L576.65,822.13 L576.88,822.06 L577.10,822.00 L577.33,821.95 L577.56,821.89 L577.78,821.84 L578.01,821.78 L578.24,821.73 L578.46,821.68 L578.69,821.63 L578.92,821.59 L579.15,821.54 L579.37,821.50 L579.60,821.46 L579.83,821.42 L580.05,821.38 L580.28,821.34 L580.51,821.30 L580.73,821.26 L580.96,821.23 L581.19,821.19 L581.41,821.16 L581.64,821.13 L581.87,821.09 L582.09,821.06 L582.32,821.03 L582.55,821.00 L582.77,820.97 L583.00,820.94 L583.23,820.92 L583.45,820.89 L583.68,820.86 L583.91,820.84 L584.14,820.81 L584.36,820.79 L584.59,820.76 L584.82,820.74 L585.04,820.72 L585.27,820.70 L585.50,820.67 L585.72,820.65 L585.95,820.63 L586.18,820.61 L586.40,820.59 L586.63,820.57 L586.86,820.55 L587.08,820.53 L587.31,820.51 L587.54,820.50 L587.76,820.48 L587.99,820.46 L588.22,820.44 L588.44,820.43 L588.67,820.41 L588.90,820.39 L589.13,820.38 L589.35,820.36 L589.58,820.35 L589.81,820.33 L590.03,820.32 L590.26,820.30 L590.49,820.29 L590.71,820.28 L590.94,820.26 L591.17,820.25 L591.39,820.24 L591.62,820.22 L591.85,820.21 L592.07,820.20 L592.30,820.19 L592.53,820.17 L592.75,820.16 L592.98,820.15 L593.21,820.14 L593.43,820.13 L593.66,820.12 L593.89,820.10 L594.12,820.09 L594.34,820.08 L594.57,820.07 L594.80,820.06 L595.02,820.05 L595.25,820.04 L595.48,820.03 L595.70,820.02 L595.93,820.01 L596.16,820.00 L596.38,820.00 L596.61,819.99 L596.84,819.98 L597.06,819.97 L597.29,819.96 L597.52,819.95 L597.74,819.94 L597.97,819.93 L598.20,819.93 L598.42,819.92 L598.65,819.91 L598.88,819.90 L599.11,819.89 L599.33,819.89 L599.56,819.88 L599.79,819.87 L600.01,819.86 L600.24,819.86 L600.47,819.85 L600.69,819.84 L600.92,819.84 L601.15,819.83 L601.37,819.82 L601.60,819.82" fill="none" stroke="#6fd0f4" stroke-width="2.6" stroke-linejoin="round"/>
<path d="M511.10,819.76 L511.33,819.76 L511.55,819.77 L511.78,819.78 L512.01,819.78 L512.23,819.79 L512.46,819.79 L512.69,819.80 L512.91,819.81 L513.14,819.81 L513.37,819.82 L513.59,819.83 L513.82,819.83 L514.05,819.84 L514.28,819.85 L514.50,819.86 L514.73,819.86 L514.96,819.87 L515.18,819.88 L515.41,819.89 L515.64,819.89 L515.86,819.90 L516.09,819.91 L516.32,819.92 L516.54,819.92 L516.77,819.93 L517.00,819.94 L517.22,819.95 L517.45,819.96 L517.68,819.97 L517.90,819.97 L518.13,819.98 L518.36,819.99 L518.58,820.00 L518.81,820.01 L519.04,820.02 L519.27,820.03 L519.49,820.04 L519.72,820.05 L519.95,820.06 L520.17,820.07 L520.40,820.08 L520.63,820.09 L520.85,820.10 L521.08,820.11 L521.31,820.12 L521.53,820.14 L521.76,820.15 L521.99,820.16 L522.21,820.17 L522.44,820.18 L522.67,820.19 L522.89,820.21 L523.12,820.22 L523.35,820.23 L523.57,820.25 L523.80,820.26 L524.03,820.27 L524.26,820.29 L524.48,820.30 L524.71,820.31 L524.94,820.33 L525.16,820.34 L525.39,820.36 L525.62,820.37 L525.84,820.39 L526.07,820.41 L526.30,820.42 L526.52,820.44 L526.75,820.46 L526.98,820.47 L527.20,820.49 L527.43,820.51 L527.66,820.53 L527.88,820.55 L528.11,820.57 L528.34,820.59 L528.56,820.61 L528.79,820.63 L529.02,820.65 L529.25,820.67 L529.47,820.69 L529.70,820.71 L529.93,820.73 L530.15,820.76 L530.38,820.78 L530.61,820.81 L530.83,820.83 L531.06,820.86 L531.29,820.88 L531.51,820.91 L531.74,820.94 L531.97,820.97 L532.19,820.99 L532.42,821.02 L532.65,821.05 L532.87,821.09 L533.10,821.12 L533.33,821.15 L533.55,821.18 L533.78,821.22 L534.01,821.25 L534.24,821.29 L534.46,821.33 L534.69,821.37 L534.92,821.41 L535.14,821.45 L535.37,821.49 L535.60,821.53 L535.82,821.58 L536.05,821.62 L536.28,821.67 L536.50,821.72 L536.73,821.77 L536.96,821.82 L537.18,821.88 L537.41,821.93 L537.64,821.99 L537.86,822.05 L538.09,822.11 L538.32,822.17 L538.54,822.24 L538.77,822.31 L539.00,822.38 L539.23,822.45 L539.45,822.53 L539.68,822.61 L539.91,822.69 L540.13,822.78 L540.36,822.86 L540.59,822.96 L540.81,823.05 L541.04,823.16 L541.27,823.26 L541.49,823.37 L541.72,823.49 L541.95,823.61 L542.17,823.73 L542.40,823.87 L542.63,824.01 L542.85,824.15 L543.08,824.31 L543.31,824.47 L543.53,824.64 L543.76,824.82 L543.99,825.01 L544.22,825.21 L544.44,825.42 L544.67,825.65 L544.90,825.89 L545.12,826.15 L545.35,826.42 L545.58,826.71 L545.80,827.03 L546.03,827.36 L546.26,827.72 L546.48,828.11 L546.71,828.52 L546.94,828.97 L547.16,829.46 L547.39,829.99 L547.62,830.57 L547.84,831.20 L548.07,831.90 L548.30,832.66 L548.52,833.50 L548.75,834.43 L548.98,835.46 L549.21,836.61 L549.43,837.89 L549.66,839.33 L549.89,840.95 L550.11,842.77 L550.34,844.81 L550.57,847.10 L550.79,849.64 L551.02,852.38 L551.25,855.13 L551.40,856.60 L551.40,800.05 L563.40,800.05 L563.40,856.60 L563.49,855.78 L563.72,853.10 L563.95,850.33 L564.18,847.73 L564.40,845.38 L564.63,843.27 L564.86,841.39 L565.08,839.73 L565.31,838.24 L565.54,836.92 L565.76,835.74 L565.99,834.68 L566.22,833.73 L566.44,832.86 L566.67,832.08 L566.90,831.38 L567.12,830.73 L567.35,830.14 L567.58,829.59 L567.80,829.10 L568.03,828.64 L568.26,828.21 L568.48,827.82 L568.71,827.45 L568.94,827.11 L569.17,826.79 L569.39,826.49 L569.62,826.22 L569.85,825.96 L570.07,825.71 L570.30,825.48 L570.53,825.27 L570.75,825.06 L570.98,824.87 L571.21,824.68 L571.43,824.51 L571.66,824.35 L571.89,824.19 L572.11,824.04 L572.34,823.90 L572.57,823.77 L572.79,823.64 L573.02,823.52 L573.25,823.40 L573.47,823.29 L573.70,823.18 L573.93,823.08 L574.16,822.98 L574.38,822.89 L574.61,822.80 L574.84,822.71 L575.06,822.63 L575.29,822.55 L575.52,822.47 L575.74,822.40 L575.97,822.32 L576.20,822.26 L576.42,822.19 L576.65,822.13 L576.88,822.06 L577.10,822.00 L577.33,821.95 L577.56,821.89 L577.78,821.84 L578.01,821.78 L578.24,821.73 L578.46,821.68 L578.69,821.63 L578.92,821.59 L579.15,821.54 L579.37,821.50 L579.60,821.46 L579.83,821.42 L580.05,821.38 L580.28,821.34 L580.51,821.30 L580.73,821.26 L580.96,821.23 L581.19,821.19 L581.41,821.16 L581.64,821.13 L581.87,821.09 L582.09,821.06 L582.32,821.03 L582.55,821.00 L582.77,820.97 L583.00,820.94 L583.23,820.92 L583.45,820.89 L583.68,820.86 L583.91,820.84 L584.14,820.81 L584.36,820.79 L584.59,820.76 L584.82,820.74 L585.04,820.72 L585.27,820.70 L585.50,820.67 L585.72,820.65 L585.95,820.63 L586.18,820.61 L586.40,820.59 L586.63,820.57 L586.86,820.55 L587.08,820.53 L587.31,820.51 L587.54,820.50 L587.76,820.48 L587.99,820.46 L588.22,820.44 L588.44,820.43 L588.67,820.41 L588.90,820.39 L589.13,820.38 L589.35,820.36 L589.58,820.35 L589.81,820.33 L590.03,820.32 L590.26,820.30 L590.49,820.29 L590.71,820.28 L590.94,820.26 L591.17,820.25 L591.39,820.24 L591.62,820.22 L591.85,820.21 L592.07,820.20 L592.30,820.19 L592.53,820.17 L592.75,820.16 L592.98,820.15 L593.21,820.14 L593.43,820.13 L593.66,820.12 L593.89,820.10 L594.12,820.09 L594.34,820.08 L594.57,820.07 L594.80,820.06 L595.02,820.05 L595.25,820.04 L595.48,820.03 L595.70,820.02 L595.93,820.01 L596.16,820.00 L596.38,820.00 L596.61,819.99 L596.84,819.98 L597.06,819.97 L597.29,819.96 L597.52,819.95 L597.74,819.94 L597.97,819.93 L598.20,819.93 L598.42,819.92 L598.65,819.91 L598.88,819.90 L599.11,819.89 L599.33,819.89 L599.56,819.88 L599.79,819.87 L600.01,819.86 L600.24,819.86 L600.47,819.85 L600.69,819.84 L600.92,819.84 L601.15,819.83 L601.37,819.82 L601.60,819.82" fill="none" stroke="#111" stroke-width="2" stroke-dasharray="2.3,6.2" stroke-linecap="round" stroke-linejoin="round"/>
<text x="574" y="849.5" font-family='"Liberation Serif", serif' font-size="19" font-style="italic" fill="#333">E<tspan font-size="13" font-style="normal" dy="4">1</tspan></text>
<rect x="647.1" y="721.4" width="97.0" height="140.2" fill="none" stroke="#333" stroke-width="1.7"/>
<line x1="647.1" y1="792.1" x2="744.1" y2="792.1" stroke="#333" stroke-width="1.7"/>
<path d="M647.1,738.2 h3.5 M647.1,761.3 h3.5 M647.1,784.4 h3.5 M647.1,800.1 h3.5 M647.1,823.4 h3.5 M647.1,846.6 h3.5 " stroke="#333" stroke-width="1.3" fill="none"/>
<path d="M649.6,861.6 v-3.5 M669.0,861.6 v-3.5 M688.3,861.6 v-3.5 M707.6,861.6 v-3.5 M727.0,861.6 v-3.5 " stroke="#333" stroke-width="1.3" fill="none"/>
<text x="643.0" y="743.4" font-family='"Liberation Sans", sans-serif' font-size="15" text-anchor="end" fill="#222" >0.6</text>
<text x="643.0" y="766.5" font-family='"Liberation Sans", sans-serif' font-size="15" text-anchor="end" fill="#222" >0.3</text>
<text x="643.0" y="789.6" font-family='"Liberation Sans", sans-serif' font-size="15" text-anchor="end" fill="#222" >0.0</text>
<text x="643.0" y="805.3" font-family='"Liberation Sans", sans-serif' font-size="15" text-anchor="end" fill="#222" >0.0</text>
<text x="643.0" y="828.6" font-family='"Liberation Sans", sans-serif' font-size="15" text-anchor="end" fill="#222" >-0.3</text>
<text x="643.0" y="851.8" font-family='"Liberation Sans", sans-serif' font-size="15" text-anchor="end" fill="#222" >-0.6</text>
<text x="649.6" y="877.8" font-family='"Liberation Sans", sans-serif' font-size="15" text-anchor="middle" fill="#222" >0</text>
<text x="669.0" y="877.8" font-family='"Liberation Sans", sans-serif' font-size="15" text-anchor="middle" fill="#222" >3</text>
<text x="688.3" y="877.8" font-family='"Liberation Sans", sans-serif' font-size="15" text-anchor="middle" fill="#222" >6</text>
<text x="707.6" y="877.8" font-family='"Liberation Sans", sans-serif' font-size="15" text-anchor="middle" fill="#222" >9</text>
<text x="727.0" y="877.8" font-family='"Liberation Sans", sans-serif' font-size="15" text-anchor="middle" fill="#222" >12</text>
<text x="691.3" y="894.6" font-family='"Liberation Sans", sans-serif' font-size="15.6" text-anchor="middle" fill="#222" >Length (cm)</text>
<path d="M648.10,784.01 L648.60,784.01 L649.10,784.00 L649.60,784.00 L650.10,783.99 L650.60,783.98 L651.10,783.98 L651.60,783.97 L652.10,783.96 L652.60,783.96 L653.10,783.95 L653.60,783.94 L654.10,783.93 L654.60,783.92 L655.10,783.92 L655.60,783.91 L656.10,783.90 L656.60,783.89 L657.10,783.88 L657.60,783.87 L658.10,783.86 L658.60,783.85 L659.10,783.84 L659.60,783.83 L660.10,783.81 L660.60,783.80 L661.10,783.79 L661.60,783.78 L662.10,783.76 L662.60,783.75 L663.10,783.73 L663.60,783.72 L664.10,783.70 L664.60,783.69 L665.10,783.67 L665.60,783.65 L666.10,783.63 L666.60,783.61 L667.10,783.59 L667.60,783.57 L668.10,783.54 L668.60,783.52 L669.10,783.49 L669.60,783.47 L670.10,783.44 L670.60,783.41 L671.10,783.38 L671.60,783.35 L672.10,783.31 L672.60,783.27 L673.10,783.23 L673.60,783.19 L674.10,783.15 L674.60,783.10 L675.10,783.05 L675.60,782.99 L676.10,782.93 L676.60,782.87 L677.10,782.80 L677.60,782.73 L678.10,782.65 L678.60,782.56 L679.10,782.47 L679.60,782.36 L680.10,782.25 L680.60,782.12 L681.10,781.98 L681.60,781.82 L682.10,781.65 L682.60,781.45 L683.10,781.22 L683.60,780.96 L684.10,780.67 L684.60,780.32 L685.10,779.92 L685.60,779.43 L686.10,778.85 L686.60,778.13 L687.10,777.23 L687.60,776.07 L688.10,774.54 L688.60,772.42 L689.10,769.35 L689.60,764.53 L690.10,756.10 L690.60,738.35 L691.10,728.96 L691.60,728.96 L691.70,728.96 L691.70,784.40 L700.10,784.40 L700.10,728.96 L700.60,728.96 L701.10,732.27 L701.60,753.63 L702.10,763.23 L702.60,768.56 L703.10,771.90 L703.60,774.17 L704.10,775.80 L704.60,777.02 L705.10,777.97 L705.60,778.72 L706.10,779.32 L706.60,779.83 L707.10,780.25 L707.60,780.60 L708.10,780.91 L708.60,781.17 L709.10,781.40 L709.60,781.61 L710.10,781.79 L710.60,781.95 L711.10,782.09 L711.60,782.22 L712.10,782.34 L712.60,782.45 L713.10,782.54 L713.60,782.63 L714.10,782.71 L714.60,782.79 L715.10,782.86 L715.60,782.92 L716.10,782.98 L716.60,783.04 L717.10,783.09 L717.60,783.14 L718.10,783.18 L718.60,783.23 L719.10,783.27 L719.60,783.30 L720.10,783.34 L720.60,783.37 L721.10,783.40 L721.60,783.43 L722.10,783.46 L722.60,783.49 L723.10,783.52 L723.60,783.54 L724.10,783.56 L724.60,783.59 L725.10,783.61 L725.60,783.63 L726.10,783.65 L726.60,783.66 L727.10,783.68 L727.60,783.70 L728.10,783.71 L728.60,783.73 L729.10,783.75 L729.60,783.76 L730.10,783.77 L730.60,783.79 L731.10,783.80 L731.60,783.81 L732.10,783.82 L732.60,783.84 L733.10,783.85 L733.60,783.86 L734.10,783.87 L734.60,783.88 L735.10,783.89 L735.60,783.90 L736.10,783.91 L736.60,783.91 L737.10,783.92 L737.60,783.93 L738.10,783.94 L738.60,783.95 L739.10,783.95 L739.60,783.96 L740.10,783.97 L740.60,783.98 L741.10,783.98 L741.60,783.99 L742.10,784.00 L742.60,784.00 L743.10,784.01" fill="none" stroke="#6fd0f4" stroke-width="2.6" stroke-linejoin="round"/>
<path d="M648.10,784.01 L648.60,784.01 L649.10,784.00 L649.60,784.00 L650.10,783.99 L650.60,783.98 L651.10,783.98 L651.60,783.97 L652.10,783.96 L652.60,783.96 L653.10,783.95 L653.60,783.94 L654.10,783.93 L654.60,783.92 L655.10,783.92 L655.60,783.91 L656.10,783.90 L656.60,783.89 L657.10,783.88 L657.60,783.87 L658.10,783.86 L658.60,783.85 L659.10,783.84 L659.60,783.83 L660.10,783.81 L660.60,783.80 L661.10,783.79 L661.60,783.78 L662.10,783.76 L662.60,783.75 L663.10,783.73 L663.60,783.72 L664.10,783.70 L664.60,783.69 L665.10,783.67 L665.60,783.65 L666.10,783.63 L666.60,783.61 L667.10,783.59 L667.60,783.57 L668.10,783.54 L668.60,783.52 L669.10,783.49 L669.60,783.47 L670.10,783.44 L670.60,783.41 L671.10,783.38 L671.60,783.35 L672.10,783.31 L672.60,783.27 L673.10,783.23 L673.60,783.19 L674.10,783.15 L674.60,783.10 L675.10,783.05 L675.60,782.99 L676.10,782.93 L676.60,782.87 L677.10,782.80 L677.60,782.73 L678.10,782.65 L678.60,782.56 L679.10,782.47 L679.60,782.36 L680.10,782.25 L680.60,782.12 L681.10,781.98 L681.60,781.82 L682.10,781.65 L682.60,781.45 L683.10,781.22 L683.60,780.96 L684.10,780.67 L684.60,780.32 L685.10,779.92 L685.60,779.43 L686.10,778.85 L686.60,778.13 L687.10,777.23 L687.60,776.07 L688.10,774.54 L688.60,772.42 L689.10,769.35 L689.60,764.53 L690.10,756.10 L690.60,738.35 L691.10,728.96 L691.60,728.96 L691.70,728.96 L691.70,784.40 L700.10,784.40 L700.10,728.96 L700.60,728.96 L701.10,732.27 L701.60,753.63 L702.10,763.23 L702.60,768.56 L703.10,771.90 L703.60,774.17 L704.10,775.80 L704.60,777.02 L705.10,777.97 L705.60,778.72 L706.10,779.32 L706.60,779.83 L707.10,780.25 L707.60,780.60 L708.10,780.91 L708.60,781.17 L709.10,781.40 L709.60,781.61 L710.10,781.79 L710.60,781.95 L711.10,782.09 L711.60,782.22 L712.10,782.34 L712.60,782.45 L713.10,782.54 L713.60,782.63 L714.10,782.71 L714.60,782.79 L715.10,782.86 L715.60,782.92 L716.10,782.98 L716.60,783.04 L717.10,783.09 L717.60,783.14 L718.10,783.18 L718.60,783.23 L719.10,783.27 L719.60,783.30 L720.10,783.34 L720.60,783.37 L721.10,783.40 L721.60,783.43 L722.10,783.46 L722.60,783.49 L723.10,783.52 L723.60,783.54 L724.10,783.56 L724.60,783.59 L725.10,783.61 L725.60,783.63 L726.10,783.65 L726.60,783.66 L727.10,783.68 L727.60,783.70 L728.10,783.71 L728.60,783.73 L729.10,783.75 L729.60,783.76 L730.10,783.77 L730.60,783.79 L731.10,783.80 L731.60,783.81 L732.10,783.82 L732.60,783.84 L733.10,783.85 L733.60,783.86 L734.10,783.87 L734.60,783.88 L735.10,783.89 L735.60,783.90 L736.10,783.91 L736.60,783.91 L737.10,783.92 L737.60,783.93 L738.10,783.94 L738.60,783.95 L739.10,783.95 L739.60,783.96 L740.10,783.97 L740.60,783.98 L741.10,783.98 L741.60,783.99 L742.10,784.00 L742.60,784.00 L743.10,784.01" fill="none" stroke="#111" stroke-width="2" stroke-dasharray="2.3,6.2" stroke-linecap="round" stroke-linejoin="round"/>
<path d="M648.10,800.49 L648.60,800.49 L649.10,800.50 L649.60,800.51 L650.10,800.51 L650.60,800.52 L651.10,800.53 L651.60,800.53 L652.10,800.54 L652.60,800.55 L653.10,800.55 L653.60,800.56 L654.10,800.57 L654.60,800.58 L655.10,800.59 L655.60,800.60 L656.10,800.60 L656.60,800.61 L657.10,800.62 L657.60,800.63 L658.10,800.64 L658.60,800.65 L659.10,800.67 L659.60,800.68 L660.10,800.69 L660.60,800.70 L661.10,800.71 L661.60,800.73 L662.10,800.74 L662.60,800.76 L663.10,800.77 L663.60,800.79 L664.10,800.80 L664.60,800.82 L665.10,800.84 L665.60,800.86 L666.10,800.87 L666.60,800.89 L667.10,800.92 L667.60,800.94 L668.10,800.96 L668.60,800.99 L669.10,801.01 L669.60,801.04 L670.10,801.07 L670.60,801.10 L671.10,801.13 L671.60,801.16 L672.10,801.20 L672.60,801.23 L673.10,801.27 L673.60,801.32 L674.10,801.36 L674.60,801.41 L675.10,801.46 L675.60,801.52 L676.10,801.58 L676.60,801.64 L677.10,801.71 L677.60,801.78 L678.10,801.86 L678.60,801.95 L679.10,802.05 L679.60,802.15 L680.10,802.27 L680.60,802.40 L681.10,802.54 L681.60,802.70 L682.10,802.87 L682.60,803.07 L683.10,803.30 L683.60,803.56 L684.10,803.86 L684.60,804.20 L685.10,804.61 L685.60,805.10 L686.10,805.69 L686.60,806.41 L687.10,807.32 L687.60,808.48 L688.10,810.02 L688.60,812.15 L689.10,815.25 L689.60,820.10 L690.10,828.58 L690.60,846.45 L691.10,855.90 L691.60,855.90 L691.70,855.90 L691.70,800.10 L700.10,800.10 L700.10,855.90 L700.60,855.90 L701.10,852.57 L701.60,831.07 L702.10,821.41 L702.60,816.04 L703.10,812.68 L703.60,810.39 L704.10,808.75 L704.60,807.53 L705.10,806.57 L705.60,805.82 L706.10,805.21 L706.60,804.70 L707.10,804.28 L707.60,803.92 L708.10,803.61 L708.60,803.35 L709.10,803.12 L709.60,802.91 L710.10,802.73 L710.60,802.57 L711.10,802.42 L711.60,802.29 L712.10,802.17 L712.60,802.07 L713.10,801.97 L713.60,801.88 L714.10,801.80 L714.60,801.72 L715.10,801.65 L715.60,801.59 L716.10,801.53 L716.60,801.47 L717.10,801.42 L717.60,801.37 L718.10,801.32 L718.60,801.28 L719.10,801.24 L719.60,801.20 L720.10,801.17 L720.60,801.13 L721.10,801.10 L721.60,801.07 L722.10,801.04 L722.60,801.02 L723.10,800.99 L723.60,800.97 L724.10,800.94 L724.60,800.92 L725.10,800.90 L725.60,800.88 L726.10,800.86 L726.60,800.84 L727.10,800.82 L727.60,800.81 L728.10,800.79 L728.60,800.77 L729.10,800.76 L729.60,800.74 L730.10,800.73 L730.60,800.72 L731.10,800.70 L731.60,800.69 L732.10,800.68 L732.60,800.67 L733.10,800.66 L733.60,800.65 L734.10,800.64 L734.60,800.63 L735.10,800.62 L735.60,800.61 L736.10,800.60 L736.60,800.59 L737.10,800.58 L737.60,800.57 L738.10,800.56 L738.60,800.56 L739.10,800.55 L739.60,800.54 L740.10,800.53 L740.60,800.53 L741.10,800.52 L741.60,800.51 L742.10,800.51 L742.60,800.50 L743.10,800.49" fill="none" stroke="#6fd0f4" stroke-width="2.6" stroke-linejoin="round"/>
<path d="M648.10,800.49 L648.60,800.49 L649.10,800.50 L649.60,800.51 L650.10,800.51 L650.60,800.52 L651.10,800.53 L651.60,800.53 L652.10,800.54 L652.60,800.55 L653.10,800.55 L653.60,800.56 L654.10,800.57 L654.60,800.58 L655.10,800.59 L655.60,800.60 L656.10,800.60 L656.60,800.61 L657.10,800.62 L657.60,800.63 L658.10,800.64 L658.60,800.65 L659.10,800.67 L659.60,800.68 L660.10,800.69 L660.60,800.70 L661.10,800.71 L661.60,800.73 L662.10,800.74 L662.60,800.76 L663.10,800.77 L663.60,800.79 L664.10,800.80 L664.60,800.82 L665.10,800.84 L665.60,800.86 L666.10,800.87 L666.60,800.89 L667.10,800.92 L667.60,800.94 L668.10,800.96 L668.60,800.99 L669.10,801.01 L669.60,801.04 L670.10,801.07 L670.60,801.10 L671.10,801.13 L671.60,801.16 L672.10,801.20 L672.60,801.23 L673.10,801.27 L673.60,801.32 L674.10,801.36 L674.60,801.41 L675.10,801.46 L675.60,801.52 L676.10,801.58 L676.60,801.64 L677.10,801.71 L677.60,801.78 L678.10,801.86 L678.60,801.95 L679.10,802.05 L679.60,802.15 L680.10,802.27 L680.60,802.40 L681.10,802.54 L681.60,802.70 L682.10,802.87 L682.60,803.07 L683.10,803.30 L683.60,803.56 L684.10,803.86 L684.60,804.20 L685.10,804.61 L685.60,805.10 L686.10,805.69 L686.60,806.41 L687.10,807.32 L687.60,808.48 L688.10,810.02 L688.60,812.15 L689.10,815.25 L689.60,820.10 L690.10,828.58 L690.60,846.45 L691.10,855.90 L691.60,855.90 L691.70,855.90 L691.70,800.10 L700.10,800.10 L700.10,855.90 L700.60,855.90 L701.10,852.57 L701.60,831.07 L702.10,821.41 L702.60,816.04 L703.10,812.68 L703.60,810.39 L704.10,808.75 L704.60,807.53 L705.10,806.57 L705.60,805.82 L706.10,805.21 L706.60,804.70 L707.10,804.28 L707.60,803.92 L708.10,803.61 L708.60,803.35 L709.10,803.12 L709.60,802.91 L710.10,802.73 L710.60,802.57 L711.10,802.42 L711.60,802.29 L712.10,802.17 L712.60,802.07 L713.10,801.97 L713.60,801.88 L714.10,801.80 L714.60,801.72 L715.10,801.65 L715.60,801.59 L716.10,801.53 L716.60,801.47 L717.10,801.42 L717.60,801.37 L718.10,801.32 L718.60,801.28 L719.10,801.24 L719.60,801.20 L720.10,801.17 L720.60,801.13 L721.10,801.10 L721.60,801.07 L722.10,801.04 L722.60,801.02 L723.10,800.99 L723.60,800.97 L724.10,800.94 L724.60,800.92 L725.10,800.90 L725.60,800.88 L726.10,800.86 L726.60,800.84 L727.10,800.82 L727.60,800.81 L728.10,800.79 L728.60,800.77 L729.10,800.76 L729.60,800.74 L730.10,800.73 L730.60,800.72 L731.10,800.70 L731.60,800.69 L732.10,800.68 L732.60,800.67 L733.10,800.66 L733.60,800.65 L734.10,800.64 L734.60,800.63 L735.10,800.62 L735.60,800.61 L736.10,800.60 L736.60,800.59 L737.10,800.58 L737.60,800.57 L738.10,800.56 L738.60,800.56 L739.10,800.55 L739.60,800.54 L740.10,800.53 L740.60,800.53 L741.10,800.52 L741.60,800.51 L742.10,800.51 L742.60,800.50 L743.10,800.49" fill="none" stroke="#111" stroke-width="2" stroke-dasharray="2.3,6.2" stroke-linecap="round" stroke-linejoin="round"/>
<text x="710.1" y="849.5" font-family='"Liberation Serif", serif' font-size="19" font-style="italic" fill="#333">E<tspan font-size="13" font-style="normal" dy="4">2</tspan></text>
<rect x="778.6" y="721.4" width="96.3" height="140.2" fill="none" stroke="#333" stroke-width="1.7"/>
<line x1="778.6" y1="792.1" x2="874.9" y2="792.1" stroke="#333" stroke-width="1.7"/>
<path d="M778.6,738.2 h3.5 M778.6,761.3 h3.5 M778.6,784.4 h3.5 M778.6,800.1 h3.5 M778.6,823.4 h3.5 M778.6,846.6 h3.5 " stroke="#333" stroke-width="1.3" fill="none"/>
<path d="M781.5,861.6 v-3.5 M800.9,861.6 v-3.5 M820.2,861.6 v-3.5 M839.5,861.6 v-3.5 M858.9,861.6 v-3.5 " stroke="#333" stroke-width="1.3" fill="none"/>
<text x="774.5" y="743.4" font-family='"Liberation Sans", sans-serif' font-size="15" text-anchor="end" fill="#222" >0.6</text>
<text x="774.5" y="766.5" font-family='"Liberation Sans", sans-serif' font-size="15" text-anchor="end" fill="#222" >0.3</text>
<text x="774.5" y="789.6" font-family='"Liberation Sans", sans-serif' font-size="15" text-anchor="end" fill="#222" >0.0</text>
<text x="774.5" y="805.3" font-family='"Liberation Sans", sans-serif' font-size="15" text-anchor="end" fill="#222" >0.0</text>
<text x="774.5" y="828.6" font-family='"Liberation Sans", sans-serif' font-size="15" text-anchor="end" fill="#222" >-0.3</text>
<text x="774.5" y="851.8" font-family='"Liberation Sans", sans-serif' font-size="15" text-anchor="end" fill="#222" >-0.6</text>
<text x="781.5" y="877.8" font-family='"Liberation Sans", sans-serif' font-size="15" text-anchor="middle" fill="#222" >0</text>
<text x="800.9" y="877.8" font-family='"Liberation Sans", sans-serif' font-size="15" text-anchor="middle" fill="#222" >3</text>
<text x="820.2" y="877.8" font-family='"Liberation Sans", sans-serif' font-size="15" text-anchor="middle" fill="#222" >6</text>
<text x="839.5" y="877.8" font-family='"Liberation Sans", sans-serif' font-size="15" text-anchor="middle" fill="#222" >9</text>
<text x="858.9" y="877.8" font-family='"Liberation Sans", sans-serif' font-size="15" text-anchor="middle" fill="#222" >12</text>
<text x="822.5" y="894.6" font-family='"Liberation Sans", sans-serif' font-size="15.6" text-anchor="middle" fill="#222" >Length (cm)</text>
<path d="M779.60,784.01 L780.10,784.01 L780.60,784.00 L781.10,783.99 L781.60,783.99 L782.10,783.98 L782.60,783.97 L783.10,783.97 L783.60,783.96 L784.10,783.95 L784.60,783.95 L785.10,783.94 L785.60,783.93 L786.10,783.92 L786.60,783.91 L787.10,783.90 L787.60,783.89 L788.10,783.89 L788.60,783.88 L789.10,783.87 L789.60,783.86 L790.10,783.84 L790.60,783.83 L791.10,783.82 L791.60,783.81 L792.10,783.80 L792.60,783.78 L793.10,783.77 L793.60,783.76 L794.10,783.74 L794.60,783.73 L795.10,783.71 L795.60,783.70 L796.10,783.68 L796.60,783.66 L797.10,783.64 L797.60,783.62 L798.10,783.60 L798.60,783.58 L799.10,783.56 L799.60,783.53 L800.10,783.51 L800.60,783.48 L801.10,783.46 L801.60,783.43 L802.10,783.40 L802.60,783.37 L803.10,783.33 L803.60,783.30 L804.10,783.26 L804.60,783.22 L805.10,783.17 L805.60,783.13 L806.10,783.08 L806.60,783.03 L807.10,782.97 L807.60,782.91 L808.10,782.84 L808.60,782.77 L809.10,782.70 L809.60,782.61 L810.10,782.52 L810.60,782.42 L811.10,782.32 L811.60,782.20 L812.10,782.06 L812.60,781.92 L813.10,781.75 L813.60,781.57 L814.10,781.36 L814.60,781.12 L815.10,780.85 L815.60,780.54 L816.10,780.17 L816.60,779.73 L817.10,779.21 L817.60,778.58 L818.10,777.80 L818.60,776.80 L819.10,775.51 L819.60,773.78 L820.10,771.34 L820.60,767.70 L821.10,761.77 L821.60,750.74 L822.10,728.96 L822.60,728.96 L823.00,728.96 L823.00,784.40 L831.30,784.40 L831.30,728.96 L831.80,728.96 L832.30,732.27 L832.80,753.63 L833.30,763.23 L833.80,768.56 L834.30,771.90 L834.80,774.17 L835.30,775.80 L835.80,777.02 L836.30,777.97 L836.80,778.72 L837.30,779.32 L837.80,779.83 L838.30,780.25 L838.80,780.60 L839.30,780.91 L839.80,781.17 L840.30,781.40 L840.80,781.61 L841.30,781.79 L841.80,781.95 L842.30,782.09 L842.80,782.22 L843.30,782.34 L843.80,782.45 L844.30,782.54 L844.80,782.63 L845.30,782.71 L845.80,782.79 L846.30,782.86 L846.80,782.92 L847.30,782.98 L847.80,783.04 L848.30,783.09 L848.80,783.14 L849.30,783.18 L849.80,783.23 L850.30,783.27 L850.80,783.30 L851.30,783.34 L851.80,783.37 L852.30,783.40 L852.80,783.43 L853.30,783.46 L853.80,783.49 L854.30,783.52 L854.80,783.54 L855.30,783.56 L855.80,783.59 L856.30,783.61 L856.80,783.63 L857.30,783.65 L857.80,783.66 L858.30,783.68 L858.80,783.70 L859.30,783.71 L859.80,783.73 L860.30,783.75 L860.80,783.76 L861.30,783.77 L861.80,783.79 L862.30,783.80 L862.80,783.81 L863.30,783.82 L863.80,783.84 L864.30,783.85 L864.80,783.86 L865.30,783.87 L865.80,783.88 L866.30,783.89 L866.80,783.90 L867.30,783.91 L867.80,783.91 L868.30,783.92 L868.80,783.93 L869.30,783.94 L869.80,783.95 L870.30,783.95 L870.80,783.96 L871.30,783.97 L871.80,783.98 L872.30,783.98 L872.80,783.99 L873.30,784.00 L873.80,784.00" fill="none" stroke="#6fd0f4" stroke-width="2.6" stroke-linejoin="round"/>
<path d="M779.60,784.01 L780.10,784.01 L780.60,784.00 L781.10,783.99 L781.60,783.99 L782.10,783.98 L782.60,783.97 L783.10,783.97 L783.60,783.96 L784.10,783.95 L784.60,783.95 L785.10,783.94 L785.60,783.93 L786.10,783.92 L786.60,783.91 L787.10,783.90 L787.60,783.89 L788.10,783.89 L788.60,783.88 L789.10,783.87 L789.60,783.86 L790.10,783.84 L790.60,783.83 L791.10,783.82 L791.60,783.81 L792.10,783.80 L792.60,783.78 L793.10,783.77 L793.60,783.76 L794.10,783.74 L794.60,783.73 L795.10,783.71 L795.60,783.70 L796.10,783.68 L796.60,783.66 L797.10,783.64 L797.60,783.62 L798.10,783.60 L798.60,783.58 L799.10,783.56 L799.60,783.53 L800.10,783.51 L800.60,783.48 L801.10,783.46 L801.60,783.43 L802.10,783.40 L802.60,783.37 L803.10,783.33 L803.60,783.30 L804.10,783.26 L804.60,783.22 L805.10,783.17 L805.60,783.13 L806.10,783.08 L806.60,783.03 L807.10,782.97 L807.60,782.91 L808.10,782.84 L808.60,782.77 L809.10,782.70 L809.60,782.61 L810.10,782.52 L810.60,782.42 L811.10,782.32 L811.60,782.20 L812.10,782.06 L812.60,781.92 L813.10,781.75 L813.60,781.57 L814.10,781.36 L814.60,781.12 L815.10,780.85 L815.60,780.54 L816.10,780.17 L816.60,779.73 L817.10,779.21 L817.60,778.58 L818.10,777.80 L818.60,776.80 L819.10,775.51 L819.60,773.78 L820.10,771.34 L820.60,767.70 L821.10,761.77 L821.60,750.74 L822.10,728.96 L822.60,728.96 L823.00,728.96 L823.00,784.40 L831.30,784.40 L831.30,728.96 L831.80,728.96 L832.30,732.27 L832.80,753.63 L833.30,763.23 L833.80,768.56 L834.30,771.90 L834.80,774.17 L835.30,775.80 L835.80,777.02 L836.30,777.97 L836.80,778.72 L837.30,779.32 L837.80,779.83 L838.30,780.25 L838.80,780.60 L839.30,780.91 L839.80,781.17 L840.30,781.40 L840.80,781.61 L841.30,781.79 L841.80,781.95 L842.30,782.09 L842.80,782.22 L843.30,782.34 L843.80,782.45 L844.30,782.54 L844.80,782.63 L845.30,782.71 L845.80,782.79 L846.30,782.86 L846.80,782.92 L847.30,782.98 L847.80,783.04 L848.30,783.09 L848.80,783.14 L849.30,783.18 L849.80,783.23 L850.30,783.27 L850.80,783.30 L851.30,783.34 L851.80,783.37 L852.30,783.40 L852.80,783.43 L853.30,783.46 L853.80,783.49 L854.30,783.52 L854.80,783.54 L855.30,783.56 L855.80,783.59 L856.30,783.61 L856.80,783.63 L857.30,783.65 L857.80,783.66 L858.30,783.68 L858.80,783.70 L859.30,783.71 L859.80,783.73 L860.30,783.75 L860.80,783.76 L861.30,783.77 L861.80,783.79 L862.30,783.80 L862.80,783.81 L863.30,783.82 L863.80,783.84 L864.30,783.85 L864.80,783.86 L865.30,783.87 L865.80,783.88 L866.30,783.89 L866.80,783.90 L867.30,783.91 L867.80,783.91 L868.30,783.92 L868.80,783.93 L869.30,783.94 L869.80,783.95 L870.30,783.95 L870.80,783.96 L871.30,783.97 L871.80,783.98 L872.30,783.98 L872.80,783.99 L873.30,784.00 L873.80,784.00" fill="none" stroke="#111" stroke-width="2" stroke-dasharray="2.3,6.2" stroke-linecap="round" stroke-linejoin="round"/>
<path d="M779.60,800.49 L780.10,800.50 L780.60,800.50 L781.10,800.51 L781.60,800.51 L782.10,800.52 L782.60,800.53 L783.10,800.54 L783.60,800.54 L784.10,800.55 L784.60,800.56 L785.10,800.57 L785.60,800.57 L786.10,800.58 L786.60,800.59 L787.10,800.60 L787.60,800.61 L788.10,800.62 L788.60,800.63 L789.10,800.64 L789.60,800.65 L790.10,800.66 L790.60,800.67 L791.10,800.68 L791.60,800.69 L792.10,800.71 L792.60,800.72 L793.10,800.73 L793.60,800.75 L794.10,800.76 L794.60,800.78 L795.10,800.79 L795.60,800.81 L796.10,800.83 L796.60,800.84 L797.10,800.86 L797.60,800.88 L798.10,800.90 L798.60,800.92 L799.10,800.95 L799.60,800.97 L800.10,801.00 L800.60,801.02 L801.10,801.05 L801.60,801.08 L802.10,801.11 L802.60,801.14 L803.10,801.17 L803.60,801.21 L804.10,801.25 L804.60,801.29 L805.10,801.33 L805.60,801.38 L806.10,801.43 L806.60,801.48 L807.10,801.54 L807.60,801.60 L808.10,801.67 L808.60,801.74 L809.10,801.81 L809.60,801.90 L810.10,801.99 L810.60,802.09 L811.10,802.20 L811.60,802.32 L812.10,802.45 L812.60,802.60 L813.10,802.76 L813.60,802.95 L814.10,803.16 L814.60,803.40 L815.10,803.67 L815.60,803.99 L816.10,804.36 L816.60,804.80 L817.10,805.32 L817.60,805.96 L818.10,806.75 L818.60,807.75 L819.10,809.04 L819.60,810.79 L820.10,813.25 L820.60,816.91 L821.10,822.88 L821.60,833.98 L822.10,855.90 L822.60,855.90 L823.00,855.90 L823.00,800.10 L831.30,800.10 L831.30,855.90 L831.80,855.90 L832.30,852.57 L832.80,831.07 L833.30,821.41 L833.80,816.04 L834.30,812.68 L834.80,810.39 L835.30,808.75 L835.80,807.53 L836.30,806.57 L836.80,805.82 L837.30,805.21 L837.80,804.70 L838.30,804.28 L838.80,803.92 L839.30,803.61 L839.80,803.35 L840.30,803.12 L840.80,802.91 L841.30,802.73 L841.80,802.57 L842.30,802.42 L842.80,802.29 L843.30,802.17 L843.80,802.07 L844.30,801.97 L844.80,801.88 L845.30,801.80 L845.80,801.72 L846.30,801.65 L846.80,801.59 L847.30,801.53 L847.80,801.47 L848.30,801.42 L848.80,801.37 L849.30,801.32 L849.80,801.28 L850.30,801.24 L850.80,801.20 L851.30,801.17 L851.80,801.13 L852.30,801.10 L852.80,801.07 L853.30,801.04 L853.80,801.02 L854.30,800.99 L854.80,800.97 L855.30,800.94 L855.80,800.92 L856.30,800.90 L856.80,800.88 L857.30,800.86 L857.80,800.84 L858.30,800.82 L858.80,800.81 L859.30,800.79 L859.80,800.77 L860.30,800.76 L860.80,800.74 L861.30,800.73 L861.80,800.72 L862.30,800.70 L862.80,800.69 L863.30,800.68 L863.80,800.67 L864.30,800.66 L864.80,800.65 L865.30,800.64 L865.80,800.63 L866.30,800.62 L866.80,800.61 L867.30,800.60 L867.80,800.59 L868.30,800.58 L868.80,800.57 L869.30,800.56 L869.80,800.56 L870.30,800.55 L870.80,800.54 L871.30,800.53 L871.80,800.53 L872.30,800.52 L872.80,800.51 L873.30,800.51 L873.80,800.50" fill="none" stroke="#6fd0f4" stroke-width="2.6" stroke-linejoin="round"/>
<path d="M779.60,800.49 L780.10,800.50 L780.60,800.50 L781.10,800.51 L781.60,800.51 L782.10,800.52 L782.60,800.53 L783.10,800.54 L783.60,800.54 L784.10,800.55 L784.60,800.56 L785.10,800.57 L785.60,800.57 L786.10,800.58 L786.60,800.59 L787.10,800.60 L787.60,800.61 L788.10,800.62 L788.60,800.63 L789.10,800.64 L789.60,800.65 L790.10,800.66 L790.60,800.67 L791.10,800.68 L791.60,800.69 L792.10,800.71 L792.60,800.72 L793.10,800.73 L793.60,800.75 L794.10,800.76 L794.60,800.78 L795.10,800.79 L795.60,800.81 L796.10,800.83 L796.60,800.84 L797.10,800.86 L797.60,800.88 L798.10,800.90 L798.60,800.92 L799.10,800.95 L799.60,800.97 L800.10,801.00 L800.60,801.02 L801.10,801.05 L801.60,801.08 L802.10,801.11 L802.60,801.14 L803.10,801.17 L803.60,801.21 L804.10,801.25 L804.60,801.29 L805.10,801.33 L805.60,801.38 L806.10,801.43 L806.60,801.48 L807.10,801.54 L807.60,801.60 L808.10,801.67 L808.60,801.74 L809.10,801.81 L809.60,801.90 L810.10,801.99 L810.60,802.09 L811.10,802.20 L811.60,802.32 L812.10,802.45 L812.60,802.60 L813.10,802.76 L813.60,802.95 L814.10,803.16 L814.60,803.40 L815.10,803.67 L815.60,803.99 L816.10,804.36 L816.60,804.80 L817.10,805.32 L817.60,805.96 L818.10,806.75 L818.60,807.75 L819.10,809.04 L819.60,810.79 L820.10,813.25 L820.60,816.91 L821.10,822.88 L821.60,833.98 L822.10,855.90 L822.60,855.90 L823.00,855.90 L823.00,800.10 L831.30,800.10 L831.30,855.90 L831.80,855.90 L832.30,852.57 L832.80,831.07 L833.30,821.41 L833.80,816.04 L834.30,812.68 L834.80,810.39 L835.30,808.75 L835.80,807.53 L836.30,806.57 L836.80,805.82 L837.30,805.21 L837.80,804.70 L838.30,804.28 L838.80,803.92 L839.30,803.61 L839.80,803.35 L840.30,803.12 L840.80,802.91 L841.30,802.73 L841.80,802.57 L842.30,802.42 L842.80,802.29 L843.30,802.17 L843.80,802.07 L844.30,801.97 L844.80,801.88 L845.30,801.80 L845.80,801.72 L846.30,801.65 L846.80,801.59 L847.30,801.53 L847.80,801.47 L848.30,801.42 L848.80,801.37 L849.30,801.32 L849.80,801.28 L850.30,801.24 L850.80,801.20 L851.30,801.17 L851.80,801.13 L852.30,801.10 L852.80,801.07 L853.30,801.04 L853.80,801.02 L854.30,800.99 L854.80,800.97 L855.30,800.94 L855.80,800.92 L856.30,800.90 L856.80,800.88 L857.30,800.86 L857.80,800.84 L858.30,800.82 L858.80,800.81 L859.30,800.79 L859.80,800.77 L860.30,800.76 L860.80,800.74 L861.30,800.73 L861.80,800.72 L862.30,800.70 L862.80,800.69 L863.30,800.68 L863.80,800.67 L864.30,800.66 L864.80,800.65 L865.30,800.64 L865.80,800.63 L866.30,800.62 L866.80,800.61 L867.30,800.60 L867.80,800.59 L868.30,800.58 L868.80,800.57 L869.30,800.56 L869.80,800.56 L870.30,800.55 L870.80,800.54 L871.30,800.53 L871.80,800.53 L872.30,800.52 L872.80,800.51 L873.30,800.51 L873.80,800.50" fill="none" stroke="#111" stroke-width="2" stroke-dasharray="2.3,6.2" stroke-linecap="round" stroke-linejoin="round"/>
<text x="840.9" y="849.5" font-family='"Liberation Serif", serif' font-size="19" font-style="italic" fill="#333">E<tspan font-size="13" font-style="normal" dy="4">3</tspan></text>
<line x1="510" y1="922.3" x2="552" y2="922.3" stroke="#5fcbf2" stroke-width="2.6"/>
<text x="557.5" y="928.5" font-family='"Liberation Sans", sans-serif' font-size="16.8" fill="#222" >This work</text>
<path d="M648,922.3 h9 M666,922.3 h9 M686,922.3 h3.2" stroke="#111" stroke-width="2.6"/>
<text x="693.0" y="928.5" font-family='"Liberation Sans", sans-serif' font-size="16.8" fill="#222" >Ref. (39)</text>
<g>
<clipPath id="logoc"><rect x="795.4" y="850" width="59.6" height="60" rx="8"/></clipPath>
<g clip-path="url(#logoc)"><rect x="795" y="849" width="61" height="62" fill="#d6060e"/>
<path d="M795,849 H811 C811,866 814,878 819,888 C823,896 826,904 829,911 H795 Z" fill="#e8620f"/>
<path d="M795,876 C802,877 808,881 813,887 C818,894 822,902 825,911 H795 Z" fill="#ef8a1e"/>
<path d="M846,911 C848,905 851,902 856,900 V911 Z" fill="#e9e9e9"/>
<circle cx="838" cy="868" r="14" fill="none" stroke="#e8303a" stroke-width="0.8"/>
</g>
<g stroke="#fff" stroke-width="3.2" fill="none" stroke-linecap="butt" stroke-linejoin="miter">
<path d="M806,864.5 V876 H822.5 V864.5 M814.3,861 V876"/>
<path d="M810.5,875 L814.3,870 L818,875" stroke-width="1.6"/>
<path d="M827,867.5 H846.5 M836.8,859 V868 C835,873 831.5,876 827.5,878 M837.5,869 C840,873 843,876 847,878"/>
</g>
<g stroke="#fff" stroke-width="2.2" fill="none">
<path d="M803.5,884 H815.5 M806,886.8 H813 V890.6 H806 Z M804.6,901.8 V893 H814.8 V901.8 M807,897 H812.5 M809.7,895 V901.5"/>
<path d="M817.3,887.3 H825 V894 H817.3 Z M821.1,883.5 V901.5 M816.8,899.5 L825.8,898.5"/>
<path d="M826.5,889 H834 M830.8,883 C830,889 828.8,894 827.8,897 C830,898 832.5,899.5 834,901 M833,889 C832.5,894 830,898.5 826.8,901.5"/>
<path d="M835,885.6 H847.6 M838.2,883 V893.2 M844.6,883 V893.2 M838.2,889.2 H844.6 M838.2,892.6 H844.6 M835,896 H847.6 M841.4,892.8 V902 M841.2,896.5 L835.6,901.5 M841.6,896.5 L847.6,901.5"/>
</g></g>
</svg></body></html>
